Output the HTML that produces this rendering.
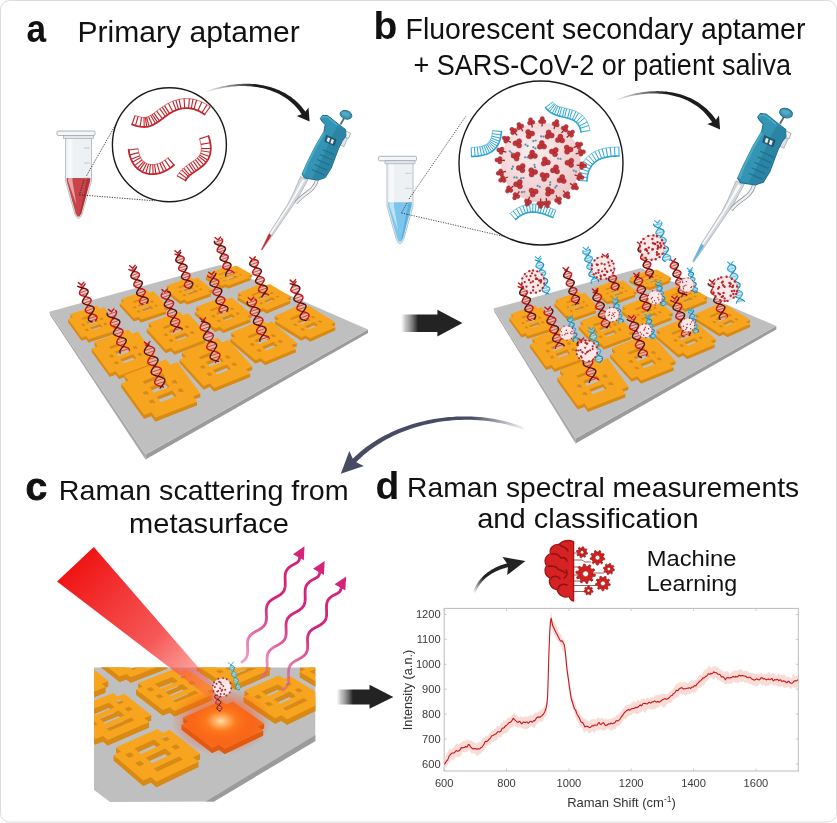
<!DOCTYPE html>
<html><head><meta charset="utf-8"><title>Figure</title><style>html,body{margin:0;padding:0;background:#fff;}body{width:837px;height:823px;overflow:hidden;font-family:"Liberation Sans",sans-serif;}svg{display:block;will-change:transform;opacity:0.999;}</style></head><body><svg width="837" height="823" viewBox="0 0 837 823" font-family="'Liberation Sans', sans-serif"><defs><linearGradient id="ga" gradientUnits="userSpaceOnUse" x1="206.2" y1="91.7" x2="256.2" y2="85.7"><stop offset="0" stop-color="#1c1c1c" stop-opacity="0.05"/><stop offset="1" stop-color="#1c1c1c" stop-opacity="1"/></linearGradient><radialGradient id="vg" cx="0.4" cy="0.35" r="0.75"><stop offset="0" stop-color="#fbeeee"/><stop offset="1" stop-color="#ecc4c6"/></radialGradient><linearGradient id="gb" gradientUnits="userSpaceOnUse" x1="616.3" y1="100" x2="666.2" y2="93"><stop offset="0" stop-color="#1c1c1c" stop-opacity="0.05"/><stop offset="1" stop-color="#1c1c1c" stop-opacity="1"/></linearGradient><linearGradient id="gab" gradientUnits="userSpaceOnUse" x1="400.9" y1="0" x2="418" y2="0"><stop offset="0" stop-color="#bdbdbd" stop-opacity="0.0"/><stop offset="0.25" stop-color="#999" stop-opacity="0.55"/><stop offset="1" stop-color="#232323"/></linearGradient><linearGradient id="gcd" gradientUnits="userSpaceOnUse" x1="336.5" y1="0" x2="353" y2="0"><stop offset="0" stop-color="#bdbdbd" stop-opacity="0.0"/><stop offset="0.25" stop-color="#999" stop-opacity="0.55"/><stop offset="1" stop-color="#232323"/></linearGradient><linearGradient id="gbc" gradientUnits="userSpaceOnUse" x1="524" y1="428.8" x2="471.2" y2="418.2"><stop offset="0" stop-color="#484b63" stop-opacity="0.05"/><stop offset="1" stop-color="#484b63" stop-opacity="1"/></linearGradient><linearGradient id="gml" gradientUnits="userSpaceOnUse" x1="474.3" y1="592.6" x2="484" y2="577.6"><stop offset="0" stop-color="#222" stop-opacity="0.05"/><stop offset="1" stop-color="#222" stop-opacity="1"/></linearGradient><radialGradient id="glow"><stop offset="0" stop-color="#ffe2a8" stop-opacity="0.95"/><stop offset="0.3" stop-color="#ff7a1a" stop-opacity="0.8"/><stop offset="0.65" stop-color="#ff4a10" stop-opacity="0.4"/><stop offset="1" stop-color="#ff3a10" stop-opacity="0"/></radialGradient><linearGradient id="beam" gradientUnits="userSpaceOnUse" x1="75" y1="565" x2="218" y2="700"><stop offset="0" stop-color="#f01414"/><stop offset="0.55" stop-color="#f43a3a" stop-opacity="0.85"/><stop offset="1" stop-color="#ff6a5a" stop-opacity="0.35"/></linearGradient><linearGradient id="w1" gradientUnits="userSpaceOnUse" x1="240" y1="661" x2="304.5" y2="546.3"><stop offset="0" stop-color="#e05a9a" stop-opacity="0.55"/><stop offset="0.5" stop-color="#d4237a"/><stop offset="1" stop-color="#d4237a"/></linearGradient><linearGradient id="w2" gradientUnits="userSpaceOnUse" x1="259.4" y1="676" x2="324.7" y2="561"><stop offset="0" stop-color="#e05a9a" stop-opacity="0.55"/><stop offset="0.5" stop-color="#d4237a"/><stop offset="1" stop-color="#d4237a"/></linearGradient><linearGradient id="w3" gradientUnits="userSpaceOnUse" x1="280.9" y1="689" x2="346.2" y2="576.5"><stop offset="0" stop-color="#e05a9a" stop-opacity="0.55"/><stop offset="0.5" stop-color="#d4237a"/><stop offset="1" stop-color="#d4237a"/></linearGradient></defs><rect x="0.5" y="0.5" width="836" height="821.5" rx="9" ry="9" fill="#fff" stroke="#dcdcdc" stroke-width="1"/><g><path d="M65.5 135 L91.5 135 L91.5 181 L82.2 214 Q78.5 223 74.8 214 L65.5 181 Z" fill="#eef1f4" stroke="#b4bac1" stroke-width="0.9"/><path d="M66.7 178 L90.3 178 L90.3 181 L81.4 213.3 Q78.5 220.6 75.6 213.3 L66.7 181 Z" fill="#c8444a"/><path d="M87 178 L90.3 178 L81.4 213.3 L79.5 215 Z" fill="#9c2229" opacity="0.55"/><path d="M68 137 L72.5 137 L72.5 181 L76.5 205 L68 181 Z" fill="#fff" opacity="0.5"/><line x1="84" y1="148" x2="90" y2="148" stroke="#aab0b8" stroke-width="0.6"/><line x1="84" y1="163" x2="90" y2="163" stroke="#aab0b8" stroke-width="0.6"/><line x1="84" y1="178" x2="90" y2="178" stroke="#aab0b8" stroke-width="0.6"/><rect x="57" y="131" width="38" height="4.5" rx="1.2" fill="#f4f6f8" stroke="#9aa1a9" stroke-width="0.8"/><rect x="63.5" y="135.5" width="30" height="3" fill="#e3e7eb" stroke="#9aa1a9" stroke-width="0.6"/></g><path d="M86.6 175.7 L116 124 M79.4 194.8 L154.7 200.8 M84 180 L79.4 194.8" stroke="#222" stroke-width="0.9" stroke-dasharray="1.2 1.3" fill="none"/><circle cx="169.4" cy="144.8" r="57" fill="#fff" stroke="#1a1a1a" stroke-width="1.4"/><polyline points="132,124.5 133.8,125.1 135.4,125.6 137,126.1 138.6,126.4 140.1,126.7 141.5,126.8 142.9,126.9 144.2,127 145.4,126.9 146.7,126.8 147.9,126.6 149,126.3 150.2,126 151.3,125.6 152.3,125.1 153.4,124.7 154.4,124.1 155.5,123.5 156.5,122.9 157.5,122.3 158.5,121.6 159.5,120.9 160.4,120.2 161.4,119.4 162.4,118.7 163.4,118 164.4,117.2 165.4,116.5 166.4,115.7 167.5,115 168.5,114.3 169.6,113.6 170.6,112.9 171.7,112.3 172.8,111.7 173.9,111.1 175.1,110.6 176.2,110.1 177.4,109.7 178.6,109.3 179.8,109 181,108.7 182.2,108.4 183.5,108.3 184.7,108.2 186,108.1 187.3,108.1 188.6,108.2 189.9,108.3 191.3,108.5 192.6,108.8 194,109.2 195.3,109.6 196.6,110.1 198,110.6 199.3,111.3 200.6,112 201.9,112.7 203.2,113.6 204.5,114.5" fill="none" stroke="#c2262c" stroke-width="1.8" stroke-linecap="round" stroke-linejoin="round"/><path d="M132 124.5L135.1 115.5M135.4 125.6L138.1 116.5M140.1 126.7L141.5 117.3M144.2 127L144 117.5M146.7 126.8L145.4 117.4M149 126.3L146.6 117.1M152.3 125.1L148.5 116.4M155.5 123.5L150.6 115.3M157.5 122.3L152.2 114.4M159.5 120.9L153.9 113.2M162.4 118.7L156.7 111.1M165.4 116.5L159.8 108.8M167.5 115L162.1 107.2M169.6 113.6L164.5 105.6M172.8 111.7L168.4 103.3M176.2 110.1L172.7 101.3M178.6 109.3L175.8 100.2M181 108.7L179 99.4M184.7 108.2L184.1 98.7M188.6 108.2L189.4 98.7M191.3 108.5L193 99.2M194 109.2L196.6 100M198 110.6L201.8 102M201.9 112.7L207 104.7M204.5 114.5L210.1 106.8" stroke="#c2262c" stroke-width="1.15" fill="none"/><polyline points="135.1,115.5 136.7,116.1 138.1,116.5 139.3,116.8 140.5,117.1 141.5,117.3 142.4,117.4 143.3,117.4 144,117.5 144.7,117.4 145.4,117.4 146,117.2 146.6,117.1 147.3,116.9 147.9,116.7 148.5,116.4 149.2,116.1 149.9,115.8 150.6,115.3 151.4,114.9 152.2,114.4 153.1,113.8 153.9,113.2 154.8,112.5 155.8,111.8 156.7,111.1 157.7,110.3 158.8,109.6 159.8,108.8 160.9,108 162.1,107.2 163.2,106.4 164.5,105.6 165.7,104.8 167,104 168.4,103.3 169.8,102.6 171.2,101.9 172.7,101.3 174.2,100.7 175.8,100.2 177.4,99.8 179,99.4 180.7,99.1 182.4,98.8 184.1,98.7 185.9,98.6 187.6,98.6 189.4,98.7 191.2,98.9 193,99.2 194.8,99.6 196.6,100 198.3,100.6 200.1,101.2 201.8,102 203.6,102.8 205.3,103.7 207,104.7 208.6,105.8 210.1,106.8" fill="none" stroke="#c2262c" stroke-width="0.8" opacity="0.85"/><polyline points="128.7,150 128.9,151.3 129.1,152.5 129.3,153.7 129.6,154.9 129.9,156.1 130.3,157.2 130.7,158.2 131.1,159.3 131.5,160.3 132,161.2 132.4,162.2 133,163.1 133.5,163.9 134.1,164.8 134.6,165.6 135.2,166.3 135.9,167 136.5,167.7 137.2,168.4 137.9,169 138.6,169.6 139.4,170.1 140.1,170.6 140.9,171.1 141.7,171.6 142.5,172 143.3,172.3 144.1,172.7 145,173 145.8,173.2 146.7,173.5 147.6,173.7 148.5,173.8 149.4,174 150.3,174.1 151.2,174.1 152.2,174.1 153.1,174.1 154,174.1 155,174 155.9,173.9 156.9,173.7 157.9,173.5 158.8,173.3 159.8,173.1 160.8,172.8 161.7,172.4 162.7,172.1 163.7,171.7 164.6,171.2 165.6,170.8 166.5,170.3 167.5,169.7 168.4,169.2 169.4,168.6 170.3,167.9 171.3,167.2 172.2,166.5 173.1,165.8 174,165" fill="none" stroke="#c2262c" stroke-width="1.8" stroke-linecap="round" stroke-linejoin="round"/><path d="M128.7 150L138.1 148.7M129.6 154.9L138.8 152.6M131.1 159.3L139.9 155.7M132.4 162.2L140.8 157.6M134.6 165.6L142.2 159.8M137.2 168.4L143.7 161.4M139.4 170.1L144.9 162.4M142.5 172L146.6 163.4M145.8 173.2L148.5 164.1M149.4 174L150.5 164.5M153.1 174.1L152.8 164.6M155.9 173.9L154.6 164.5M159.8 173.1L157.2 163.9M163.7 171.7L159.9 163M166.5 170.3L162 161.9M170.3 167.9L164.8 160.2M174 165L167.8 157.8" stroke="#c2262c" stroke-width="1.15" fill="none"/><polyline points="138.1,148.7 138.3,149.8 138.4,150.8 138.6,151.7 138.8,152.6 139.1,153.4 139.3,154.2 139.6,155 139.9,155.7 140.1,156.4 140.5,157 140.8,157.6 141.1,158.2 141.4,158.8 141.8,159.3 142.2,159.8 142.5,160.2 142.9,160.6 143.3,161 143.7,161.4 144.1,161.8 144.5,162.1 144.9,162.4 145.3,162.7 145.7,162.9 146.2,163.2 146.6,163.4 147,163.6 147.5,163.8 148,164 148.5,164.1 149,164.3 149.5,164.4 150,164.5 150.5,164.5 151.1,164.6 151.6,164.6 152.2,164.6 152.8,164.6 153.4,164.6 154,164.6 154.6,164.5 155.2,164.4 155.9,164.3 156.5,164.1 157.2,163.9 157.9,163.7 158.5,163.5 159.2,163.2 159.9,163 160.6,162.6 161.3,162.3 162,161.9 162.7,161.5 163.4,161.1 164.1,160.6 164.8,160.2 165.6,159.6 166.3,159.1 167,158.5 167.8,157.8" fill="none" stroke="#c2262c" stroke-width="0.8" opacity="0.85"/><polyline points="208.5,136 209.1,137.8 209.6,139.5 210,141.2 210.3,142.8 210.5,144.3 210.7,145.8 210.8,147.2 210.8,148.5 210.7,149.8 210.6,151 210.5,152.2 210.3,153.4 210,154.4 209.7,155.5 209.4,156.5 209,157.4 208.6,158.3 208.2,159.2 207.7,160 207.2,160.8 206.7,161.5 206.1,162.3 205.6,163 205,163.6 204.4,164.3 203.8,164.9 203.1,165.5 202.5,166 201.9,166.6 201.2,167.1 200.6,167.6 199.9,168.1 199.3,168.5 198.6,169 198,169.5 197.3,169.9 196.7,170.3 196.1,170.7 195.4,171.2 194.8,171.6 194.2,172 193.6,172.4 193.1,172.8 192.5,173.2 191.9,173.6 191.4,174 190.9,174.4 190.3,174.8 189.8,175.3 189.4,175.7 188.9,176.1 188.4,176.6 188,177 187.6,177.5 187.2,178 186.8,178.4 186.5,178.9 186.1,179.4 185.8,180 185.5,180.5" fill="none" stroke="#c2262c" stroke-width="1.8" stroke-linecap="round" stroke-linejoin="round"/><path d="M208.5 136L199.5 138.9M210.3 142.8L200.9 144.4M210.8 148.5L201.3 148.5M210.5 152.2L201.1 150.8M209.4 156.5L200.5 153.2M207.7 160L199.6 155.1M206.1 162.3L198.7 156.4M203.8 164.9L197.2 158M201.2 167.1L195.3 159.6M198.6 169L193.2 161.2M196.1 170.7L190.8 162.8M194.2 172L188.9 164.1M191.9 173.6L186.3 166M189.8 175.3L183.6 168.1M188.4 176.6L181.7 169.9M186.8 178.4L179.2 172.7M185.5 180.5L177.2 175.8" stroke="#c2262c" stroke-width="1.15" fill="none"/><polyline points="199.5,138.9 200,140.5 200.4,141.9 200.7,143.2 200.9,144.4 201.1,145.5 201.2,146.6 201.3,147.6 201.3,148.5 201.3,149.3 201.2,150.1 201.1,150.8 201,151.4 200.8,152.1 200.7,152.6 200.5,153.2 200.3,153.7 200.1,154.2 199.8,154.6 199.6,155.1 199.3,155.5 199,156 198.7,156.4 198.3,156.8 197.9,157.2 197.6,157.6 197.2,158 196.7,158.4 196.3,158.8 195.8,159.2 195.3,159.6 194.8,160 194.3,160.4 193.7,160.8 193.2,161.2 192.6,161.6 192,162 191.4,162.4 190.8,162.8 190.2,163.3 189.5,163.7 188.9,164.1 188.2,164.6 187.6,165 186.9,165.5 186.3,166 185.6,166.5 184.9,167 184.3,167.5 183.6,168.1 183,168.7 182.3,169.3 181.7,169.9 181,170.6 180.4,171.3 179.8,172 179.2,172.7 178.7,173.5 178.1,174.3 177.6,175.1 177.2,175.8" fill="none" stroke="#c2262c" stroke-width="0.8" opacity="0.85"/><polygon points="206.4,92.3 208.7,91.5 211.1,90.8 213.4,90.1 215.7,89.5 218,89 220.4,88.4 222.7,88 225,87.6 227.3,87.2 229.6,86.9 231.9,86.6 234.1,86.4 236.4,86.3 238.6,86.1 240.9,86.1 243.1,86.1 245.3,86.1 247.5,86.2 249.6,86.3 251.8,86.5 253.9,86.7 256,87 258.1,87.3 260.1,87.7 262.2,88.1 264.2,88.6 266.1,89.1 268.1,89.7 270,90.3 271.9,91 273.8,91.7 275.6,92.5 277.4,93.3 279.1,94.1 280.8,95 282.5,96 284.1,97 285.7,98 287.3,99.1 288.8,100.3 290.3,101.5 291.7,102.7 293.1,104 294.5,105.3 295.8,106.7 297,108.1 298.2,109.6 299.4,111.1 300.5,112.7 301.6,114.3 296.7,115.9 309.6,121.6 308.5,107.5 305.4,111.7 304.2,110 302.9,108.4 301.6,106.8 300.3,105.2 298.9,103.8 297.4,102.3 295.9,101 294.4,99.6 292.8,98.4 291.2,97.1 289.5,96 287.8,94.9 286.1,93.8 284.3,92.8 282.5,91.9 280.6,91 278.8,90.1 276.9,89.4 274.9,88.6 273,87.9 271,87.3 269,86.7 266.9,86.2 264.8,85.7 262.8,85.3 260.6,84.9 258.5,84.6 256.4,84.3 254.2,84.1 252,83.9 249.8,83.8 247.6,83.8 245.3,83.7 243.1,83.8 240.8,83.9 238.5,84 236.2,84.2 233.9,84.4 231.6,84.7 229.3,85 227,85.4 224.7,85.9 222.3,86.3 220,86.9 217.7,87.5 215.3,88.1 213,88.8 210.7,89.5 208.3,90.3 206,91.1" fill="url(#ga)"/><g transform="translate(261.7 250.1) scale(1) translate(-261.7 -250.1)"><polygon points="300.5,176.5 308,179.5 298,198 291.8,207 272,236.2 262,250.1 261.2,249.6 269,233.6 287.6,204.6 293,194" fill="#d4d8dc" stroke="#9aa0a6" stroke-width="0.6"/><polygon points="302.5,179.5 305,180.6 295,197 289.6,206 270.8,234.4 269.6,233.8 288.4,205 294,195.5" fill="#ffffff" opacity="0.85"/><polygon points="269.1,233.6 271.5,235.6 262,250.1 261.4,249.7" fill="#d2232a"/><path d="M317 180 C314 192 303 193 296 203" stroke="#8e959b" stroke-width="3.6" fill="none"/><path d="M317 180 C314 192 303 193 296 203" stroke="#eceff1" stroke-width="2.2" fill="none"/><line x1="340.5" y1="124.5" x2="344.2" y2="118" stroke="#5d646b" stroke-width="1.7"/><ellipse cx="346" cy="114.8" rx="6" ry="4.2" transform="rotate(18 346 114.8)" fill="#3f93b3" stroke="#1f6f8c" stroke-width="0.9"/><ellipse cx="345.6" cy="114" rx="4" ry="2.2" transform="rotate(18 345.6 114)" fill="#5aaecb" opacity="0.8"/><path d="M345.5 130.8 l5.2 2.6 l-2.2 5 l-5 -2.4 z" fill="#f1f3f5" stroke="#8e959b" stroke-width="0.7"/><path d="M343.8 137 l3.6 1.8 l-3.4 8 l-3.4 -1.8 z" fill="#dfe3e6" stroke="#8e959b" stroke-width="0.6"/><polygon points="320.3,118.4 322.7,115.3 327.6,115.6 338.5,124.2 345.6,129.6 345.9,136 342.1,141.3 338.5,148.6 331.2,168.1 325.3,177.6 317.8,180.2 304.7,178 302,174.2 306.9,163.2 315.4,146.2 323.9,131.6 325.2,124.8 321.7,121" fill="#3394b4" stroke="#1f6f8c" stroke-width="1" stroke-linejoin="round"/><polygon points="338,126 345.6,130.2 345.5,136 342,141.3 338.3,148.6 331,168 325.2,177.2 318,179.6 312,178.8 326,150 333,134" fill="#2a7f9d" opacity="0.75"/><path d="M323.5 133.5 L315.8 147 L307 164.5 L303.6 173.5" stroke="#56b3d0" stroke-width="2.2" fill="none" opacity="0.75" stroke-linecap="round"/><path d="M321.5 118.3 L323.3 116.6 L327.2 117 L337 124.8" stroke="#56b3d0" stroke-width="1.3" fill="none" opacity="0.8"/><polygon points="326.3,134.8 336.6,139.6 334.4,146 324.4,141.4" fill="#1b5871"/><polygon points="327.8,137.2 330.2,138.3 328.9,142.2 326.6,141.1" fill="#f3e9e9"/><polygon points="331.6,139 334,140.1 332.7,144 330.4,142.9" fill="#f3e9e9"/><path d="M322.5 149.5 l12.5 5.6" stroke="#1f6f8c" stroke-width="1.2" fill="none" opacity="0.9"/><path d="M319.9 154.5 l12.5 5.6" stroke="#1f6f8c" stroke-width="1.2" fill="none" opacity="0.9"/><path d="M317.2 159.5 l12.5 5.6" stroke="#1f6f8c" stroke-width="1.2" fill="none" opacity="0.9"/><path d="M314.6 164.5 l12.5 5.6" stroke="#1f6f8c" stroke-width="1.2" fill="none" opacity="0.9"/><path d="M312 169.5 l12.5 5.6" stroke="#1f6f8c" stroke-width="1.2" fill="none" opacity="0.9"/></g><polygon points="49.2,311.8 145.5,454.5 145.5,459.5 50.2,315.3" fill="#a9a9a9"/><polygon points="145.5,454.5 368,329.5 368,333 145.5,459.5" fill="#9b9b9b"/><polygon points="49.2,311.8 220,265 368,329.5 145.5,454.5" fill="#bfbfbf"/><path d="M251.9 274.2L248 275.7L248 278.6L251.9 277.1ZM250.7 277.2L228.4 285.6L228.4 288.5L250.7 280.1ZM228.4 285.6L225.6 284.1L225.6 287L228.4 288.5ZM225.6 284.1L221.7 285.6L221.7 288.5L225.6 287ZM221.7 285.6L205.9 276.8L205.9 279.7L221.7 288.5ZM209.8 275.3L207.1 273.8L207.1 276.7L209.8 278.2Z" fill="#d98a14"/><path d="M207.1 276.7 229.4 268.3 232.2 269.8 236.1 268.3 251.9 277.1 248 278.6 250.7 280.1 228.4 288.5 225.6 287 221.7 288.5 205.9 279.7 209.8 278.2ZM217.9 277.4 228.8 273.3 230.3 274.1 219.4 278.2ZM222.5 278.8 231 275.6 233.8 277.2 225.3 280.4ZM227.2 281.4 235.7 278.2 238.5 279.8 230 283ZM218.9 281 221 280.2 222.7 281.1 220.6 281.9ZM234.3 275.2 236.4 274.4 238.1 275.4 236 276.1ZM223.1 283.4 225.2 282.6 227 283.5 224.8 284.3ZM238.5 277.6 240.6 276.8 242.3 277.7 240.2 278.5Z" fill="#d98a14" fill-rule="evenodd"/><path d="M207.1 273.8 229.4 265.4 232.2 266.9 236.1 265.4 251.9 274.2 248 275.7 250.7 277.2 228.4 285.6 225.6 284.1 221.7 285.6 205.9 276.8 209.8 275.3ZM217.9 274.5 228.8 270.4 230.3 271.2 219.4 275.3ZM222.5 275.9 231 272.7 233.8 274.3 225.3 277.4ZM227.2 278.5 235.7 275.3 238.5 276.9 230 280.1ZM218.9 278.1 221 277.3 222.7 278.2 220.6 279ZM234.3 272.3 236.4 271.5 238.1 272.4 236 273.2ZM223.1 280.5 225.2 279.7 227 280.6 224.8 281.4ZM238.5 274.7 240.6 273.9 242.3 274.8 240.2 275.6Z" fill="#f7a51f" fill-rule="evenodd"/><path d="M212.5 289.6L208.3 291.1L208.3 294L212.5 292.5ZM210.9 293.2L187.1 301.7L187.1 304.6L210.9 296.2ZM187.1 301.7L184.5 299.6L184.5 302.5L187.1 304.6ZM184.5 299.6L180.3 301.1L180.3 304L184.5 302.5ZM180.3 301.1L165.3 289L165.3 291.9L180.3 304ZM169.5 287.5L166.9 285.4L166.9 288.3L169.5 290.4Z" fill="#d98a14"/><path d="M166.9 288.3 190.6 279.8 193.3 282 197.5 280.5 212.5 292.5 208.3 294 210.9 296.2 187.1 304.6 184.5 302.5 180.3 304 165.3 291.9 169.5 290.4ZM177.8 290.1 189.4 285.9 190.8 287.1 179.3 291.2ZM182.4 292.2 191.4 289 194 291.1 185 294.3ZM186.8 295.8 195.8 292.6 198.5 294.7 189.5 297.9ZM178.4 294.6 180.6 293.8 182.2 295.1 180 295.9ZM194.7 288.7 197 287.9 198.6 289.2 196.4 290ZM182.4 297.8 184.7 297 186.3 298.4 184 299.2ZM198.8 292 201 291.2 202.7 292.5 200.4 293.3Z" fill="#d98a14" fill-rule="evenodd"/><path d="M166.9 285.4 190.6 276.9 193.3 279 197.5 277.5 212.5 289.6 208.3 291.1 210.9 293.2 187.1 301.7 184.5 299.6 180.3 301.1 165.3 289 169.5 287.5ZM177.8 287.1 189.4 283 190.8 284.1 179.3 288.3ZM182.4 289.3 191.4 286.1 194 288.2 185 291.4ZM186.8 292.9 195.8 289.6 198.5 291.8 189.5 295ZM178.4 291.6 180.6 290.8 182.2 292.1 180 292.9ZM194.7 285.8 197 285 198.6 286.3 196.4 287.1ZM182.4 294.9 184.7 294.1 186.3 295.4 184 296.2ZM198.8 289 201 288.2 202.7 289.6 200.4 290.4Z" fill="#f7a51f" fill-rule="evenodd"/><path d="M290.7 296.6L286.6 298.3L286.6 301.3L290.7 299.6ZM290.3 300.5L266.6 310.3L266.6 313.4L290.3 303.6ZM266.6 310.3L262.9 308.1L262.9 311.1L266.6 313.4ZM262.9 308.1L258.7 309.8L258.7 312.8L262.9 311.1ZM258.7 309.8L237.6 297.1L237.6 300.1L258.7 312.8ZM241.8 295.4L238.1 293.1L238.1 296.2L241.8 298.4Z" fill="#d98a14"/><path d="M238.1 296.2 261.8 286.4 265.5 288.6 269.7 286.9 290.7 299.6 286.6 301.3 290.3 303.6 266.6 313.4 262.9 311.1 258.7 312.8 237.6 300.1 241.8 298.4ZM251 297.8 262.6 293 264.6 294.2 253 299ZM256.9 300 265.8 296.3 269.5 298.5 260.6 302.2ZM263.1 303.8 272.1 300.1 275.8 302.3 266.8 306ZM253.2 302.7 255.4 301.8 257.7 303.1 255.5 304.1ZM269.5 295.9 271.8 295 274.1 296.4 271.8 297.3ZM258.9 306.1 261.1 305.2 263.4 306.6 261.2 307.5ZM275.2 299.4 277.5 298.5 279.7 299.8 277.5 300.7Z" fill="#d98a14" fill-rule="evenodd"/><path d="M238.1 293.1 261.8 283.4 265.5 285.6 269.7 283.9 290.7 296.6 286.6 298.3 290.3 300.5 266.6 310.3 262.9 308.1 258.7 309.8 237.6 297.1 241.8 295.4ZM251 294.8 262.6 290 264.6 291.2 253 296ZM256.9 297 265.8 293.3 269.5 295.5 260.6 299.2ZM263.1 300.7 272.1 297 275.8 299.3 266.8 303ZM253.2 299.6 255.4 298.7 257.7 300.1 255.5 301ZM269.5 292.9 271.8 292 274.1 293.3 271.8 294.3ZM258.9 303.1 261.1 302.1 263.4 303.5 261.2 304.4ZM275.2 296.3 277.5 295.4 279.7 296.8 277.5 297.7Z" fill="#f7a51f" fill-rule="evenodd"/><path d="M168 306.7L163.6 308.2L163.6 311.2L168 309.7ZM166.1 310.9L140.9 319.5L140.9 322.5L166.1 313.9ZM140.9 319.5L138.4 316.8L138.4 319.8L140.9 322.5ZM138.4 316.8L133.9 318.3L133.9 321.3L138.4 319.8ZM133.9 318.3L119.7 302.9L119.7 305.9L133.9 321.3ZM124.1 301.4L121.6 298.7L121.6 301.7L124.1 304.4Z" fill="#d98a14"/><path d="M121.6 301.7 146.9 293.1 149.4 295.8 153.8 294.3 168 309.7 163.6 311.2 166.1 313.9 140.9 322.5 138.4 319.8 133.9 321.3 119.7 305.9 124.1 304.4ZM132.7 304.5 145 300.3 146.3 301.8 134.1 306ZM137.2 307.4 146.7 304.1 149.2 306.8 139.7 310.1ZM141.4 311.9 150.9 308.7 153.4 311.4 143.9 314.6ZM132.8 309.9 135.2 309.1 136.7 310.8 134.4 311.6ZM150.2 304 152.6 303.2 154.1 304.9 151.7 305.7ZM136.7 314.1 139 313.3 140.6 314.9 138.2 315.7ZM154 308.2 156.4 307.4 158 309 155.6 309.8Z" fill="#d98a14" fill-rule="evenodd"/><path d="M121.6 298.7 146.9 290.1 149.4 292.8 153.8 291.3 168 306.7 163.6 308.2 166.1 310.9 140.9 319.5 138.4 316.8 133.9 318.3 119.7 302.9 124.1 301.4ZM132.7 301.5 145 297.3 146.3 298.8 134.1 302.9ZM137.2 304.4 146.7 301.1 149.2 303.8 139.7 307ZM141.4 308.9 150.9 305.7 153.4 308.4 143.9 311.6ZM132.8 306.9 135.2 306.1 136.7 307.8 134.4 308.6ZM150.2 301 152.6 300.2 154.1 301.9 151.7 302.7ZM136.7 311.1 139 310.3 140.6 311.9 138.2 312.7ZM154 305.2 156.4 304.4 158 306 155.6 306.8Z" fill="#f7a51f" fill-rule="evenodd"/><path d="M251.7 314.3L247 316.1L247 319.3L251.7 317.4ZM250.5 319.1L223.3 329.7L223.3 332.9L250.5 322.2ZM223.3 329.7L219.8 326.8L219.8 329.9L223.3 332.9ZM219.8 326.8L215 328.6L215 331.8L219.8 329.9ZM215 328.6L194.9 311.8L194.9 315L215 331.8ZM199.7 310L196.2 307L196.2 310.1L199.7 313.1Z" fill="#d98a14"/><path d="M196.2 310.1 223.4 299.5 226.9 302.4 231.7 300.6 251.7 317.4 247 319.3 250.5 322.2 223.3 332.9 219.8 329.9 215 331.8 194.9 315 199.7 313.1ZM209.7 312.9 222.9 307.7 224.8 309.3 211.6 314.4ZM215.5 315.9 225.8 311.9 229.3 314.8 219 318.9ZM221.5 320.9 231.7 316.9 235.3 319.8 225 323.9ZM211.1 319 213.6 318 215.8 319.8 213.2 320.8ZM229.8 311.6 232.4 310.6 234.5 312.5 232 313.5ZM216.5 323.5 219.1 322.5 221.2 324.3 218.7 325.4ZM235.2 316.2 237.8 315.2 240 317 237.4 318Z" fill="#d98a14" fill-rule="evenodd"/><path d="M196.2 307 223.4 296.3 226.9 299.3 231.7 297.4 251.7 314.3 247 316.1 250.5 319.1 223.3 329.7 219.8 326.8 215 328.6 194.9 311.8 199.7 310ZM209.7 309.7 222.9 304.5 224.8 306.1 211.6 311.3ZM215.5 312.8 225.8 308.8 229.3 311.7 219 315.7ZM221.5 317.8 231.7 313.8 235.3 316.7 225 320.7ZM211.1 315.8 213.6 314.8 215.8 316.7 213.2 317.7ZM229.8 308.5 232.4 307.5 234.5 309.3 232 310.3ZM216.5 320.4 219.1 319.4 221.2 321.2 218.7 322.2ZM235.2 313.1 237.8 312 240 313.9 237.4 314.9Z" fill="#f7a51f" fill-rule="evenodd"/><path d="M117.5 325.9L112.8 327.4L112.8 330.5L117.5 328.9ZM115.2 330.7L88.5 339.3L88.5 342.4L115.2 333.7ZM88.5 339.3L86.2 336L86.2 339.1L88.5 342.4ZM86.2 336L81.5 337.6L81.5 340.6L86.2 339.1ZM81.5 337.6L68.1 318.9L68.1 322L81.5 340.6ZM72.8 317.4L70.4 314.1L70.4 317.2L72.8 320.5Z" fill="#d98a14"/><path d="M70.4 317.2 97.1 308.5 99.4 311.8 104.1 310.3 117.5 328.9 112.8 330.5 115.2 333.7 88.5 342.4 86.2 339.1 81.5 340.6 68.1 322 72.8 320.5ZM81.6 321 94.6 316.8 95.8 318.6 82.9 322.8ZM85.9 324.6 96 321.3 98.4 324.6 88.3 327.9ZM89.9 330.1 100 326.8 102.4 330.1 92.3 333.4ZM81.3 327.3 83.8 326.5 85.2 328.5 82.7 329.4ZM99.6 321.4 102.2 320.6 103.6 322.6 101.1 323.4ZM84.9 332.4 87.4 331.6 88.9 333.6 86.3 334.4ZM103.3 326.4 105.8 325.6 107.2 327.6 104.7 328.4Z" fill="#d98a14" fill-rule="evenodd"/><path d="M70.4 314.1 97.1 305.5 99.4 308.8 104.1 307.2 117.5 325.9 112.8 327.4 115.2 330.7 88.5 339.3 86.2 336 81.5 337.6 68.1 318.9 72.8 317.4ZM81.6 318 94.6 313.7 95.8 315.5 82.9 319.7ZM85.9 321.5 96 318.2 98.4 321.5 88.3 324.8ZM89.9 327.1 100 323.8 102.4 327.1 92.3 330.3ZM81.3 324.3 83.8 323.5 85.2 325.5 82.7 326.3ZM99.6 318.3 102.2 317.5 103.6 319.5 101.1 320.3ZM84.9 329.3 87.4 328.5 88.9 330.5 86.3 331.3ZM103.3 323.4 105.8 322.5 107.2 324.5 104.7 325.4Z" fill="#f7a51f" fill-rule="evenodd"/><path d="M335.1 322.3L330.7 324.2L330.7 327.4L335.1 325.4ZM335.3 327.1L310.2 338.3L310.2 341.5L335.3 330.3ZM310.2 338.3L305.6 335.4L305.6 338.6L310.2 341.5ZM305.6 335.4L301.2 337.3L301.2 340.5L305.6 338.6ZM301.2 337.3L274.9 320.7L274.9 323.9L301.2 340.5ZM279.3 318.8L274.7 315.9L274.7 319.1L279.3 322Z" fill="#d98a14"/><path d="M274.7 319.1 299.8 307.9 304.4 310.8 308.8 308.8 335.1 325.4 330.7 327.4 335.3 330.3 310.2 341.5 305.6 338.6 301.2 340.5 274.9 323.9 279.3 322ZM289.7 321.6 301.9 316.1 304.4 317.7 292.1 323.1ZM296.7 324.6 306.2 320.3 310.8 323.2 301.3 327.5ZM304.5 329.5 314 325.3 318.6 328.2 309.1 332.4ZM293 327.7 295.4 326.7 298.2 328.5 295.9 329.5ZM310.3 320 312.7 319 315.6 320.8 313.2 321.8ZM300.1 332.2 302.5 331.2 305.4 332.9 303 334ZM317.4 324.5 319.8 323.5 322.7 325.2 320.3 326.3Z" fill="#d98a14" fill-rule="evenodd"/><path d="M274.7 315.9 299.8 304.7 304.4 307.6 308.8 305.7 335.1 322.3 330.7 324.2 335.3 327.1 310.2 338.3 305.6 335.4 301.2 337.3 274.9 320.7 279.3 318.8ZM289.7 318.4 301.9 312.9 304.4 314.5 292.1 320ZM296.7 321.4 306.2 317.1 310.8 320.1 301.3 324.3ZM304.5 326.3 314 322.1 318.6 325 309.1 329.2ZM293 324.5 295.4 323.5 298.2 325.3 295.9 326.3ZM310.3 316.8 312.7 315.8 315.6 317.6 313.2 318.6ZM300.1 329 302.5 328 305.4 329.8 303 330.8ZM317.4 321.3 319.8 320.3 322.7 322.1 320.3 323.1Z" fill="#f7a51f" fill-rule="evenodd"/><path d="M207.2 334.1L201.8 336.2L201.8 339.4L207.2 337.4ZM205.2 339.8L174.5 351.4L174.5 354.6L205.2 343.1ZM174.5 351.4L171.2 347.7L171.2 350.9L174.5 354.6ZM171.2 347.7L165.8 349.7L165.8 352.9L171.2 350.9ZM165.8 349.7L146.7 328.8L146.7 332L165.8 352.9ZM152.1 326.7L148.7 323.1L148.7 326.3L152.1 330Z" fill="#d98a14"/><path d="M148.7 326.3 179.4 314.8 182.7 318.4 188.1 316.4 207.2 337.4 201.8 339.4 205.2 343.1 174.5 354.6 171.2 350.9 165.8 352.9 146.7 332 152.1 330ZM162.8 330.1 177.7 324.5 179.5 326.5 164.6 332.1ZM168.6 334 180.2 329.7 183.5 333.3 171.9 337.7ZM174.2 340.3 185.8 335.9 189.2 339.6 177.6 343.9ZM163.4 337.5 166.3 336.4 168.4 338.7 165.5 339.8ZM184.5 329.6 187.4 328.5 189.5 330.7 186.6 331.8ZM168.6 343.2 171.5 342.1 173.5 344.3 170.6 345.4ZM189.7 335.2 192.6 334.1 194.6 336.4 191.7 337.5Z" fill="#d98a14" fill-rule="evenodd"/><path d="M148.7 323.1 179.4 311.5 182.7 315.2 188.1 313.2 207.2 334.1 201.8 336.2 205.2 339.8 174.5 351.4 171.2 347.7 165.8 349.7 146.7 328.8 152.1 326.7ZM162.8 326.9 177.7 321.3 179.5 323.3 164.6 328.9ZM168.6 330.8 180.2 326.4 183.5 330.1 171.9 334.5ZM174.2 337 185.8 332.7 189.2 336.3 177.6 340.7ZM163.4 334.3 166.3 333.2 168.4 335.4 165.5 336.5ZM184.5 326.3 187.4 325.2 189.5 327.5 186.6 328.6ZM168.6 339.9 171.5 338.8 173.5 341.1 170.6 342.2ZM189.7 332 192.6 330.9 194.6 333.2 191.7 334.3Z" fill="#f7a51f" fill-rule="evenodd"/><path d="M296.8 342.9L291.4 345.1L291.4 348.5L296.8 346.2ZM295.8 348.9L265.2 361.7L265.2 365.1L295.8 352.2ZM265.2 361.7L260.8 357.9L260.8 361.3L265.2 365.1ZM260.8 357.9L255.4 360.2L255.4 363.5L260.8 361.3ZM255.4 360.2L230.3 338.6L230.3 341.9L255.4 363.5ZM235.7 336.4L231.3 332.6L231.3 335.9L235.7 339.7Z" fill="#d98a14"/><path d="M231.3 335.9 261.9 323.1 266.3 326.9 271.7 324.6 296.8 346.2 291.4 348.5 295.8 352.2 265.2 365.1 260.8 361.3 255.4 363.5 230.3 341.9 235.7 339.7ZM247.3 339.6 262.2 333.4 264.5 335.4 249.7 341.7ZM254.4 343.6 265.9 338.7 270.4 342.5 258.8 347.4ZM261.8 350 273.4 345.2 277.8 348.9 266.3 353.8ZM249.5 347.3 252.4 346.1 255.1 348.5 252.2 349.7ZM270.6 338.5 273.5 337.3 276.2 339.6 273.3 340.8ZM256.3 353.2 259.2 352 261.9 354.3 259 355.5ZM277.4 344.3 280.3 343.1 283 345.5 280.1 346.7Z" fill="#d98a14" fill-rule="evenodd"/><path d="M231.3 332.6 261.9 319.8 266.3 323.6 271.7 321.3 296.8 342.9 291.4 345.1 295.8 348.9 265.2 361.7 260.8 357.9 255.4 360.2 230.3 338.6 235.7 336.4ZM247.3 336.3 262.2 330.1 264.5 332.1 249.7 338.3ZM254.4 340.3 265.9 335.4 270.4 339.2 258.8 344.1ZM261.8 346.7 273.4 341.8 277.8 345.6 266.3 350.5ZM249.5 344 252.4 342.8 255.1 345.1 252.2 346.4ZM270.6 335.2 273.5 334 276.2 336.3 273.3 337.5ZM256.3 349.9 259.2 348.6 261.9 351 259 352.2ZM277.4 341 280.3 339.8 283 342.1 280.1 343.4Z" fill="#f7a51f" fill-rule="evenodd"/><path d="M155.9 356.7L149.9 358.9L149.9 362.2L155.9 360ZM153.1 363.3L119 375.7L119 379L153.1 366.6ZM119 375.7L115.8 371.3L115.8 374.6L119 379ZM115.8 371.3L109.8 373.4L109.8 376.8L115.8 374.6ZM109.8 373.4L91.7 348.4L91.7 351.7L109.8 376.8ZM97.7 346.2L94.5 341.8L94.5 345.1L97.7 349.5Z" fill="#d98a14"/><path d="M94.5 345.1 128.6 332.7 131.8 337.1 137.8 335 155.9 360 149.9 362.2 153.1 366.6 119 379 115.8 374.6 109.8 376.8 91.7 351.7 97.7 349.5ZM109.1 350.1 125.7 344 127.4 346.4 110.9 352.4ZM114.9 354.8 127.8 350.1 131 354.5 118.1 359.2ZM120.3 362.3 133.2 357.6 136.4 362 123.5 366.7ZM109 358.7 112.2 357.5 114.1 360.2 110.9 361.4ZM132.5 350.2 135.7 349 137.7 351.7 134.4 352.9ZM113.9 365.5 117.1 364.3 119 367 115.8 368.2ZM137.4 356.9 140.6 355.8 142.6 358.5 139.3 359.6Z" fill="#d98a14" fill-rule="evenodd"/><path d="M94.5 341.8 128.6 329.4 131.8 333.8 137.8 331.6 155.9 356.7 149.9 358.9 153.1 363.3 119 375.7 115.8 371.3 109.8 373.4 91.7 348.4 97.7 346.2ZM109.1 346.7 125.7 340.7 127.4 343.1 110.9 349.1ZM114.9 351.5 127.8 346.8 131 351.2 118.1 355.9ZM120.3 358.9 133.2 354.3 136.4 358.7 123.5 363.3ZM109 355.4 112.2 354.2 114.1 356.9 110.9 358.1ZM132.5 346.8 135.7 345.6 137.7 348.4 134.4 349.5ZM113.9 362.1 117.1 361 119 363.7 115.8 364.8ZM137.4 353.6 140.6 352.4 142.6 355.1 139.3 356.3Z" fill="#f7a51f" fill-rule="evenodd"/><path d="M252.3 366.4L246 368.9L246 372.4L252.3 369.8ZM250.2 373.6L214.1 388L214.1 391.5L250.2 377ZM214.1 388L209.9 383.4L209.9 386.8L214.1 391.5ZM209.9 383.4L203.6 385.9L203.6 389.4L209.9 386.8ZM203.6 385.9L179.6 359.4L179.6 362.8L203.6 389.4ZM186 356.8L181.8 352.2L181.8 355.6L186 360.3Z" fill="#d98a14"/><path d="M181.8 355.6 217.8 341.2 222 345.8 228.4 343.3 252.3 369.8 246 372.4 250.2 377 214.1 391.5 209.9 386.8 203.6 389.4 179.6 362.8 186 360.3ZM198.8 360.5 216.3 353.5 218.6 356 201.1 363ZM205.9 365.5 219.6 360 223.8 364.7 210.1 370.1ZM213 373.4 226.7 367.9 230.9 372.6 217.2 378ZM199.9 369.8 203.3 368.5 205.9 371.3 202.5 372.7ZM224.8 359.9 228.2 358.5 230.8 361.4 227.4 362.7ZM206.4 377 209.8 375.6 212.4 378.5 209 379.9ZM231.2 367 234.6 365.7 237.2 368.5 233.8 369.9Z" fill="#d98a14" fill-rule="evenodd"/><path d="M181.8 352.2 217.8 337.7 222 342.4 228.4 339.8 252.3 366.4 246 368.9 250.2 373.6 214.1 388 209.9 383.4 203.6 385.9 179.6 359.4 186 356.8ZM198.8 357.1 216.3 350 218.6 352.5 201.1 359.6ZM205.9 362 219.6 356.5 223.8 361.2 210.1 366.7ZM213 369.9 226.7 364.4 230.9 369.1 217.2 374.6ZM199.9 366.4 203.3 365 205.9 367.9 202.5 369.2ZM224.8 356.4 228.2 355 230.8 357.9 227.4 359.3ZM206.4 373.5 209.8 372.2 212.4 375.1 209 376.4ZM231.2 363.6 234.6 362.2 237.2 365.1 233.8 366.5Z" fill="#f7a51f" fill-rule="evenodd"/><path d="M200.3 393.4L193 396.2L193 399.8L200.3 397ZM197 401.7L155.4 417.8L155.4 421.4L197 405.3ZM155.4 417.8L151.4 412.3L151.4 415.9L155.4 421.4ZM151.4 412.3L144.1 415.1L144.1 418.7L151.4 415.9ZM144.1 415.1L121.3 383.6L121.3 387.2L144.1 418.7ZM128.6 380.8L124.6 375.3L124.6 378.9L128.6 384.4Z" fill="#d98a14"/><path d="M124.6 378.9 166.2 362.8 170.2 368.3 177.5 365.5 200.3 397 193 399.8 197 405.3 155.4 421.4 151.4 415.9 144.1 418.7 121.3 387.2 128.6 384.4ZM142.7 385 162.9 377.1 165.1 380.1 144.8 387.9ZM149.9 390.9 165.6 384.8 169.6 390.3 153.9 396.4ZM156.6 400.3 172.4 394.2 176.4 399.7 160.6 405.8ZM142.7 395.9 146.6 394.3 149.1 397.7 145.1 399.3ZM171.3 384.8 175.2 383.2 177.7 386.7 173.8 388.2ZM148.8 404.4 152.8 402.9 155.2 406.3 151.3 407.8ZM177.5 393.3 181.4 391.8 183.9 395.2 179.9 396.7Z" fill="#d98a14" fill-rule="evenodd"/><path d="M124.6 375.3 166.2 359.2 170.2 364.7 177.5 361.9 200.3 393.4 193 396.2 197 401.7 155.4 417.8 151.4 412.3 144.1 415.1 121.3 383.6 128.6 380.8ZM142.7 381.3 162.9 373.5 165.1 376.5 144.8 384.3ZM149.9 387.3 165.6 381.2 169.6 386.7 153.9 392.8ZM156.6 396.7 172.4 390.6 176.4 396.1 160.6 402.2ZM142.7 392.3 146.6 390.7 149.1 394.1 145.1 395.7ZM171.3 381.2 175.2 379.6 177.7 383 173.8 384.6ZM148.8 400.8 152.8 399.2 155.2 402.7 151.3 404.2ZM177.5 389.7 181.4 388.1 183.9 391.6 179.9 393.1Z" fill="#f7a51f" fill-rule="evenodd"/><polygon points="234,273.1 233.4,271.9 231.9,271.1 229.8,270.4 227.5,269.8 225.3,269.2 223.7,268.4 222.8,267.3 222.9,265.9 223.7,264.2 225.1,262.4 226.6,260.5 227.8,258.7 228.3,257.1 228,255.9 226.8,254.9 224.9,254.2 222.6,253.6 220.4,253 218.5,252.2 217.4,251.3 217.1,250 217.7,248.4 219,246.6 220.4,244.7 221.8,242.9 222.6,241.2 222.6,239.8 221.7,238.8 214.4,241.2 214.4,242.6 215.2,243.7 216.9,244.5 219,245.2 221.4,245.7 223.5,246.4 224.9,247.3 225.5,248.5 225.2,249.9 224.2,251.7 222.8,253.5 221.3,255.4 220.3,257.1 219.9,258.6 220.5,259.8 221.9,260.7 223.9,261.4 226.3,262 228.5,262.6 230.1,263.4 231,264.5 231,265.8 230.2,267.5 228.9,269.3 227.4,271.2 226.2,273 225.6,274.6 225.8,275.9" fill="#f4b6b0" opacity="0.75"/><path d="M233.4 271.9L225.6 274.6M229.8 270.4L227.4 271.2M225.3 269.2L230.2 267.5M222.8 267.3L231 264.5M223.7 264.2L228.5 262.6M226.6 260.5L223.9 261.4M228.3 257.1L220.5 259.8M226.8 254.9L220.3 257.1M222.6 253.6L222.8 253.5M218.5 252.2L225.2 249.9M217.1 250L224.9 247.3M219 246.6L221.4 245.7M221.8 242.9L216.9 244.5M222.6 239.8L214.4 242.6" stroke="#8a1a10" stroke-width="0.6"/><polyline points="234,273.1 233.4,271.9 231.9,271.1 229.8,270.4 227.5,269.8 225.3,269.2 223.7,268.4 222.8,267.3 222.9,265.9 223.7,264.2 225.1,262.4 226.6,260.5 227.8,258.7 228.3,257.1 228,255.9 226.8,254.9 224.9,254.2 222.6,253.6 220.4,253 218.5,252.2 217.4,251.3 217.1,250 217.7,248.4 219,246.6 220.4,244.7 221.8,242.9 222.6,241.2 222.6,239.8 221.7,238.8" fill="none" stroke="#c4161c" stroke-width="1.4" stroke-linecap="round"/><polyline points="225.8,275.9 225.6,274.6 226.2,273 227.4,271.2 228.9,269.3 230.2,267.5 231,265.8 231,264.5 230.1,263.4 228.5,262.6 226.3,262 223.9,261.4 221.9,260.7 220.5,259.8 219.9,258.6 220.3,257.1 221.3,255.4 222.8,253.5 224.2,251.7 225.2,249.9 225.5,248.5 224.9,247.3 223.5,246.4 221.4,245.7 219,245.2 216.9,244.5 215.2,243.7 214.4,242.6 214.4,241.2" fill="none" stroke="#5a1208" stroke-width="1.4" stroke-linecap="round"/><path d="M218.1 240 l-3 -2.5 M218.1 240 l2.5 -3" stroke="#c4161c" stroke-width="1.4" fill="none" stroke-linecap="round"/><polygon points="189.4,288.5 187.1,287.8 185.4,287 184.4,286 184.4,284.6 185.2,282.9 186.5,281.1 188,279.1 189.3,277.3 189.9,275.7 189.7,274.4 188.6,273.3 186.8,272.6 184.5,272 182.1,271.4 180.2,270.7 178.9,269.7 178.6,268.4 179.1,266.8 180.3,265 181.8,263.1 183.2,261.2 184.1,259.5 184.2,258.1 183.4,257 181.7,256.1 179.5,255.5 177.2,254.9 175,254.2 180.7,252.3 179.5,254.1 178,256 176.6,257.9 175.8,259.6 175.9,260.9 176.8,262 178.5,262.8 180.8,263.4 183.2,264 185.2,264.7 186.6,265.7 187.1,266.9 186.7,268.4 185.7,270.2 184.2,272.1 182.7,274 181.7,275.7 181.5,277.2 182.1,278.4 183.6,279.3 185.7,279.9 188.1,280.5 190.3,281.2 191.9,282 192.8,283.1 192.7,284.5 191.8,286.2 190.4,288.1" fill="#f4b6b0" opacity="0.75"/><path d="M187.1 287.8L191.8 286.2M184.4 286L192.8 283.1M185.2 282.9L190.3 281.2M188 279.1L185.7 279.9M189.9 275.7L182.1 278.4M188.6 273.3L181.7 275.7M184.5 272L184.2 272.1M180.2 270.7L186.7 268.4M178.6 268.4L186.6 265.7M180.3 265L183.2 264M183.2 261.2L178.5 262.8M184.2 258.1L175.9 260.9M181.7 256.1L176.6 257.9M177.2 254.9L179.5 254.1" stroke="#8a1a10" stroke-width="0.6"/><polyline points="189.4,288.5 187.1,287.8 185.4,287 184.4,286 184.4,284.6 185.2,282.9 186.5,281.1 188,279.1 189.3,277.3 189.9,275.7 189.7,274.4 188.6,273.3 186.8,272.6 184.5,272 182.1,271.4 180.2,270.7 178.9,269.7 178.6,268.4 179.1,266.8 180.3,265 181.8,263.1 183.2,261.2 184.1,259.5 184.2,258.1 183.4,257 181.7,256.1 179.5,255.5 177.2,254.9 175,254.2" fill="none" stroke="#c4161c" stroke-width="1.4" stroke-linecap="round"/><polyline points="190.4,288.1 191.8,286.2 192.7,284.5 192.8,283.1 191.9,282 190.3,281.2 188.1,280.5 185.7,279.9 183.6,279.3 182.1,278.4 181.5,277.2 181.7,275.7 182.7,274 184.2,272.1 185.7,270.2 186.7,268.4 187.1,266.9 186.6,265.7 185.2,264.7 183.2,264 180.8,263.4 178.5,262.8 176.8,262 175.9,260.9 175.8,259.6 176.6,257.9 178,256 179.5,254.1 180.7,252.3" fill="none" stroke="#5a1208" stroke-width="1.4" stroke-linecap="round"/><path d="M177.9 253.3 l-3 -2.5 M177.9 253.3 l2.5 -3" stroke="#c4161c" stroke-width="1.4" fill="none" stroke-linecap="round"/><polygon points="268.6,294.7 266.6,293.9 264.2,293.3 261.8,292.7 259.9,291.9 258.7,290.8 258.5,289.5 259.1,287.8 260.4,285.9 262,283.9 263.4,282 264.2,280.3 264.2,278.9 263.2,277.7 261.5,276.9 259.2,276.3 256.7,275.6 254.6,274.9 253.1,274 252.6,272.7 252.9,271.2 254.1,269.3 255.6,267.4 257.1,265.4 258.1,263.6 258.4,262.1 257.8,260.8 256.3,259.9 254.1,259.2 251.6,260.1 250.3,262 249.7,263.6 249.9,265 251.1,266 253,266.8 255.4,267.4 257.8,268.1 259.8,268.8 261,269.8 261.4,271.2 260.8,272.8 259.5,274.7 258,276.7 256.6,278.6 255.7,280.3 255.6,281.8 256.5,282.9 258.2,283.8 260.5,284.5 262.9,285.1 265.1,285.8 266.6,286.7 267.2,287.9 267,289.5 265.9,291.3 264.4,293.2 262.9,295.2 261.8,297" fill="#f4b6b0" opacity="0.75"/><path d="M266.6 293.9L262.9 295.2M261.8 292.7L265.9 291.3M258.7 290.8L267.2 287.9M259.1 287.8L265.1 285.8M262 283.9L260.5 284.5M264.2 280.3L256.5 282.9M263.2 277.7L255.7 280.3M259.2 276.3L258 276.7M254.6 274.9L260.8 272.8M252.6 272.7L261 269.8M254.1 269.3L257.8 268.1M257.1 265.4L253 266.8M258.4 262.1L249.9 265M256.3 259.9L250.3 262" stroke="#8a1a10" stroke-width="0.6"/><polyline points="268.6,294.7 266.6,293.9 264.2,293.3 261.8,292.7 259.9,291.9 258.7,290.8 258.5,289.5 259.1,287.8 260.4,285.9 262,283.9 263.4,282 264.2,280.3 264.2,278.9 263.2,277.7 261.5,276.9 259.2,276.3 256.7,275.6 254.6,274.9 253.1,274 252.6,272.7 252.9,271.2 254.1,269.3 255.6,267.4 257.1,265.4 258.1,263.6 258.4,262.1 257.8,260.8 256.3,259.9 254.1,259.2" fill="none" stroke="#c4161c" stroke-width="1.4" stroke-linecap="round"/><polyline points="261.8,297 262.9,295.2 264.4,293.2 265.9,291.3 267,289.5 267.2,287.9 266.6,286.7 265.1,285.8 262.9,285.1 260.5,284.5 258.2,283.8 256.5,282.9 255.6,281.8 255.7,280.3 256.6,278.6 258,276.7 259.5,274.7 260.8,272.8 261.4,271.2 261,269.8 259.8,268.8 257.8,268.1 255.4,267.4 253,266.8 251.1,266 249.9,265 249.7,263.6 250.3,262 251.6,260.1" fill="none" stroke="#5a1208" stroke-width="1.4" stroke-linecap="round"/><path d="M252.8 259.7 l-3 -2.5 M252.8 259.7 l2.5 -3" stroke="#c4161c" stroke-width="1.4" fill="none" stroke-linecap="round"/><polygon points="142.9,304.5 141,303.7 139.8,302.7 139.5,301.4 140.2,299.7 141.4,297.9 143,295.9 144.3,294 145.2,292.3 145.2,290.9 144.3,289.8 142.5,289 140.2,288.3 137.8,287.7 135.7,287 134.3,286.1 133.7,284.9 134.1,283.3 135.1,281.5 136.6,279.6 138.1,277.7 139.2,275.9 139.5,274.4 138.9,273.2 137.4,272.2 135.2,271.5 132.8,271 130.6,270.3 128.9,269.5 136.5,266.9 135.6,268.6 134.2,270.5 132.7,272.4 131.4,274.3 130.8,275.9 131.1,277.2 132.3,278.3 134.2,279 136.5,279.6 138.9,280.2 140.9,281 142.1,282 142.4,283.3 141.8,284.9 140.5,286.8 139,288.7 137.6,290.6 136.7,292.4 136.7,293.8 137.6,294.9 139.3,295.8 141.5,296.4 143.9,297 146.1,297.7 147.6,298.6 148.2,299.8 147.9,301.4 146.8,303.1" fill="#f4b6b0" opacity="0.75"/><path d="M141 303.7L147.9 301.4M139.5 301.4L147.6 298.6M141.4 297.9L143.9 297M144.3 294L139.3 295.8M145.2 290.9L136.7 293.8M142.5 289L137.6 290.6M137.8 287.7L140.5 286.8M134.3 286.1L142.4 283.3M134.1 283.3L140.9 281M136.6 279.6L136.5 279.6M139.2 275.9L132.3 278.3M138.9 273.2L130.8 275.9M135.2 271.5L132.7 272.4M130.6 270.3L135.6 268.6" stroke="#8a1a10" stroke-width="0.6"/><polyline points="142.9,304.5 141,303.7 139.8,302.7 139.5,301.4 140.2,299.7 141.4,297.9 143,295.9 144.3,294 145.2,292.3 145.2,290.9 144.3,289.8 142.5,289 140.2,288.3 137.8,287.7 135.7,287 134.3,286.1 133.7,284.9 134.1,283.3 135.1,281.5 136.6,279.6 138.1,277.7 139.2,275.9 139.5,274.4 138.9,273.2 137.4,272.2 135.2,271.5 132.8,271 130.6,270.3 128.9,269.5" fill="none" stroke="#c4161c" stroke-width="1.4" stroke-linecap="round"/><polyline points="146.8,303.1 147.9,301.4 148.2,299.8 147.6,298.6 146.1,297.7 143.9,297 141.5,296.4 139.3,295.8 137.6,294.9 136.7,293.8 136.7,292.4 137.6,290.6 139,288.7 140.5,286.8 141.8,284.9 142.4,283.3 142.1,282 140.9,281 138.9,280.2 136.5,279.6 134.2,279 132.3,278.3 131.1,277.2 130.8,275.9 131.4,274.3 132.7,272.4 134.2,270.5 135.6,268.6 136.5,266.9" fill="none" stroke="#5a1208" stroke-width="1.4" stroke-linecap="round"/><path d="M132.7 268.2 l-3 -2.5 M132.7 268.2 l2.5 -3" stroke="#c4161c" stroke-width="1.4" fill="none" stroke-linecap="round"/><polygon points="221.8,312.9 220,312 219,310.9 219,309.4 219.9,307.6 221.3,305.7 222.9,303.6 224.3,301.7 224.9,300 224.6,298.6 223.4,297.5 221.4,296.7 219,296.1 216.5,295.4 214.5,294.6 213.2,293.6 212.9,292.2 213.5,290.5 214.8,288.6 216.4,286.6 217.8,284.6 218.7,282.8 218.8,281.3 217.9,280.1 216.1,279.2 213.8,278.5 211.3,277.9 209,277.2 207.5,276.2 215.9,273.4 215.2,275.1 213.9,277 212.3,279.1 210.8,281 210,282.8 210,284.3 210.9,285.5 212.7,286.3 215.1,287 217.6,287.6 219.8,288.4 221.3,289.3 221.9,290.6 221.5,292.2 220.4,294.1 218.8,296.1 217.3,298.1 216.2,300 215.9,301.6 216.5,302.8 218.1,303.8 220.3,304.5 222.8,305.1 225.2,305.8 227,306.7 227.9,307.9 227.8,309.4 226.9,311.2" fill="#f4b6b0" opacity="0.75"/><path d="M220 312L227.8 309.4M219 309.4L227 306.7M221.3 305.7L222.8 305.1M224.3 301.7L218.1 303.8M224.6 298.6L215.9 301.6M221.4 296.7L217.3 298.1M216.5 295.4L220.4 294.1M213.2 293.6L221.9 290.6M213.5 290.5L219.8 288.4M216.4 286.6L215.1 287M218.7 282.8L210.9 285.5M217.9 280.1L210 282.8M213.8 278.5L212.3 279.1M209 277.2L215.2 275.1" stroke="#8a1a10" stroke-width="0.6"/><polyline points="221.8,312.9 220,312 219,310.9 219,309.4 219.9,307.6 221.3,305.7 222.9,303.6 224.3,301.7 224.9,300 224.6,298.6 223.4,297.5 221.4,296.7 219,296.1 216.5,295.4 214.5,294.6 213.2,293.6 212.9,292.2 213.5,290.5 214.8,288.6 216.4,286.6 217.8,284.6 218.7,282.8 218.8,281.3 217.9,280.1 216.1,279.2 213.8,278.5 211.3,277.9 209,277.2 207.5,276.2" fill="none" stroke="#c4161c" stroke-width="1.4" stroke-linecap="round"/><polyline points="226.9,311.2 227.8,309.4 227.9,307.9 227,306.7 225.2,305.8 222.8,305.1 220.3,304.5 218.1,303.8 216.5,302.8 215.9,301.6 216.2,300 217.3,298.1 218.8,296.1 220.4,294.1 221.5,292.2 221.9,290.6 221.3,289.3 219.8,288.4 217.6,287.6 215.1,287 212.7,286.3 210.9,285.5 210,284.3 210,282.8 210.8,281 212.3,279.1 213.9,277 215.2,275.1 215.9,273.4" fill="none" stroke="#5a1208" stroke-width="1.4" stroke-linecap="round"/><path d="M211.7 274.8 l-3 -2.5 M211.7 274.8 l2.5 -3" stroke="#c4161c" stroke-width="1.4" fill="none" stroke-linecap="round"/><polygon points="95.5,320.8 96.6,319 97.1,317.4 96.7,316.1 95.3,315.1 93.2,314.3 90.8,313.7 88.4,313.1 86.6,312.3 85.5,311.2 85.4,309.8 86.1,308.1 87.5,306.2 89,304.2 90.4,302.3 91.1,300.6 91,299.2 89.9,298.1 88.1,297.3 85.7,296.6 83.3,296 81.2,295.3 79.8,294.3 79.4,293 79.9,291.4 81.1,289.5 82.6,287.5 84.1,285.6 85.1,283.8 77.7,286.3 79.6,287.1 81.9,287.8 84.4,288.4 86.4,289.1 87.8,290.1 88.2,291.4 87.8,293 86.6,294.9 85,296.9 83.6,298.8 82.6,300.6 82.4,302.1 83.2,303.3 84.8,304.2 87,304.9 89.5,305.5 91.7,306.2 93.4,307.1 94.1,308.2 93.9,309.8 93,311.5 91.5,313.5 89.9,315.5 88.7,317.3 88.3,318.9 88.7,320.2 90.1,321.2 92.1,322" fill="#f4b6b0" opacity="0.75"/><path d="M96.6 319L90.1 321.2M96.7 316.1L88.3 318.9M93.2 314.3L89.9 315.5M88.4 313.1L93 311.5M85.5 311.2L94.1 308.2M86.1 308.1L91.7 306.2M89 304.2L87 304.9M91.1 300.6L83.2 303.3M89.9 298.1L82.6 300.6M85.7 296.6L85 296.9M81.2 295.3L87.8 293M79.4 293L87.8 290.1M81.1 289.5L84.4 288.4M84.1 285.6L79.6 287.1" stroke="#8a1a10" stroke-width="0.6"/><polyline points="95.5,320.8 96.6,319 97.1,317.4 96.7,316.1 95.3,315.1 93.2,314.3 90.8,313.7 88.4,313.1 86.6,312.3 85.5,311.2 85.4,309.8 86.1,308.1 87.5,306.2 89,304.2 90.4,302.3 91.1,300.6 91,299.2 89.9,298.1 88.1,297.3 85.7,296.6 83.3,296 81.2,295.3 79.8,294.3 79.4,293 79.9,291.4 81.1,289.5 82.6,287.5 84.1,285.6 85.1,283.8" fill="none" stroke="#c4161c" stroke-width="1.4" stroke-linecap="round"/><polyline points="92.1,322 90.1,321.2 88.7,320.2 88.3,318.9 88.7,317.3 89.9,315.5 91.5,313.5 93,311.5 93.9,309.8 94.1,308.2 93.4,307.1 91.7,306.2 89.5,305.5 87,304.9 84.8,304.2 83.2,303.3 82.4,302.1 82.6,300.6 83.6,298.8 85,296.9 86.6,294.9 87.8,293 88.2,291.4 87.8,290.1 86.4,289.1 84.4,288.4 81.9,287.8 79.6,287.1 77.7,286.3" fill="none" stroke="#5a1208" stroke-width="1.4" stroke-linecap="round"/><path d="M81.4 285.1 l-3 -2.5 M81.4 285.1 l2.5 -3" stroke="#c4161c" stroke-width="1.4" fill="none" stroke-linecap="round"/><polygon points="306.4,320.4 307.9,318.3 308.9,316.5 309.1,314.9 308.3,313.7 306.6,312.7 304.3,312 301.7,311.4 299.4,310.7 297.7,309.7 296.9,308.5 297.1,306.9 298.1,305.1 299.7,303 301.3,301 302.5,299 303,297.4 302.6,296 301.1,295 299,294.2 296.4,293.6 294,292.9 292,292 290.9,290.9 290.8,289.4 291.6,287.7 293,285.7 294.6,283.6 296,281.6 290.2,283.6 292.5,284.3 295.1,285 297.4,285.7 299.1,286.6 299.9,287.9 299.7,289.4 298.7,291.3 297.2,293.3 295.5,295.4 294.3,297.3 293.8,299 294.3,300.3 295.7,301.4 297.8,302.1 300.4,302.8 302.8,303.5 304.8,304.3 305.9,305.4 306,306.9 305.2,308.7 303.8,310.7 302.2,312.7 300.8,314.7 300,316.5 300.1,318 301.2,319.1 303.2,319.9 305.6,320.6" fill="#f4b6b0" opacity="0.75"/><path d="M307.9 318.3L303.2 319.9M309.1 314.9L300.1 318M306.6 312.7L300.8 314.7M301.7 311.4L303.8 310.7M297.7 309.7L306 306.9M297.1 306.9L304.8 304.3M299.7 303L300.4 302.8M302.5 299L295.7 301.4M302.6 296L293.8 299M299 294.2L295.5 295.4M294 292.9L298.7 291.3M290.9 290.9L299.9 287.9M291.6 287.7L297.4 285.7M294.6 283.6L292.5 284.3" stroke="#8a1a10" stroke-width="0.6"/><polyline points="306.4,320.4 307.9,318.3 308.9,316.5 309.1,314.9 308.3,313.7 306.6,312.7 304.3,312 301.7,311.4 299.4,310.7 297.7,309.7 296.9,308.5 297.1,306.9 298.1,305.1 299.7,303 301.3,301 302.5,299 303,297.4 302.6,296 301.1,295 299,294.2 296.4,293.6 294,292.9 292,292 290.9,290.9 290.8,289.4 291.6,287.7 293,285.7 294.6,283.6 296,281.6" fill="none" stroke="#c4161c" stroke-width="1.4" stroke-linecap="round"/><polyline points="305.6,320.6 303.2,319.9 301.2,319.1 300.1,318 300,316.5 300.8,314.7 302.2,312.7 303.8,310.7 305.2,308.7 306,306.9 305.9,305.4 304.8,304.3 302.8,303.5 300.4,302.8 297.8,302.1 295.7,301.4 294.3,300.3 293.8,299 294.3,297.3 295.5,295.4 297.2,293.3 298.7,291.3 299.7,289.4 299.9,287.9 299.1,286.6 297.4,285.7 295.1,285 292.5,284.3 290.2,283.6" fill="none" stroke="#5a1208" stroke-width="1.4" stroke-linecap="round"/><path d="M293.1 282.6 l-3 -2.5 M293.1 282.6 l2.5 -3" stroke="#c4161c" stroke-width="1.4" fill="none" stroke-linecap="round"/><polygon points="173.6,331.9 174.3,330.2 175.6,328.2 177.3,326.1 178.8,324.1 179.7,322.2 179.7,320.7 178.8,319.5 176.9,318.6 174.5,317.9 171.9,317.2 169.6,316.5 168,315.5 167.4,314.2 167.7,312.5 168.9,310.6 170.5,308.5 172.1,306.4 173.3,304.5 173.6,302.9 173,301.6 171.4,300.6 169.1,299.8 166.5,299.2 164.1,298.5 162.3,297.6 161.3,296.4 161.3,294.8 162.2,293 167.6,291.2 169.4,292.1 170.4,293.3 170.4,294.8 169.5,296.6 168,298.7 166.3,300.8 164.9,302.8 164.3,304.5 164.6,305.9 165.9,307 168,307.8 170.5,308.5 173,309.2 175.1,310 176.4,311.1 176.7,312.5 176.1,314.3 174.7,316.3 173,318.4 171.5,320.4 170.6,322.2 170.6,323.8 171.6,325 173.4,325.9 175.9,326.6 178.4,327.2 180.7,328 182.3,329" fill="#f4b6b0" opacity="0.75"/><path d="M174.3 330.2L180.7 328M177.3 326.1L175.9 326.6M179.7 322.2L171.6 325M178.8 319.5L170.6 322.2M174.5 317.9L173 318.4M169.6 316.5L176.1 314.3M167.4 314.2L176.4 311.1M168.9 310.6L173 309.2M172.1 306.4L168 307.8M173.6 302.9L164.6 305.9M171.4 300.6L164.9 302.8M166.5 299.2L168 298.7M162.3 297.6L170.4 294.8M161.3 294.8L169.4 292.1" stroke="#8a1a10" stroke-width="0.6"/><polyline points="173.6,331.9 174.3,330.2 175.6,328.2 177.3,326.1 178.8,324.1 179.7,322.2 179.7,320.7 178.8,319.5 176.9,318.6 174.5,317.9 171.9,317.2 169.6,316.5 168,315.5 167.4,314.2 167.7,312.5 168.9,310.6 170.5,308.5 172.1,306.4 173.3,304.5 173.6,302.9 173,301.6 171.4,300.6 169.1,299.8 166.5,299.2 164.1,298.5 162.3,297.6 161.3,296.4 161.3,294.8 162.2,293" fill="none" stroke="#c4161c" stroke-width="1.4" stroke-linecap="round"/><polyline points="182.3,329 180.7,328 178.4,327.2 175.9,326.6 173.4,325.9 171.6,325 170.6,323.8 170.6,322.2 171.5,320.4 173,318.4 174.7,316.3 176.1,314.3 176.7,312.5 176.4,311.1 175.1,310 173,309.2 170.5,308.5 168,307.8 165.9,307 164.6,305.9 164.3,304.5 164.9,302.8 166.3,300.8 168,298.7 169.5,296.6 170.4,294.8 170.4,293.3 169.4,292.1 167.6,291.2" fill="none" stroke="#5a1208" stroke-width="1.4" stroke-linecap="round"/><path d="M164.9 292.1 l-3 -2.5 M164.9 292.1 l2.5 -3" stroke="#c4161c" stroke-width="1.4" fill="none" stroke-linecap="round"/><polygon points="269.2,338.2 268.3,336.9 266.4,336 263.9,335.3 261.3,334.6 258.9,333.8 257.3,332.8 256.6,331.5 256.9,329.8 258.1,327.8 259.7,325.7 261.4,323.6 262.6,321.6 263,319.9 262.3,318.5 260.8,317.5 258.4,316.7 255.8,316 253.3,315.3 251.4,314.4 250.3,313.2 250.3,311.6 251.3,309.7 252.8,307.6 254.5,305.5 255.9,303.4 256.6,301.6 256.3,300.2 255,299 247.4,301.6 247,303.3 247.7,304.6 249.4,305.7 251.7,306.4 254.4,307.1 256.9,307.8 258.7,308.8 259.7,310 259.6,311.6 258.7,313.5 257.1,315.6 255.4,317.7 254,319.8 253.4,321.6 253.7,323 255.1,324.1 257.2,325 259.9,325.6 262.4,326.3 264.6,327.2 265.8,328.3 266.1,329.8 265.4,331.6 264,333.7 262.3,335.8 260.8,337.9 259.9,339.8 259.9,341.3" fill="#f4b6b0" opacity="0.75"/><path d="M268.3 336.9L259.9 339.8M263.9 335.3L262.3 335.8M258.9 333.8L265.4 331.6M256.6 331.5L265.8 328.3M258.1 327.8L262.4 326.3M261.4 323.6L257.2 325M263 319.9L253.7 323M260.8 317.5L254 319.8M255.8 316L257.1 315.6M251.4 314.4L259.6 311.6M250.3 311.6L258.7 308.8M252.8 307.6L254.4 307.1M255.9 303.4L249.4 305.7M256.3 300.2L247 303.3" stroke="#8a1a10" stroke-width="0.6"/><polyline points="269.2,338.2 268.3,336.9 266.4,336 263.9,335.3 261.3,334.6 258.9,333.8 257.3,332.8 256.6,331.5 256.9,329.8 258.1,327.8 259.7,325.7 261.4,323.6 262.6,321.6 263,319.9 262.3,318.5 260.8,317.5 258.4,316.7 255.8,316 253.3,315.3 251.4,314.4 250.3,313.2 250.3,311.6 251.3,309.7 252.8,307.6 254.5,305.5 255.9,303.4 256.6,301.6 256.3,300.2 255,299" fill="none" stroke="#c4161c" stroke-width="1.4" stroke-linecap="round"/><polyline points="259.9,341.3 259.9,339.8 260.8,337.9 262.3,335.8 264,333.7 265.4,331.6 266.1,329.8 265.8,328.3 264.6,327.2 262.4,326.3 259.9,325.6 257.2,325 255.1,324.1 253.7,323 253.4,321.6 254,319.8 255.4,317.7 257.1,315.6 258.7,313.5 259.6,311.6 259.7,310 258.7,308.8 256.9,307.8 254.4,307.1 251.7,306.4 249.4,305.7 247.7,304.6 247,303.3 247.4,301.6" fill="none" stroke="#5a1208" stroke-width="1.4" stroke-linecap="round"/><path d="M251.2 300.3 l-3 -2.5 M251.2 300.3 l2.5 -3" stroke="#c4161c" stroke-width="1.4" fill="none" stroke-linecap="round"/><polygon points="129.4,350 128.8,348.6 127.2,347.6 124.9,346.8 122.2,346.1 119.7,345.4 117.8,344.5 116.7,343.2 116.8,341.6 117.7,339.7 119.2,337.6 120.9,335.5 122.4,333.4 123,331.6 122.7,330.1 121.4,329 119.3,328.2 116.7,327.5 114.1,326.8 111.9,325.9 110.6,324.8 110.3,323.3 110.9,321.5 112.3,319.5 114,317.3 115.6,315.2 116.5,313.3 116.6,311.7 115.6,310.5 107.2,313.3 107.2,314.9 108.2,316.2 110.1,317.1 112.6,317.8 115.3,318.5 117.6,319.3 119.2,320.3 119.9,321.7 119.5,323.4 118.3,325.3 116.6,327.5 115,329.6 113.8,331.6 113.4,333.3 114.1,334.6 115.8,335.7 118.1,336.4 120.8,337.1 123.3,337.9 125.2,338.8 126.2,340 126.1,341.6 125.1,343.5 123.6,345.6 121.9,347.8 120.5,349.8 119.8,351.6 120.2,353.1" fill="#f4b6b0" opacity="0.75"/><path d="M128.8 348.6L119.8 351.6M124.9 346.8L121.9 347.8M119.7 345.4L125.1 343.5M116.7 343.2L126.2 340M117.7 339.7L123.3 337.9M120.9 335.5L118.1 336.4M123 331.6L114.1 334.6M121.4 329L113.8 331.6M116.7 327.5L116.6 327.5M111.9 325.9L119.5 323.4M110.3 323.3L119.2 320.3M112.3 319.5L115.3 318.5M115.6 315.2L110.1 317.1M116.6 311.7L107.2 314.9" stroke="#8a1a10" stroke-width="0.6"/><polyline points="129.4,350 128.8,348.6 127.2,347.6 124.9,346.8 122.2,346.1 119.7,345.4 117.8,344.5 116.7,343.2 116.8,341.6 117.7,339.7 119.2,337.6 120.9,335.5 122.4,333.4 123,331.6 122.7,330.1 121.4,329 119.3,328.2 116.7,327.5 114.1,326.8 111.9,325.9 110.6,324.8 110.3,323.3 110.9,321.5 112.3,319.5 114,317.3 115.6,315.2 116.5,313.3 116.6,311.7 115.6,310.5" fill="none" stroke="#c4161c" stroke-width="1.4" stroke-linecap="round"/><polyline points="120.2,353.1 119.8,351.6 120.5,349.8 121.9,347.8 123.6,345.6 125.1,343.5 126.1,341.6 126.2,340 125.2,338.8 123.3,337.9 120.8,337.1 118.1,336.4 115.8,335.7 114.1,334.6 113.4,333.3 113.8,331.6 115,329.6 116.6,327.5 118.3,325.3 119.5,323.4 119.9,321.7 119.2,320.3 117.6,319.3 115.3,318.5 112.6,317.8 110.1,317.1 108.2,316.2 107.2,314.9 107.2,313.3" fill="none" stroke="#5a1208" stroke-width="1.4" stroke-linecap="round"/><path d="M111.4 311.9 l-3 -2.5 M111.4 311.9 l2.5 -3" stroke="#c4161c" stroke-width="1.4" fill="none" stroke-linecap="round"/><polygon points="215.5,362.4 217.3,360.1 218.9,358 219.8,356 219.9,354.3 218.8,353.1 216.9,352.1 214.3,351.3 211.5,350.6 209.1,349.8 207.4,348.7 206.7,347.3 207.1,345.6 208.3,343.5 210.1,341.3 211.8,339.1 213,337 213.4,335.3 212.7,333.9 211,332.8 208.6,332 205.8,331.3 203.2,330.5 201.2,329.6 200.2,328.3 200.3,326.6 201.2,324.6 202.9,322.5 204.6,320.2 201.6,321.3 204.3,322 206.9,322.7 208.9,323.7 210,325 209.9,326.6 209,328.6 207.4,330.8 205.6,333 204.1,335.1 203.4,337 203.7,338.5 205.1,339.7 207.3,340.6 210,341.3 212.7,342 215,342.9 216.3,344.1 216.7,345.6 216,347.5 214.5,349.6 212.8,351.8 211.2,354 210.2,356 210.1,357.6 211.1,358.9 213.1,359.9 215.7,360.7 218.5,361.4" fill="#f4b6b0" opacity="0.75"/><path d="M217.3 360.1L215.7 360.7M219.8 356L211.1 358.9M218.8 353.1L210.2 356M214.3 351.3L212.8 351.8M209.1 349.8L216 347.5M206.7 347.3L216.3 344.1M208.3 343.5L212.7 342M211.8 339.1L207.3 340.6M213.4 335.3L203.7 338.5M211 332.8L204.1 335.1M205.8 331.3L207.4 330.8M201.2 329.6L209.9 326.6M200.3 326.6L208.9 323.7M202.9 322.5L204.3 322" stroke="#8a1a10" stroke-width="0.6"/><polyline points="215.5,362.4 217.3,360.1 218.9,358 219.8,356 219.9,354.3 218.8,353.1 216.9,352.1 214.3,351.3 211.5,350.6 209.1,349.8 207.4,348.7 206.7,347.3 207.1,345.6 208.3,343.5 210.1,341.3 211.8,339.1 213,337 213.4,335.3 212.7,333.9 211,332.8 208.6,332 205.8,331.3 203.2,330.5 201.2,329.6 200.2,328.3 200.3,326.6 201.2,324.6 202.9,322.5 204.6,320.2" fill="none" stroke="#c4161c" stroke-width="1.4" stroke-linecap="round"/><polyline points="218.5,361.4 215.7,360.7 213.1,359.9 211.1,358.9 210.1,357.6 210.2,356 211.2,354 212.8,351.8 214.5,349.6 216,347.5 216.7,345.6 216.3,344.1 215,342.9 212.7,342 210,341.3 207.3,340.6 205.1,339.7 203.7,338.5 203.4,337 204.1,335.1 205.6,333 207.4,330.8 209,328.6 209.9,326.6 210,325 208.9,323.7 206.9,322.7 204.3,322 201.6,321.3" fill="none" stroke="#5a1208" stroke-width="1.4" stroke-linecap="round"/><path d="M203.1 320.7 l-3 -2.5 M203.1 320.7 l2.5 -3" stroke="#c4161c" stroke-width="1.4" fill="none" stroke-linecap="round"/><polygon points="163.4,387 160.5,386.2 157.8,385.4 155.7,384.4 154.7,383.1 154.7,381.4 155.7,379.3 157.4,377 159.2,374.7 160.7,372.5 161.5,370.6 161.2,369 159.8,367.7 157.4,366.8 154.6,366 151.8,365.3 149.5,364.4 148,363.1 147.7,361.5 148.4,359.6 149.9,357.4 151.8,355.1 153.4,352.8 154.5,350.7 154.5,349 153.5,347.7 151.4,346.6 148.7,345.8 145.8,345.1 148.9,344.1 147.1,346.4 145.4,348.7 144.4,350.7 144.4,352.4 145.4,353.8 147.5,354.8 150.2,355.6 153.1,356.3 155.6,357.2 157.4,358.3 158.1,359.8 157.7,361.6 156.4,363.7 154.6,366.1 152.8,368.4 151.5,370.5 151.1,372.3 151.8,373.8 153.6,374.9 156.1,375.8 159,376.5 161.7,377.3 163.8,378.3 164.8,379.7 164.8,381.4 163.7,383.4 162.1,385.7 160.2,388" fill="#f4b6b0" opacity="0.75"/><path d="M160.5 386.2L162.1 385.7M155.7 384.4L164.8 381.4M154.7 381.4L163.8 378.3M157.4 377L159 376.5M160.7 372.5L153.6 374.9M161.2 369L151.1 372.3M157.4 366.8L152.8 368.4M151.8 365.3L156.4 363.7M148 363.1L158.1 359.8M148.4 359.6L155.6 357.2M151.8 355.1L150.2 355.6M154.5 350.7L145.4 353.8M153.5 347.7L144.4 350.7M148.7 345.8L147.1 346.4" stroke="#8a1a10" stroke-width="0.6"/><polyline points="163.4,387 160.5,386.2 157.8,385.4 155.7,384.4 154.7,383.1 154.7,381.4 155.7,379.3 157.4,377 159.2,374.7 160.7,372.5 161.5,370.6 161.2,369 159.8,367.7 157.4,366.8 154.6,366 151.8,365.3 149.5,364.4 148,363.1 147.7,361.5 148.4,359.6 149.9,357.4 151.8,355.1 153.4,352.8 154.5,350.7 154.5,349 153.5,347.7 151.4,346.6 148.7,345.8 145.8,345.1" fill="none" stroke="#c4161c" stroke-width="1.4" stroke-linecap="round"/><polyline points="160.2,388 162.1,385.7 163.7,383.4 164.8,381.4 164.8,379.7 163.8,378.3 161.7,377.3 159,376.5 156.1,375.8 153.6,374.9 151.8,373.8 151.1,372.3 151.5,370.5 152.8,368.4 154.6,366.1 156.4,363.7 157.7,361.6 158.1,359.8 157.4,358.3 155.6,357.2 153.1,356.3 150.2,355.6 147.5,354.8 145.4,353.8 144.4,352.4 144.4,350.7 145.4,348.7 147.1,346.4 148.9,344.1" fill="none" stroke="#5a1208" stroke-width="1.4" stroke-linecap="round"/><path d="M147.4 344.6 l-3 -2.5 M147.4 344.6 l2.5 -3" stroke="#c4161c" stroke-width="1.4" fill="none" stroke-linecap="round"/><g><path d="M387 160.3 L413 160.3 L413 206.3 L403.7 239.3 Q400 248.3 396.3 239.3 L387 206.3 Z" fill="#eef1f4" stroke="#b4bac1" stroke-width="0.9"/><path d="M388.2 202.3 L411.8 202.3 L411.8 206.3 L402.9 238.6 Q400 245.9 397.1 238.6 L388.2 206.3 Z" fill="#7cc6ec"/><path d="M408.5 202.3 L411.8 202.3 L402.9 238.6 L401 240.3 Z" fill="#3f9fd2" opacity="0.55"/><path d="M389.5 162.3 L394 162.3 L394 206.3 L398 230.3 L389.5 206.3 Z" fill="#fff" opacity="0.5"/><line x1="405.5" y1="173.3" x2="411.5" y2="173.3" stroke="#aab0b8" stroke-width="0.6"/><line x1="405.5" y1="188.3" x2="411.5" y2="188.3" stroke="#aab0b8" stroke-width="0.6"/><line x1="405.5" y1="203.3" x2="411.5" y2="203.3" stroke="#aab0b8" stroke-width="0.6"/><rect x="378.5" y="156.3" width="38" height="4.5" rx="1.2" fill="#f4f6f8" stroke="#9aa1a9" stroke-width="0.8"/><rect x="385" y="160.8" width="30" height="3" fill="#e3e7eb" stroke="#9aa1a9" stroke-width="0.6"/></g><path d="M409 199 L466 116 M401.5 213 L513 238.5 M407 203 L401.5 213" stroke="#222" stroke-width="0.8" stroke-dasharray="1.2 1.3" fill="none"/><circle cx="541" cy="163" r="82" fill="#fff" stroke="#1a1a1a" stroke-width="1.4"/><polyline points="545.5,107.5 546,108.2 546.6,108.9 547.2,109.5 547.7,110.1 548.3,110.6 549,111.2 549.6,111.7 550.2,112.1 550.9,112.6 551.6,113 552.2,113.3 552.9,113.7 553.6,114 554.3,114.3 555.1,114.6 555.8,114.9 556.5,115.2 557.2,115.4 558,115.6 558.7,115.9 559.4,116.1 560.2,116.3 560.9,116.4 561.7,116.6 562.4,116.8 563.1,117 563.9,117.2 564.6,117.3 565.3,117.5 566.1,117.7 566.8,117.9 567.5,118.1 568.2,118.3 568.9,118.5 569.6,118.7 570.2,118.9 570.9,119.2 571.5,119.4 572.2,119.7 572.8,120 573.4,120.3 574,120.6 574.6,121 575.1,121.4 575.7,121.8 576.2,122.2 576.7,122.7 577.2,123.2 577.6,123.7 578.1,124.2 578.5,124.8 578.9,125.5 579.2,126.1 579.6,126.8 579.9,127.6 580.2,128.4 580.4,129.2 580.6,130.1 580.8,131 581,132" fill="none" stroke="#2aa5d5" stroke-width="1.6" stroke-linecap="round" stroke-linejoin="round"/><path d="M545.5 107.5L552.7 102.1M547.7 110.1L554 103.6M549.6 111.7L555 104.4M552.2 113.3L556.5 105.4M554.3 114.3L557.9 106.1M557.2 115.4L560 106.8M559.4 116.1L561.8 107.4M562.4 116.8L564.5 108.1M564.6 117.3L566.7 108.6M567.5 118.1L569.9 109.4M569.6 118.7L572.4 110.1M572.2 119.7L575.9 111.5M574 120.6L578.6 112.9M576.2 122.2L582.1 115.4M577.6 123.7L584.6 118M579.2 126.1L587.2 122M580.2 128.4L588.7 125.5M581 132L589.9 130.5" stroke="#2aa5d5" stroke-width="1.0" fill="none"/><polyline points="552.7,102.1 553.1,102.6 553.4,103 553.7,103.3 554,103.6 554.3,103.9 554.6,104.2 555,104.4 555.3,104.7 555.7,104.9 556.1,105.2 556.5,105.4 556.9,105.6 557.4,105.8 557.9,106.1 558.4,106.3 558.9,106.5 559.4,106.7 560,106.8 560.6,107 561.2,107.2 561.8,107.4 562.5,107.5 563.1,107.7 563.8,107.9 564.5,108.1 565.2,108.2 566,108.4 566.7,108.6 567.5,108.8 568.3,109 569.1,109.2 569.9,109.4 570.7,109.6 571.5,109.9 572.4,110.1 573.2,110.4 574.1,110.8 575,111.1 575.9,111.5 576.8,111.9 577.7,112.4 578.6,112.9 579.5,113.4 580.4,114.1 581.3,114.7 582.1,115.4 583,116.2 583.8,117.1 584.6,118 585.3,118.9 586,119.9 586.6,121 587.2,122 587.8,123.2 588.3,124.3 588.7,125.5 589.1,126.8 589.4,128 589.7,129.3 589.9,130.5" fill="none" stroke="#2aa5d5" stroke-width="0.8" opacity="0.85"/><polyline points="501.5,131.5 501.4,132.4 501.3,133.3 501.2,134.2 501.1,135 500.9,135.9 500.8,136.7 500.6,137.5 500.4,138.2 500.3,139 500,139.7 499.8,140.5 499.6,141.2 499.3,141.8 499.1,142.5 498.8,143.1 498.5,143.8 498.2,144.4 497.9,145 497.5,145.5 497.2,146.1 496.8,146.6 496.4,147.2 496,147.7 495.6,148.1 495.2,148.6 494.8,149.1 494.3,149.5 493.8,149.9 493.4,150.4 492.9,150.8 492.4,151.1 491.8,151.5 491.3,151.8 490.8,152.2 490.2,152.5 489.6,152.8 489,153.1 488.4,153.4 487.8,153.7 487.2,153.9 486.5,154.1 485.9,154.4 485.2,154.6 484.5,154.8 483.8,155 483.1,155.2 482.3,155.3 481.6,155.5 480.8,155.6 480,155.8 479.3,155.9 478.4,156 477.6,156.1 476.8,156.2 475.9,156.3 475.1,156.3 474.2,156.4 473.3,156.4 472.4,156.5 471.5,156.5" fill="none" stroke="#2aa5d5" stroke-width="1.6" stroke-linecap="round" stroke-linejoin="round"/><path d="M501.5 131.5L492.5 130.7M501.1 135L492.2 133.6M500.4 138.2L491.7 136.1M499.6 141.2L491.1 138.1M498.5 143.8L490.4 139.8M497.2 146.1L489.6 141.2M495.6 148.1L488.8 142.3M493.8 149.9L487.9 143.2M491.8 151.5L486.8 144M489.6 152.8L485.5 144.8M487.2 153.9L483.9 145.5M484.5 154.8L482 146.1M481.6 155.5L479.8 146.7M478.4 156L477.3 147.1M475.1 156.3L474.4 147.3M471.5 156.5L471.2 147.5" stroke="#2aa5d5" stroke-width="1.0" fill="none"/><polyline points="492.5,130.7 492.5,131.5 492.4,132.3 492.3,133 492.2,133.6 492.1,134.3 492,134.9 491.8,135.5 491.7,136.1 491.6,136.6 491.4,137.2 491.3,137.7 491.1,138.1 490.9,138.6 490.8,139 490.6,139.4 490.4,139.8 490.2,140.2 490,140.5 489.8,140.9 489.6,141.2 489.4,141.5 489.2,141.7 489,142 488.8,142.3 488.6,142.5 488.4,142.8 488.1,143 487.9,143.2 487.6,143.4 487.4,143.6 487.1,143.8 486.8,144 486.5,144.2 486.2,144.4 485.9,144.6 485.5,144.8 485.1,145 484.8,145.2 484.4,145.3 483.9,145.5 483.5,145.7 483,145.8 482.5,146 482,146.1 481.5,146.3 481,146.4 480.4,146.5 479.8,146.7 479.2,146.8 478.6,146.9 478,147 477.3,147.1 476.6,147.1 475.9,147.2 475.2,147.3 474.4,147.3 473.7,147.4 472.9,147.4 472.1,147.5 471.2,147.5" fill="none" stroke="#2aa5d5" stroke-width="0.8" opacity="0.85"/><polyline points="587,181 587.1,180.1 587.1,179.2 587.2,178.4 587.3,177.5 587.4,176.7 587.6,175.9 587.7,175.1 587.9,174.4 588.1,173.6 588.3,172.9 588.5,172.2 588.7,171.5 588.9,170.8 589.2,170.1 589.5,169.5 589.8,168.9 590.1,168.3 590.4,167.7 590.7,167.1 591.1,166.5 591.4,166 591.8,165.4 592.2,164.9 592.6,164.4 593.1,163.9 593.5,163.5 594,163 594.5,162.6 595,162.2 595.5,161.8 596,161.4 596.6,161 597.2,160.6 597.7,160.3 598.3,159.9 599,159.6 599.6,159.3 600.2,159 600.9,158.7 601.6,158.5 602.3,158.2 603,158 603.8,157.8 604.5,157.6 605.3,157.4 606.1,157.2 606.9,157 607.7,156.9 608.5,156.7 609.4,156.6 610.3,156.5 611.2,156.4 612.1,156.3 613,156.2 614,156.1 614.9,156.1 615.9,156.1 616.9,156 618,156 619,156" fill="none" stroke="#2aa5d5" stroke-width="1.6" stroke-linecap="round" stroke-linejoin="round"/><path d="M587 181L578 180.4M587.3 177.5L578.4 176.4M587.9 174.4L579.1 172.4M588.7 171.5L580.2 168.6M589.8 168.9L581.6 165M591.1 166.5L583.5 161.6M592.6 164.4L585.8 158.5M594.5 162.6L588.6 155.8M596.6 161L591.6 153.5M599 159.6L594.9 151.6M601.6 158.5L598.5 150M604.5 157.6L602.2 148.9M607.7 156.9L606.1 148M611.2 156.4L610.2 147.4M614.9 156.1L614.5 147.1M619 156L618.9 147" stroke="#2aa5d5" stroke-width="1.0" fill="none"/><polyline points="578,180.4 578.1,179.4 578.2,178.4 578.3,177.4 578.4,176.4 578.5,175.3 578.7,174.3 578.9,173.4 579.1,172.4 579.3,171.4 579.6,170.5 579.9,169.5 580.2,168.6 580.5,167.7 580.9,166.8 581.2,165.9 581.6,165 582.1,164.1 582.5,163.3 583,162.4 583.5,161.6 584.1,160.8 584.6,160 585.2,159.3 585.8,158.5 586.5,157.8 587.2,157.1 587.8,156.5 588.6,155.8 589.3,155.2 590,154.6 590.8,154 591.6,153.5 592.4,153 593.2,152.5 594.1,152 594.9,151.6 595.8,151.1 596.7,150.8 597.6,150.4 598.5,150 599.4,149.7 600.3,149.4 601.3,149.1 602.2,148.9 603.2,148.6 604.2,148.4 605.1,148.2 606.1,148 607.1,147.8 608.2,147.7 609.2,147.6 610.2,147.4 611.3,147.3 612.3,147.2 613.4,147.2 614.5,147.1 615.6,147.1 616.7,147 617.9,147 618.9,147" fill="none" stroke="#2aa5d5" stroke-width="0.8" opacity="0.85"/><polyline points="515.6,219.4 516.2,218.8 516.8,218.3 517.5,217.8 518.1,217.3 518.7,216.9 519.3,216.4 519.9,216 520.5,215.6 521.2,215.3 521.8,214.9 522.4,214.6 523,214.3 523.6,214 524.2,213.8 524.8,213.5 525.5,213.3 526.1,213.1 526.7,212.9 527.3,212.8 527.9,212.6 528.5,212.5 529.1,212.4 529.8,212.3 530.4,212.2 531,212.2 531.6,212.1 532.2,212.1 532.8,212.1 533.4,212.1 534,212.1 534.7,212.1 535.3,212.2 535.9,212.3 536.5,212.3 537.1,212.4 537.7,212.5 538.4,212.6 539,212.7 539.6,212.9 540.2,213 540.8,213.2 541.5,213.3 542.1,213.5 542.7,213.7 543.3,213.9 544,214.1 544.6,214.3 545.2,214.5 545.8,214.7 546.5,214.9 547.1,215.2 547.7,215.4 548.4,215.7 549,215.9 549.6,216.2 550.3,216.4 550.9,216.7 551.5,217 552.2,217.2 552.8,217.5" fill="none" stroke="#2aa5d5" stroke-width="1.6" stroke-linecap="round" stroke-linejoin="round"/><path d="M515.6 219.4L510.3 213.5M518.1 217.3L513.2 211M520.5 215.6L516.4 208.8M523 214.3L519.6 207.1M525.5 213.3L522.9 205.7M527.9 212.6L526.2 204.8M530.4 212.2L529.5 204.3M532.8 212.1L532.8 204.1M535.3 212.2L536 204.2M537.7 212.5L539.1 204.6M540.2 213L542.1 205.2M542.7 213.7L545 206M545.2 214.5L547.8 206.9M547.7 215.4L550.6 207.9M550.3 216.4L553.3 209M552.8 217.5L555.9 210.1" stroke="#2aa5d5" stroke-width="1.0" fill="none"/><polyline points="510.3,213.5 510.9,212.8 511.7,212.2 512.5,211.6 513.2,211 514,210.4 514.8,209.8 515.6,209.3 516.4,208.8 517.2,208.3 518,207.9 518.8,207.5 519.6,207.1 520.4,206.7 521.2,206.3 522.1,206 522.9,205.7 523.7,205.5 524.5,205.2 525.4,205 526.2,204.8 527,204.6 527.9,204.5 528.7,204.4 529.5,204.3 530.3,204.2 531.2,204.1 532,204.1 532.8,204.1 533.6,204.1 534.4,204.1 535.2,204.2 536,204.2 536.8,204.3 537.5,204.4 538.3,204.5 539.1,204.6 539.8,204.8 540.6,204.9 541.3,205.1 542.1,205.2 542.8,205.4 543.5,205.6 544.3,205.8 545,206 545.7,206.2 546.4,206.5 547.1,206.7 547.8,206.9 548.5,207.2 549.2,207.4 549.9,207.7 550.6,207.9 551.3,208.2 552,208.5 552.6,208.8 553.3,209 554,209.3 554.6,209.6 555.3,209.9 555.9,210.1" fill="none" stroke="#2aa5d5" stroke-width="0.8" opacity="0.85"/><circle cx="540.8" cy="162.5" r="40" fill="url(#vg)"/><line x1="576.7" y1="165.2" x2="581.5" y2="165.5" stroke="#9c2328" stroke-width="1.3"/><circle cx="584.7" cy="165.8" r="2" fill="#c0353a" stroke="#9c2328" stroke-width="0.5"/><circle cx="581.6" cy="167.3" r="2" fill="#c0353a" stroke="#9c2328" stroke-width="0.5"/><circle cx="581.8" cy="163.8" r="2" fill="#c0353a" stroke="#9c2328" stroke-width="0.5"/><line x1="574.6" y1="174.9" x2="579.1" y2="176.5" stroke="#9c2328" stroke-width="1.3"/><circle cx="582.1" cy="177.6" r="2" fill="#c0353a" stroke="#9c2328" stroke-width="0.5"/><circle cx="578.7" cy="178.2" r="2" fill="#c0353a" stroke="#9c2328" stroke-width="0.5"/><circle cx="579.9" cy="175" r="2" fill="#c0353a" stroke="#9c2328" stroke-width="0.5"/><line x1="570.1" y1="183.4" x2="574" y2="186.2" stroke="#9c2328" stroke-width="1.3"/><circle cx="576.6" cy="188" r="2" fill="#c0353a" stroke="#9c2328" stroke-width="0.5"/><circle cx="573.2" cy="187.7" r="2" fill="#c0353a" stroke="#9c2328" stroke-width="0.5"/><circle cx="575.2" cy="184.9" r="2" fill="#c0353a" stroke="#9c2328" stroke-width="0.5"/><line x1="563.2" y1="190.7" x2="566.2" y2="194.4" stroke="#9c2328" stroke-width="1.3"/><circle cx="568.2" cy="196.9" r="2" fill="#c0353a" stroke="#9c2328" stroke-width="0.5"/><circle cx="565" cy="195.7" r="2" fill="#c0353a" stroke="#9c2328" stroke-width="0.5"/><circle cx="567.7" cy="193.5" r="2" fill="#c0353a" stroke="#9c2328" stroke-width="0.5"/><line x1="556" y1="195.2" x2="558" y2="199.5" stroke="#9c2328" stroke-width="1.3"/><circle cx="559.3" cy="202.4" r="2" fill="#c0353a" stroke="#9c2328" stroke-width="0.5"/><circle cx="556.5" cy="200.4" r="2" fill="#c0353a" stroke="#9c2328" stroke-width="0.5"/><circle cx="559.6" cy="199" r="2" fill="#c0353a" stroke="#9c2328" stroke-width="0.5"/><line x1="546.2" y1="198.1" x2="546.9" y2="202.8" stroke="#9c2328" stroke-width="1.3"/><circle cx="547.4" cy="206" r="2" fill="#c0353a" stroke="#9c2328" stroke-width="0.5"/><circle cx="545.3" cy="203.3" r="2" fill="#c0353a" stroke="#9c2328" stroke-width="0.5"/><circle cx="548.7" cy="202.8" r="2" fill="#c0353a" stroke="#9c2328" stroke-width="0.5"/><line x1="540.7" y1="198.5" x2="540.7" y2="203.3" stroke="#9c2328" stroke-width="1.3"/><circle cx="540.6" cy="206.5" r="2" fill="#c0353a" stroke="#9c2328" stroke-width="0.5"/><circle cx="538.9" cy="203.5" r="2" fill="#c0353a" stroke="#9c2328" stroke-width="0.5"/><circle cx="542.4" cy="203.5" r="2" fill="#c0353a" stroke="#9c2328" stroke-width="0.5"/><line x1="529.6" y1="196.7" x2="528.1" y2="201.3" stroke="#9c2328" stroke-width="1.3"/><circle cx="527.1" cy="204.3" r="2" fill="#c0353a" stroke="#9c2328" stroke-width="0.5"/><circle cx="526.4" cy="200.9" r="2" fill="#c0353a" stroke="#9c2328" stroke-width="0.5"/><circle cx="529.6" cy="202" r="2" fill="#c0353a" stroke="#9c2328" stroke-width="0.5"/><line x1="519.4" y1="191.4" x2="516.5" y2="195.3" stroke="#9c2328" stroke-width="1.3"/><circle cx="514.6" cy="197.9" r="2" fill="#c0353a" stroke="#9c2328" stroke-width="0.5"/><circle cx="515" cy="194.4" r="2" fill="#c0353a" stroke="#9c2328" stroke-width="0.5"/><circle cx="517.8" cy="196.5" r="2" fill="#c0353a" stroke="#9c2328" stroke-width="0.5"/><line x1="513.4" y1="185.9" x2="509.8" y2="189" stroke="#9c2328" stroke-width="1.3"/><circle cx="507.4" cy="191.1" r="2" fill="#c0353a" stroke="#9c2328" stroke-width="0.5"/><circle cx="508.5" cy="187.8" r="2" fill="#c0353a" stroke="#9c2328" stroke-width="0.5"/><circle cx="510.8" cy="190.5" r="2" fill="#c0353a" stroke="#9c2328" stroke-width="0.5"/><line x1="507.9" y1="177" x2="503.5" y2="179" stroke="#9c2328" stroke-width="1.3"/><circle cx="500.6" cy="180.3" r="2" fill="#c0353a" stroke="#9c2328" stroke-width="0.5"/><circle cx="502.6" cy="177.5" r="2" fill="#c0353a" stroke="#9c2328" stroke-width="0.5"/><circle cx="504" cy="180.6" r="2" fill="#c0353a" stroke="#9c2328" stroke-width="0.5"/><line x1="505.9" y1="171.3" x2="501.3" y2="172.5" stroke="#9c2328" stroke-width="1.3"/><circle cx="498.2" cy="173.3" r="2" fill="#c0353a" stroke="#9c2328" stroke-width="0.5"/><circle cx="500.6" cy="170.9" r="2" fill="#c0353a" stroke="#9c2328" stroke-width="0.5"/><circle cx="501.5" cy="174.2" r="2" fill="#c0353a" stroke="#9c2328" stroke-width="0.5"/><line x1="504.9" y1="160.5" x2="500.1" y2="160.2" stroke="#9c2328" stroke-width="1.3"/><circle cx="496.9" cy="160" r="2" fill="#c0353a" stroke="#9c2328" stroke-width="0.5"/><circle cx="500" cy="158.5" r="2" fill="#c0353a" stroke="#9c2328" stroke-width="0.5"/><circle cx="499.8" cy="161.9" r="2" fill="#c0353a" stroke="#9c2328" stroke-width="0.5"/><line x1="506.3" y1="152.2" x2="501.7" y2="150.8" stroke="#9c2328" stroke-width="1.3"/><circle cx="498.7" cy="149.9" r="2" fill="#c0353a" stroke="#9c2328" stroke-width="0.5"/><circle cx="502" cy="149.1" r="2" fill="#c0353a" stroke="#9c2328" stroke-width="0.5"/><circle cx="501" cy="152.4" r="2" fill="#c0353a" stroke="#9c2328" stroke-width="0.5"/><line x1="510.9" y1="142.5" x2="506.9" y2="139.8" stroke="#9c2328" stroke-width="1.3"/><circle cx="504.2" cy="138.1" r="2" fill="#c0353a" stroke="#9c2328" stroke-width="0.5"/><circle cx="507.7" cy="138.3" r="2" fill="#c0353a" stroke="#9c2328" stroke-width="0.5"/><circle cx="505.7" cy="141.2" r="2" fill="#c0353a" stroke="#9c2328" stroke-width="0.5"/><line x1="517.2" y1="135.4" x2="514" y2="131.7" stroke="#9c2328" stroke-width="1.3"/><circle cx="511.9" cy="129.3" r="2" fill="#c0353a" stroke="#9c2328" stroke-width="0.5"/><circle cx="515.2" cy="130.4" r="2" fill="#c0353a" stroke="#9c2328" stroke-width="0.5"/><circle cx="512.6" cy="132.7" r="2" fill="#c0353a" stroke="#9c2328" stroke-width="0.5"/><line x1="522.8" y1="131.3" x2="520.5" y2="127.1" stroke="#9c2328" stroke-width="1.3"/><circle cx="518.9" cy="124.4" r="2" fill="#c0353a" stroke="#9c2328" stroke-width="0.5"/><circle cx="521.8" cy="126.1" r="2" fill="#c0353a" stroke="#9c2328" stroke-width="0.5"/><circle cx="518.9" cy="127.8" r="2" fill="#c0353a" stroke="#9c2328" stroke-width="0.5"/><line x1="532.4" y1="127.5" x2="531.3" y2="122.8" stroke="#9c2328" stroke-width="1.3"/><circle cx="530.5" cy="119.7" r="2" fill="#c0353a" stroke="#9c2328" stroke-width="0.5"/><circle cx="532.9" cy="122.2" r="2" fill="#c0353a" stroke="#9c2328" stroke-width="0.5"/><circle cx="529.5" cy="123" r="2" fill="#c0353a" stroke="#9c2328" stroke-width="0.5"/><line x1="542" y1="126.5" x2="542.2" y2="121.7" stroke="#9c2328" stroke-width="1.3"/><circle cx="542.3" cy="118.5" r="2" fill="#c0353a" stroke="#9c2328" stroke-width="0.5"/><circle cx="543.9" cy="121.6" r="2" fill="#c0353a" stroke="#9c2328" stroke-width="0.5"/><circle cx="540.5" cy="121.5" r="2" fill="#c0353a" stroke="#9c2328" stroke-width="0.5"/><line x1="553.9" y1="129" x2="555.6" y2="124.5" stroke="#9c2328" stroke-width="1.3"/><circle cx="556.8" cy="121.5" r="2" fill="#c0353a" stroke="#9c2328" stroke-width="0.5"/><circle cx="557.3" cy="124.9" r="2" fill="#c0353a" stroke="#9c2328" stroke-width="0.5"/><circle cx="554.1" cy="123.7" r="2" fill="#c0353a" stroke="#9c2328" stroke-width="0.5"/><line x1="561.6" y1="133.1" x2="564.4" y2="129.2" stroke="#9c2328" stroke-width="1.3"/><circle cx="566.2" cy="126.6" r="2" fill="#c0353a" stroke="#9c2328" stroke-width="0.5"/><circle cx="565.9" cy="130" r="2" fill="#c0353a" stroke="#9c2328" stroke-width="0.5"/><circle cx="563.1" cy="128" r="2" fill="#c0353a" stroke="#9c2328" stroke-width="0.5"/><line x1="566.7" y1="137.5" x2="570.2" y2="134.2" stroke="#9c2328" stroke-width="1.3"/><circle cx="572.5" cy="132" r="2" fill="#c0353a" stroke="#9c2328" stroke-width="0.5"/><circle cx="571.5" cy="135.3" r="2" fill="#c0353a" stroke="#9c2328" stroke-width="0.5"/><circle cx="569.2" cy="132.8" r="2" fill="#c0353a" stroke="#9c2328" stroke-width="0.5"/><line x1="573.6" y1="147.6" x2="577.9" y2="145.6" stroke="#9c2328" stroke-width="1.3"/><circle cx="580.8" cy="144.2" r="2" fill="#c0353a" stroke="#9c2328" stroke-width="0.5"/><circle cx="578.8" cy="147" r="2" fill="#c0353a" stroke="#9c2328" stroke-width="0.5"/><circle cx="577.4" cy="143.9" r="2" fill="#c0353a" stroke="#9c2328" stroke-width="0.5"/><line x1="575.7" y1="153.8" x2="580.4" y2="152.6" stroke="#9c2328" stroke-width="1.3"/><circle cx="583.5" cy="151.8" r="2" fill="#c0353a" stroke="#9c2328" stroke-width="0.5"/><circle cx="581" cy="154.2" r="2" fill="#c0353a" stroke="#9c2328" stroke-width="0.5"/><circle cx="580.2" cy="150.9" r="2" fill="#c0353a" stroke="#9c2328" stroke-width="0.5"/><circle cx="530.6" cy="156.6" r="2.5" fill="#c0353a" stroke="#9c2328" stroke-width="0.5"/><circle cx="532.2" cy="152.6" r="2.5" fill="#c0353a" stroke="#9c2328" stroke-width="0.5"/><circle cx="534.9" cy="155.9" r="2.5" fill="#c0353a" stroke="#9c2328" stroke-width="0.5"/><circle cx="571.3" cy="160.7" r="2.5" fill="#c0353a" stroke="#9c2328" stroke-width="0.5"/><circle cx="571.1" cy="165" r="2.5" fill="#c0353a" stroke="#9c2328" stroke-width="0.5"/><circle cx="567.4" cy="162.7" r="2.5" fill="#c0353a" stroke="#9c2328" stroke-width="0.5"/><circle cx="546.8" cy="175.6" r="2.5" fill="#c0353a" stroke="#9c2328" stroke-width="0.5"/><circle cx="544.1" cy="179" r="2.5" fill="#c0353a" stroke="#9c2328" stroke-width="0.5"/><circle cx="542.5" cy="175" r="2.5" fill="#c0353a" stroke="#9c2328" stroke-width="0.5"/><circle cx="531.5" cy="190.5" r="2.5" fill="#c0353a" stroke="#9c2328" stroke-width="0.5"/><circle cx="535.7" cy="191.5" r="2.5" fill="#c0353a" stroke="#9c2328" stroke-width="0.5"/><circle cx="532.7" cy="194.6" r="2.5" fill="#c0353a" stroke="#9c2328" stroke-width="0.5"/><circle cx="513.5" cy="155.7" r="2.5" fill="#c0353a" stroke="#9c2328" stroke-width="0.5"/><circle cx="517.6" cy="154.4" r="2.5" fill="#c0353a" stroke="#9c2328" stroke-width="0.5"/><circle cx="516.6" cy="158.6" r="2.5" fill="#c0353a" stroke="#9c2328" stroke-width="0.5"/><circle cx="548" cy="193.7" r="2.5" fill="#c0353a" stroke="#9c2328" stroke-width="0.5"/><circle cx="548.1" cy="189.4" r="2.5" fill="#c0353a" stroke="#9c2328" stroke-width="0.5"/><circle cx="551.8" cy="191.6" r="2.5" fill="#c0353a" stroke="#9c2328" stroke-width="0.5"/><circle cx="528.1" cy="132" r="2.5" fill="#c0353a" stroke="#9c2328" stroke-width="0.5"/><circle cx="532.1" cy="133.6" r="2.5" fill="#c0353a" stroke="#9c2328" stroke-width="0.5"/><circle cx="528.7" cy="136.2" r="2.5" fill="#c0353a" stroke="#9c2328" stroke-width="0.5"/><circle cx="555" cy="154.3" r="2.5" fill="#c0353a" stroke="#9c2328" stroke-width="0.5"/><circle cx="551.8" cy="151.5" r="2.5" fill="#c0353a" stroke="#9c2328" stroke-width="0.5"/><circle cx="555.8" cy="150" r="2.5" fill="#c0353a" stroke="#9c2328" stroke-width="0.5"/><circle cx="531.2" cy="170.2" r="2.5" fill="#c0353a" stroke="#9c2328" stroke-width="0.5"/><circle cx="535.1" cy="172" r="2.5" fill="#c0353a" stroke="#9c2328" stroke-width="0.5"/><circle cx="531.6" cy="174.5" r="2.5" fill="#c0353a" stroke="#9c2328" stroke-width="0.5"/><circle cx="547.9" cy="162.4" r="2.5" fill="#c0353a" stroke="#9c2328" stroke-width="0.5"/><circle cx="543.7" cy="163.6" r="2.5" fill="#c0353a" stroke="#9c2328" stroke-width="0.5"/><circle cx="544.8" cy="159.4" r="2.5" fill="#c0353a" stroke="#9c2328" stroke-width="0.5"/><circle cx="566.8" cy="147.5" r="2.5" fill="#c0353a" stroke="#9c2328" stroke-width="0.5"/><circle cx="570.6" cy="149.4" r="2.5" fill="#c0353a" stroke="#9c2328" stroke-width="0.5"/><circle cx="567.1" cy="151.8" r="2.5" fill="#c0353a" stroke="#9c2328" stroke-width="0.5"/><circle cx="563.7" cy="181" r="2.5" fill="#c0353a" stroke="#9c2328" stroke-width="0.5"/><circle cx="559.5" cy="180.3" r="2.5" fill="#c0353a" stroke="#9c2328" stroke-width="0.5"/><circle cx="562.2" cy="177" r="2.5" fill="#c0353a" stroke="#9c2328" stroke-width="0.5"/><circle cx="547.5" cy="136.6" r="2.5" fill="#c0353a" stroke="#9c2328" stroke-width="0.5"/><circle cx="548.6" cy="132.4" r="2.5" fill="#c0353a" stroke="#9c2328" stroke-width="0.5"/><circle cx="551.7" cy="135.5" r="2.5" fill="#c0353a" stroke="#9c2328" stroke-width="0.5"/><circle cx="519.1" cy="145.5" r="2.5" fill="#c0353a" stroke="#9c2328" stroke-width="0.5"/><circle cx="515.4" cy="143.3" r="2.5" fill="#c0353a" stroke="#9c2328" stroke-width="0.5"/><circle cx="519.1" cy="141.2" r="2.5" fill="#c0353a" stroke="#9c2328" stroke-width="0.5"/><circle cx="522.7" cy="166" r="2.5" fill="#c0353a" stroke="#9c2328" stroke-width="0.5"/><circle cx="522.4" cy="170.3" r="2.5" fill="#c0353a" stroke="#9c2328" stroke-width="0.5"/><circle cx="518.8" cy="167.9" r="2.5" fill="#c0353a" stroke="#9c2328" stroke-width="0.5"/><circle cx="519.9" cy="186.3" r="2.5" fill="#c0353a" stroke="#9c2328" stroke-width="0.5"/><circle cx="516.1" cy="184.2" r="2.5" fill="#c0353a" stroke="#9c2328" stroke-width="0.5"/><circle cx="519.8" cy="182" r="2.5" fill="#c0353a" stroke="#9c2328" stroke-width="0.5"/><circle cx="544.1" cy="146.6" r="2.5" fill="#c0353a" stroke="#9c2328" stroke-width="0.5"/><circle cx="539.8" cy="146.7" r="2.5" fill="#c0353a" stroke="#9c2328" stroke-width="0.5"/><circle cx="541.8" cy="142.9" r="2.5" fill="#c0353a" stroke="#9c2328" stroke-width="0.5"/><circle cx="562.2" cy="140.5" r="2.5" fill="#c0353a" stroke="#9c2328" stroke-width="0.5"/><circle cx="557.9" cy="140.1" r="2.5" fill="#c0353a" stroke="#9c2328" stroke-width="0.5"/><circle cx="560.4" cy="136.6" r="2.5" fill="#c0353a" stroke="#9c2328" stroke-width="0.5"/><circle cx="556" cy="167.3" r="2.5" fill="#c0353a" stroke="#9c2328" stroke-width="0.5"/><circle cx="557.1" cy="171.5" r="2.5" fill="#c0353a" stroke="#9c2328" stroke-width="0.5"/><circle cx="552.9" cy="170.4" r="2.5" fill="#c0353a" stroke="#9c2328" stroke-width="0.5"/><circle cx="537.6" cy="185.8" r="1.1" fill="#5b8fb0"/><circle cx="539.8" cy="186.8" r="1.1" fill="#5b8fb0"/><circle cx="550.3" cy="182.4" r="1.1" fill="#5b8fb0"/><circle cx="550.1" cy="184.8" r="1.1" fill="#5b8fb0"/><circle cx="523.4" cy="178" r="1.1" fill="#5b8fb0"/><circle cx="521.1" cy="178.4" r="1.1" fill="#5b8fb0"/><circle cx="573.7" cy="170.6" r="1.1" fill="#5b8fb0"/><circle cx="575.9" cy="171.6" r="1.1" fill="#5b8fb0"/><circle cx="525.1" cy="157.3" r="1.1" fill="#5b8fb0"/><circle cx="527.5" cy="157.3" r="1.1" fill="#5b8fb0"/><circle cx="535.7" cy="140.5" r="1.1" fill="#5b8fb0"/><circle cx="533.3" cy="141.2" r="1.1" fill="#5b8fb0"/><circle cx="556.6" cy="185.9" r="1.1" fill="#5b8fb0"/><circle cx="555.2" cy="187.7" r="1.1" fill="#5b8fb0"/><circle cx="525.5" cy="144.7" r="1.1" fill="#5b8fb0"/><circle cx="527.6" cy="145.9" r="1.1" fill="#5b8fb0"/><circle cx="534.4" cy="164.8" r="1.1" fill="#5b8fb0"/><circle cx="534.9" cy="167.2" r="1.1" fill="#5b8fb0"/><circle cx="509.8" cy="151.3" r="1.1" fill="#5b8fb0"/><circle cx="511.5" cy="152.9" r="1.1" fill="#5b8fb0"/><circle cx="524.3" cy="191.8" r="1.1" fill="#5b8fb0"/><circle cx="521.9" cy="192.2" r="1.1" fill="#5b8fb0"/><circle cx="558.1" cy="158.6" r="1.1" fill="#5b8fb0"/><circle cx="560.5" cy="158.9" r="1.1" fill="#5b8fb0"/><circle cx="512.9" cy="166.7" r="1.1" fill="#5b8fb0"/><circle cx="511.9" cy="168.9" r="1.1" fill="#5b8fb0"/><circle cx="541.1" cy="136.4" r="1.1" fill="#5b8fb0"/><circle cx="543.5" cy="136.6" r="1.1" fill="#5b8fb0"/><circle cx="514.4" cy="177.4" r="1.1" fill="#5b8fb0"/><circle cx="516.8" cy="177.7" r="1.1" fill="#5b8fb0"/><circle cx="533.4" cy="147.2" r="1.1" fill="#5b8fb0"/><circle cx="535.5" cy="148.4" r="1.1" fill="#5b8fb0"/><polygon points="616.5,100.6 618.8,99.7 621.2,98.9 623.5,98.2 625.8,97.5 628.1,96.9 630.4,96.3 632.8,95.8 635.1,95.3 637.4,94.9 639.6,94.6 641.9,94.3 644.2,94 646.5,93.8 648.7,93.6 650.9,93.5 653.1,93.5 655.3,93.5 657.5,93.6 659.7,93.7 661.8,93.8 664,94.1 666.1,94.3 668.2,94.6 670.2,95 672.2,95.4 674.3,95.9 676.2,96.4 678.2,97 680.1,97.6 682,98.3 683.9,99 685.7,99.8 687.5,100.6 689.3,101.5 691,102.4 692.7,103.4 694.3,104.4 696,105.5 697.5,106.6 699.1,107.8 700.6,109 702,110.3 703.4,111.6 704.8,113 706.1,114.4 707.4,115.9 708.7,117.4 709.8,119 711,120.6 712.1,122.3 707.2,123.9 720.1,129.6 719,115.6 715.9,119.7 714.7,118 713.4,116.3 712.1,114.6 710.7,113 709.2,111.5 707.8,110 706.3,108.6 704.7,107.2 703.1,105.9 701.4,104.7 699.8,103.5 698,102.3 696.3,101.3 694.5,100.2 692.7,99.3 690.8,98.3 688.9,97.5 687,96.7 685.1,95.9 683.1,95.2 681.1,94.6 679.1,94 677,93.5 674.9,93 672.8,92.6 670.7,92.2 668.6,91.9 666.4,91.6 664.2,91.4 662,91.3 659.8,91.2 657.6,91.1 655.3,91.2 653.1,91.2 650.8,91.3 648.5,91.5 646.3,91.7 644,92 641.7,92.3 639.3,92.7 637,93.1 634.7,93.6 632.4,94.2 630.1,94.8 627.7,95.4 625.4,96.1 623.1,96.9 620.7,97.7 618.4,98.5 616.1,99.4" fill="url(#gb)"/><g transform="translate(693.3 261.9) scale(1.1) translate(-261.7 -250.1)"><polygon points="300.5,176.5 308,179.5 298,198 291.8,207 272,236.2 262,250.1 261.2,249.6 269,233.6 287.6,204.6 293,194" fill="#d4d8dc" stroke="#9aa0a6" stroke-width="0.6"/><polygon points="302.5,179.5 305,180.6 295,197 289.6,206 270.8,234.4 269.6,233.8 288.4,205 294,195.5" fill="#ffffff" opacity="0.85"/><polygon points="269.1,233.6 271.5,235.6 262,250.1 261.4,249.7" fill="#5bb8e6"/><path d="M317 180 C314 192 303 193 296 203" stroke="#8e959b" stroke-width="3.6" fill="none"/><path d="M317 180 C314 192 303 193 296 203" stroke="#eceff1" stroke-width="2.2" fill="none"/><line x1="340.5" y1="124.5" x2="344.2" y2="118" stroke="#5d646b" stroke-width="1.7"/><ellipse cx="346" cy="114.8" rx="6" ry="4.2" transform="rotate(18 346 114.8)" fill="#3f93b3" stroke="#1f6f8c" stroke-width="0.9"/><ellipse cx="345.6" cy="114" rx="4" ry="2.2" transform="rotate(18 345.6 114)" fill="#5aaecb" opacity="0.8"/><path d="M345.5 130.8 l5.2 2.6 l-2.2 5 l-5 -2.4 z" fill="#f1f3f5" stroke="#8e959b" stroke-width="0.7"/><path d="M343.8 137 l3.6 1.8 l-3.4 8 l-3.4 -1.8 z" fill="#dfe3e6" stroke="#8e959b" stroke-width="0.6"/><polygon points="320.3,118.4 322.7,115.3 327.6,115.6 338.5,124.2 345.6,129.6 345.9,136 342.1,141.3 338.5,148.6 331.2,168.1 325.3,177.6 317.8,180.2 304.7,178 302,174.2 306.9,163.2 315.4,146.2 323.9,131.6 325.2,124.8 321.7,121" fill="#3394b4" stroke="#1f6f8c" stroke-width="1" stroke-linejoin="round"/><polygon points="338,126 345.6,130.2 345.5,136 342,141.3 338.3,148.6 331,168 325.2,177.2 318,179.6 312,178.8 326,150 333,134" fill="#2a7f9d" opacity="0.75"/><path d="M323.5 133.5 L315.8 147 L307 164.5 L303.6 173.5" stroke="#56b3d0" stroke-width="2.2" fill="none" opacity="0.75" stroke-linecap="round"/><path d="M321.5 118.3 L323.3 116.6 L327.2 117 L337 124.8" stroke="#56b3d0" stroke-width="1.3" fill="none" opacity="0.8"/><polygon points="326.3,134.8 336.6,139.6 334.4,146 324.4,141.4" fill="#1b5871"/><polygon points="327.8,137.2 330.2,138.3 328.9,142.2 326.6,141.1" fill="#f3e9e9"/><polygon points="331.6,139 334,140.1 332.7,144 330.4,142.9" fill="#f3e9e9"/><path d="M322.5 149.5 l12.5 5.6" stroke="#1f6f8c" stroke-width="1.2" fill="none" opacity="0.9"/><path d="M319.9 154.5 l12.5 5.6" stroke="#1f6f8c" stroke-width="1.2" fill="none" opacity="0.9"/><path d="M317.2 159.5 l12.5 5.6" stroke="#1f6f8c" stroke-width="1.2" fill="none" opacity="0.9"/><path d="M314.6 164.5 l12.5 5.6" stroke="#1f6f8c" stroke-width="1.2" fill="none" opacity="0.9"/><path d="M312 169.5 l12.5 5.6" stroke="#1f6f8c" stroke-width="1.2" fill="none" opacity="0.9"/></g><polygon points="493.4,308.6 575.6,438.4 575.6,443.4 494.4,312.1" fill="#a9a9a9"/><polygon points="575.6,438.4 776.3,326 776.3,329.5 575.6,443.4" fill="#9b9b9b"/><polygon points="493.4,308.6 641,268 776.3,326 575.6,438.4" fill="#bfbfbf"/><path d="M670.8 277.3L667.3 278.7L667.3 281.3L670.8 280ZM669.8 280.1L649.7 287.6L649.7 290.3L669.8 282.7ZM649.7 287.6L647.2 286.2L647.2 288.9L649.7 290.3ZM647.2 286.2L643.6 287.6L643.6 290.2L647.2 288.9ZM643.6 287.6L629.4 279.7L629.4 282.3L643.6 290.2ZM632.9 278.3L630.4 276.9L630.4 279.6L632.9 281Z" fill="#d98a14"/><path d="M630.4 279.6 650.5 272 653 273.4 656.6 272.1 670.8 280 667.3 281.3 669.8 282.7 649.7 290.3 647.2 288.9 643.6 290.2 629.4 282.3 632.9 281ZM640.2 280.2 650 276.5 651.3 277.3 641.6 280.9ZM644.4 281.5 652 278.6 654.5 280 646.9 282.9ZM648.6 283.9 656.2 281 658.7 282.4 651.1 285.2ZM641.1 283.5 643 282.7 644.5 283.6 642.6 284.3ZM654.9 278.2 656.8 277.5 658.4 278.4 656.5 279.1ZM644.9 285.6 646.8 284.9 648.3 285.7 646.4 286.5ZM658.8 280.4 660.7 279.7 662.2 280.5 660.3 281.2Z" fill="#d98a14" fill-rule="evenodd"/><path d="M630.4 276.9 650.5 269.4 653 270.8 656.6 269.4 670.8 277.3 667.3 278.7 669.8 280.1 649.7 287.6 647.2 286.2 643.6 287.6 629.4 279.7 632.9 278.3ZM640.2 277.6 650 273.9 651.3 274.6 641.6 278.3ZM644.4 278.9 652 276 654.5 277.4 646.9 280.3ZM648.6 281.2 656.2 278.4 658.7 279.7 651.1 282.6ZM641.1 280.8 643 280.1 644.5 281 642.6 281.7ZM654.9 275.6 656.8 274.9 658.4 275.8 656.5 276.5ZM644.9 283 646.8 282.2 648.3 283.1 646.4 283.8ZM658.8 277.7 660.7 277 662.2 277.9 660.3 278.6Z" fill="#f7a51f" fill-rule="evenodd"/><path d="M636.5 291.2L632.7 292.6L632.7 295.2L636.5 293.9ZM635.1 294.5L613.7 302.1L613.7 304.8L635.1 297.1ZM613.7 302.1L611.3 300.2L611.3 302.9L613.7 304.8ZM611.3 300.2L607.5 301.5L607.5 304.2L611.3 302.9ZM607.5 301.5L594 290.7L594 293.3L607.5 304.2ZM597.8 289.3L595.4 287.4L595.4 290.1L597.8 292Z" fill="#d98a14"/><path d="M595.4 290.1 616.8 282.5 619.2 284.4 623 283 636.5 293.9 632.7 295.2 635.1 297.1 613.7 304.8 611.3 302.9 607.5 304.2 594 293.3 597.8 292ZM605.3 291.7 615.7 287.9 617 289 606.6 292.7ZM609.4 293.6 617.5 290.7 619.8 292.6 611.7 295.5ZM613.4 296.8 621.5 293.9 623.9 295.8 615.8 298.7ZM605.8 295.7 607.8 295 609.2 296.2 607.2 296.9ZM620.5 290.5 622.5 289.7 624 290.9 622 291.6ZM609.4 298.7 611.4 297.9 612.9 299.1 610.9 299.8ZM624.2 293.4 626.2 292.7 627.6 293.9 625.6 294.6Z" fill="#d98a14" fill-rule="evenodd"/><path d="M595.4 287.4 616.8 279.8 619.2 281.7 623 280.3 636.5 291.2 632.7 292.6 635.1 294.5 613.7 302.1 611.3 300.2 607.5 301.5 594 290.7 597.8 289.3ZM605.3 289 615.7 285.3 617 286.3 606.6 290ZM609.4 290.9 617.5 288 619.8 289.9 611.7 292.8ZM613.4 294.1 621.5 291.3 623.9 293.2 615.8 296.1ZM605.8 293.1 607.8 292.3 609.2 293.5 607.2 294.2ZM620.5 287.8 622.5 287.1 624 288.2 622 289ZM609.4 296 611.4 295.3 612.9 296.4 610.9 297.2ZM624.2 290.7 626.2 290 627.6 291.2 625.6 291.9Z" fill="#f7a51f" fill-rule="evenodd"/><path d="M707 296.7L703.3 298.2L703.3 301L707 299.4ZM706.6 300.2L685.3 309L685.3 311.8L706.6 303ZM685.3 309L681.9 307L681.9 309.8L685.3 311.8ZM681.9 307L678.2 308.6L678.2 311.3L681.9 309.8ZM678.2 308.6L659.2 297.1L659.2 299.9L678.2 311.3ZM663 295.6L659.7 293.6L659.7 296.4L663 298.4Z" fill="#d98a14"/><path d="M659.7 296.4 681 287.5 684.3 289.6 688.1 288 707 299.4 703.3 301 706.6 303 685.3 311.8 681.9 309.8 678.2 311.3 659.2 299.9 663 298.4ZM671.3 297.8 681.7 293.5 683.5 294.6 673.1 298.9ZM676.5 299.8 684.6 296.5 687.9 298.5 679.9 301.8ZM682.2 303.2 690.3 299.9 693.6 301.9 685.5 305.2ZM673.2 302.2 675.3 301.4 677.3 302.6 675.3 303.4ZM688 296.1 690 295.3 692 296.5 690 297.4ZM678.4 305.3 680.4 304.5 682.4 305.7 680.4 306.5ZM693.1 299.2 695.1 298.4 697.1 299.6 695.1 300.5Z" fill="#d98a14" fill-rule="evenodd"/><path d="M659.7 293.6 681 284.8 684.3 286.8 688.1 285.2 707 296.7 703.3 298.2 706.6 300.2 685.3 309 681.9 307 678.2 308.6 659.2 297.1 663 295.6ZM671.3 295 681.7 290.7 683.5 291.8 673.1 296.1ZM676.5 297 684.6 293.7 687.9 295.7 679.9 299ZM682.2 300.4 690.3 297.1 693.6 299.1 685.5 302.4ZM673.2 299.4 675.3 298.6 677.3 299.8 675.3 300.7ZM688 293.4 690 292.5 692 293.8 690 294.6ZM678.4 302.5 680.4 301.7 682.4 302.9 680.4 303.8ZM693.1 296.5 695.1 295.6 697.1 296.9 695.1 297.7Z" fill="#f7a51f" fill-rule="evenodd"/><path d="M597.8 306.6L593.8 308L593.8 310.7L597.8 309.4ZM596 310.4L573.3 318.1L573.3 320.9L596 313.1ZM573.3 318.1L571.1 315.7L571.1 318.4L573.3 320.9ZM571.1 315.7L567.1 317.1L567.1 319.8L571.1 318.4ZM567.1 317.1L554.3 303.2L554.3 306L567.1 319.8ZM558.3 301.9L556 299.5L556 302.2L558.3 304.6Z" fill="#d98a14"/><path d="M556 302.2 578.7 294.5 581 296.9 585 295.5 597.8 309.4 593.8 310.7 596 313.1 573.3 320.9 571.1 318.4 567.1 319.8 554.3 306 558.3 304.6ZM566 304.7 577.1 300.9 578.3 302.2 567.2 306ZM570 307.3 578.6 304.3 580.8 306.8 572.3 309.7ZM573.8 311.4 582.4 308.4 584.6 310.9 576.1 313.8ZM566.1 309.6 568.2 308.8 569.6 310.3 567.5 311.1ZM581.7 304.2 583.9 303.5 585.3 305 583.1 305.7ZM569.6 313.3 571.7 312.6 573.1 314.1 570.9 314.8ZM585.2 308 587.3 307.3 588.7 308.7 586.6 309.5Z" fill="#d98a14" fill-rule="evenodd"/><path d="M556 299.5 578.7 291.7 581 294.2 585 292.8 597.8 306.6 593.8 308 596 310.4 573.3 318.1 571.1 315.7 567.1 317.1 554.3 303.2 558.3 301.9ZM566 302 577.1 298.2 578.3 299.5 567.2 303.3ZM570 304.5 578.6 301.6 580.8 304 572.3 307ZM573.8 308.6 582.4 305.7 584.6 308.1 576.1 311.1ZM566.1 306.8 568.2 306.1 569.6 307.6 567.5 308.3ZM581.7 301.5 583.9 300.8 585.3 302.3 583.1 303ZM569.6 310.6 571.7 309.8 573.1 311.3 570.9 312.1ZM585.2 305.3 587.3 304.5 588.7 306 586.6 306.8Z" fill="#f7a51f" fill-rule="evenodd"/><path d="M672.6 312.8L668.3 314.5L668.3 317.4L672.6 315.7ZM671.5 317.2L647 326.8L647 329.6L671.5 320ZM647 326.8L643.8 324.1L643.8 326.9L647 329.6ZM643.8 324.1L639.5 325.8L639.5 328.6L643.8 326.9ZM639.5 325.8L621.5 310.6L621.5 313.5L639.5 328.6ZM625.8 309L622.6 306.3L622.6 309.1L625.8 311.8Z" fill="#d98a14"/><path d="M622.6 309.1 647.1 299.6 650.2 302.2 654.5 300.5 672.6 315.7 668.3 317.4 671.5 320 647 329.6 643.8 326.9 639.5 328.6 621.5 313.5 625.8 311.8ZM634.7 311.6 646.6 306.9 648.4 308.4 636.4 313ZM640 314.4 649.2 310.7 652.4 313.4 643.1 317ZM645.3 318.9 654.6 315.2 657.8 317.9 648.5 321.5ZM636 317.1 638.3 316.2 640.3 317.8 637.9 318.7ZM652.8 310.5 655.2 309.6 657.1 311.2 654.8 312.1ZM640.9 321.2 643.2 320.3 645.1 321.9 642.8 322.8ZM657.7 314.6 660 313.7 662 315.3 659.7 316.2Z" fill="#d98a14" fill-rule="evenodd"/><path d="M622.6 306.3 647.1 296.7 650.2 299.4 654.5 297.7 672.6 312.8 668.3 314.5 671.5 317.2 647 326.8 643.8 324.1 639.5 325.8 621.5 310.6 625.8 309ZM634.7 308.8 646.6 304.1 648.4 305.5 636.4 310.2ZM640 311.5 649.2 307.9 652.4 310.5 643.1 314.2ZM645.3 316 654.6 312.4 657.8 315 648.5 318.7ZM636 314.3 638.3 313.4 640.3 315 637.9 315.9ZM652.8 307.7 655.2 306.8 657.1 308.4 654.8 309.3ZM640.9 318.4 643.2 317.5 645.1 319.1 642.8 320ZM657.7 311.8 660 310.9 662 312.5 659.7 313.4Z" fill="#f7a51f" fill-rule="evenodd"/><path d="M553.9 323.9L549.6 325.3L549.6 328.1L553.9 326.7ZM551.8 328.2L527.8 336L527.8 338.8L551.8 331ZM527.8 336L525.6 333.1L525.6 335.9L527.8 338.8ZM525.6 333.1L521.4 334.5L521.4 337.2L525.6 335.9ZM521.4 334.5L509.3 317.7L509.3 320.5L521.4 337.2ZM513.6 316.3L511.4 313.4L511.4 316.1L513.6 319.1Z" fill="#d98a14"/><path d="M511.4 316.1 535.4 308.3 537.6 311.3 541.8 309.9 553.9 326.7 549.6 328.1 551.8 331 527.8 338.8 525.6 335.9 521.4 337.2 509.3 320.5 513.6 319.1ZM521.5 319.6 533.2 315.8 534.3 317.4 522.7 321.2ZM525.4 322.8 534.5 319.8 536.6 322.8 527.5 325.7ZM529 327.8 538.1 324.8 540.2 327.8 531.1 330.7ZM521.2 325.3 523.5 324.5 524.8 326.3 522.5 327.1ZM537.8 319.9 540 319.2 541.3 321 539.1 321.7ZM524.5 329.8 526.8 329.1 528.1 330.9 525.8 331.6ZM541 324.4 543.3 323.7 544.6 325.5 542.3 326.2Z" fill="#d98a14" fill-rule="evenodd"/><path d="M511.4 313.4 535.4 305.6 537.6 308.5 541.8 307.1 553.9 323.9 549.6 325.3 551.8 328.2 527.8 336 525.6 333.1 521.4 334.5 509.3 317.7 513.6 316.3ZM521.5 316.8 533.2 313 534.3 314.6 522.7 318.4ZM525.4 320 534.5 317.1 536.6 320 527.5 323ZM529 325 538.1 322 540.2 325 531.1 327.9ZM521.2 322.5 523.5 321.8 524.8 323.6 522.5 324.3ZM537.8 317.1 540 316.4 541.3 318.2 539.1 318.9ZM524.5 327 526.8 326.3 528.1 328.1 525.8 328.8ZM541 321.7 543.3 320.9 544.6 322.7 542.3 323.5Z" fill="#f7a51f" fill-rule="evenodd"/><path d="M749.9 319.7L745.9 321.4L745.9 324.3L749.9 322.6ZM750.1 324.1L727.5 334.1L727.5 337L750.1 327ZM727.5 334.1L723.3 331.5L723.3 334.4L727.5 337ZM723.3 331.5L719.4 333.3L719.4 336.2L723.3 334.4ZM719.4 333.3L695.7 318.3L695.7 321.2L719.4 336.2ZM699.7 316.6L695.5 313.9L695.5 316.8L699.7 319.4Z" fill="#d98a14"/><path d="M695.5 316.8 718.1 306.8 722.3 309.4 726.2 307.6 749.9 322.6 745.9 324.3 750.1 327 727.5 337 723.3 334.4 719.4 336.2 695.7 321.2 699.7 319.4ZM709 319.1 720 314.2 722.2 315.6 711.2 320.5ZM715.3 321.8 723.9 318 728 320.6 719.5 324.4ZM722.4 326.2 730.9 322.4 735.1 325 726.5 328.8ZM712 324.6 714.2 323.7 716.7 325.3 714.6 326.2ZM727.6 317.7 729.7 316.7 732.3 318.4 730.2 319.3ZM718.4 328.7 720.6 327.7 723.1 329.3 721 330.3ZM734 321.7 736.1 320.8 738.7 322.4 736.6 323.3Z" fill="#d98a14" fill-rule="evenodd"/><path d="M695.5 313.9 718.1 303.9 722.3 306.5 726.2 304.7 749.9 319.7 745.9 321.4 750.1 324.1 727.5 334.1 723.3 331.5 719.4 333.3 695.7 318.3 699.7 316.6ZM709 316.2 720 311.3 722.2 312.7 711.2 317.6ZM715.3 318.9 723.9 315.1 728 317.7 719.5 321.5ZM722.4 323.3 730.9 319.5 735.1 322.1 726.5 326ZM712 321.7 714.2 320.8 716.7 322.4 714.6 323.3ZM727.6 314.8 729.7 313.8 732.3 315.5 730.2 316.4ZM718.4 325.8 720.6 324.8 723.1 326.4 721 327.4ZM734 318.8 736.1 317.9 738.7 319.5 736.6 320.5Z" fill="#f7a51f" fill-rule="evenodd"/><path d="M633.2 331L628.3 332.9L628.3 335.8L633.2 334ZM631.4 336.2L603.8 346.5L603.8 349.5L631.4 339.1ZM603.8 346.5L600.8 343.2L600.8 346.2L603.8 349.5ZM600.8 343.2L595.9 345L595.9 348L600.8 346.2ZM595.9 345L578.7 326.2L578.7 329.1L595.9 348ZM583.6 324.4L580.6 321.1L580.6 324L583.6 327.3Z" fill="#d98a14"/><path d="M580.6 324 608.1 313.6 611.2 316.9 616 315.1 633.2 334 628.3 335.8 631.4 339.1 603.8 349.5 600.8 346.2 595.9 348 578.7 329.1 583.6 327.3ZM593.2 327.4 606.6 322.4 608.3 324.2 594.8 329.2ZM598.4 331 608.9 327 611.9 330.4 601.4 334.3ZM603.5 336.6 614 332.6 617 336 606.5 339.9ZM593.8 334.1 596.4 333.1 598.2 335.1 595.6 336.1ZM612.8 326.9 615.4 326 617.2 328 614.6 329ZM598.4 339.2 601 338.2 602.9 340.2 600.3 341.2ZM617.4 332 620 331.1 621.9 333.1 619.3 334.1Z" fill="#d98a14" fill-rule="evenodd"/><path d="M580.6 321.1 608.1 310.7 611.2 314 616 312.2 633.2 331 628.3 332.9 631.4 336.2 603.8 346.5 600.8 343.2 595.9 345 578.7 326.2 583.6 324.4ZM593.2 324.5 606.6 319.5 608.3 321.3 594.8 326.3ZM598.4 328 608.9 324.1 611.9 327.4 601.4 331.3ZM603.5 333.6 614 329.7 617 333 606.5 337ZM593.8 331.2 596.4 330.2 598.2 332.2 595.6 333.2ZM612.8 324 615.4 323 617.2 325.1 614.6 326ZM598.4 336.2 601 335.3 602.9 337.3 600.3 338.3ZM617.4 329.1 620 328.1 621.9 330.2 619.3 331.1Z" fill="#f7a51f" fill-rule="evenodd"/><path d="M715.6 338.9L710.7 340.9L710.7 344L715.6 341.9ZM714.7 344.4L687.2 355.9L687.2 358.9L714.7 347.4ZM687.2 355.9L683.2 352.5L683.2 355.5L687.2 358.9ZM683.2 352.5L678.4 354.5L678.4 357.5L683.2 355.5ZM678.4 354.5L655.7 335.1L655.7 338.1L678.4 357.5ZM660.6 333.1L656.6 329.7L656.6 332.7L660.6 336.1Z" fill="#d98a14"/><path d="M656.6 332.7 684.1 321.1 688.1 324.5 692.9 322.5 715.6 341.9 710.7 344 714.7 347.4 687.2 358.9 683.2 355.5 678.4 357.5 655.7 338.1 660.6 336.1ZM671 336 684.4 330.4 686.5 332.2 673.1 337.8ZM677.4 339.6 687.8 335.2 691.8 338.6 681.4 343ZM684.1 345.3 694.5 341 698.5 344.4 688.1 348.8ZM673 343 675.6 341.9 678.1 344 675.5 345.1ZM692 335 694.6 333.9 697.1 336 694.4 337.1ZM679.1 348.2 681.7 347.1 684.2 349.2 681.6 350.3ZM698.1 340.3 700.7 339.2 703.2 341.3 700.6 342.4Z" fill="#d98a14" fill-rule="evenodd"/><path d="M656.6 329.7 684.1 318.1 688.1 321.5 692.9 319.5 715.6 338.9 710.7 340.9 714.7 344.4 687.2 355.9 683.2 352.5 678.4 354.5 655.7 335.1 660.6 333.1ZM671 333 684.4 327.4 686.5 329.2 673.1 334.8ZM677.4 336.6 687.8 332.2 691.8 335.6 681.4 340ZM684.1 342.3 694.5 338 698.5 341.4 688.1 345.7ZM673 339.9 675.6 338.9 678.1 341 675.5 342ZM692 332 694.6 330.9 697.1 333 694.4 334.1ZM679.1 345.2 681.7 344.1 684.2 346.2 681.6 347.3ZM698.1 337.2 700.7 336.2 703.2 338.3 700.6 339.3Z" fill="#f7a51f" fill-rule="evenodd"/><path d="M587.7 351.7L582.3 353.7L582.3 356.7L587.7 354.8ZM585.2 357.7L554.5 368.8L554.5 371.8L585.2 360.7ZM554.5 368.8L551.6 364.9L551.6 367.9L554.5 371.8ZM551.6 364.9L546.2 366.8L546.2 369.8L551.6 367.9ZM546.2 366.8L529.9 344.2L529.9 347.3L546.2 369.8ZM535.3 342.3L532.4 338.3L532.4 341.3L535.3 345.3Z" fill="#d98a14"/><path d="M532.4 341.3 563.1 330.2 566 334.2 571.4 332.2 587.7 354.8 582.3 356.7 585.2 360.7 554.5 371.8 551.6 367.9 546.2 369.8 529.9 347.3 535.3 345.3ZM545.6 345.8 560.5 340.4 562.1 342.5 547.1 347.9ZM550.8 350.1 562.4 345.9 565.3 349.8 553.6 354ZM555.6 356.8 567.2 352.6 570.1 356.5 558.5 360.7ZM545.4 353.6 548.3 352.5 550.1 354.9 547.2 356ZM566.6 345.9 569.5 344.8 571.3 347.3 568.4 348.3ZM549.8 359.7 552.8 358.6 554.5 361 551.6 362.1ZM571 352 573.9 350.9 575.7 353.4 572.8 354.4Z" fill="#d98a14" fill-rule="evenodd"/><path d="M532.4 338.3 563.1 327.2 566 331.1 571.4 329.2 587.7 351.7 582.3 353.7 585.2 357.7 554.5 368.8 551.6 364.9 546.2 366.8 529.9 344.2 535.3 342.3ZM545.6 342.8 560.5 337.4 562.1 339.5 547.1 344.9ZM550.8 347.1 562.4 342.8 565.3 346.8 553.6 351ZM555.6 353.8 567.2 349.5 570.1 353.5 558.5 357.7ZM545.4 350.5 548.3 349.5 550.1 351.9 547.2 353ZM566.6 342.9 569.5 341.8 571.3 344.2 568.4 345.3ZM549.8 356.6 552.8 355.6 554.5 358 551.6 359.1ZM571 349 573.9 347.9 575.7 350.3 572.8 351.4Z" fill="#f7a51f" fill-rule="evenodd"/><path d="M675.5 360.9L669.8 363.2L669.8 366.3L675.5 364.1ZM673.6 367.4L641.1 380.4L641.1 383.6L673.6 370.5ZM641.1 380.4L637.3 376.2L637.3 379.4L641.1 383.6ZM637.3 376.2L631.6 378.5L631.6 381.6L637.3 379.4ZM631.6 378.5L610.1 354.6L610.1 357.8L631.6 381.6ZM615.8 352.3L612 348.1L612 351.3L615.8 355.5Z" fill="#d98a14"/><path d="M612 351.3 644.5 338.3 648.2 342.5 653.9 340.2 675.5 364.1 669.8 366.3 673.6 370.5 641.1 383.6 637.3 379.4 631.6 381.6 610.1 357.8 615.8 355.5ZM627.3 355.7 643.1 349.4 645.2 351.6 629.4 357.9ZM633.7 360.1 646 355.2 649.8 359.4 637.5 364.3ZM640.1 367.2 652.4 362.3 656.2 366.5 643.9 371.4ZM628.3 364.1 631.4 362.8 633.7 365.4 630.7 366.7ZM650.7 355.1 653.8 353.9 656.1 356.5 653 357.7ZM634.1 370.5 637.2 369.3 639.6 371.9 636.5 373.1ZM656.5 361.6 659.6 360.3 661.9 362.9 658.9 364.1Z" fill="#d98a14" fill-rule="evenodd"/><path d="M612 348.1 644.5 335.1 648.2 339.3 653.9 337 675.5 360.9 669.8 363.2 673.6 367.4 641.1 380.4 637.3 376.2 631.6 378.5 610.1 354.6 615.8 352.3ZM627.3 352.5 643.1 346.2 645.2 348.5 629.4 354.8ZM633.7 357 646 352.1 649.8 356.3 637.5 361.2ZM640.1 364.1 652.4 359.2 656.2 363.4 643.9 368.3ZM628.3 360.9 631.4 359.7 633.7 362.3 630.7 363.5ZM650.7 352 653.8 350.7 656.1 353.3 653 354.5ZM634.1 367.4 637.2 366.2 639.6 368.7 636.5 370ZM656.5 358.4 659.6 357.2 661.9 359.8 658.9 361Z" fill="#f7a51f" fill-rule="evenodd"/><path d="M628.3 386.4L621.8 388.9L621.8 392.2L628.3 389.7ZM625.4 393.9L588 408.4L588 411.7L625.4 397.2ZM588 408.4L584.4 403.4L584.4 406.7L588 411.7ZM584.4 403.4L577.8 406L577.8 409.2L584.4 406.7ZM577.8 406L557.3 377.6L557.3 380.9L577.8 409.2ZM563.8 375.1L560.2 370.1L560.2 373.4L563.8 378.3Z" fill="#d98a14"/><path d="M560.2 373.4 597.6 358.9 601.2 363.8 607.8 361.3 628.3 389.7 621.8 392.2 625.4 397.2 588 411.7 584.4 406.7 577.8 409.2 557.3 380.9 563.8 378.3ZM576.5 378.8 594.7 371.8 596.6 374.5 578.4 381.5ZM583 384.2 597.1 378.7 600.7 383.7 586.6 389.2ZM589.1 392.6 603.2 387.1 606.8 392.1 592.7 397.6ZM576.5 388.6 580 387.3 582.2 390.3 578.7 391.7ZM602.3 378.7 605.8 377.3 608 380.4 604.5 381.7ZM582 396.3 585.6 394.9 587.8 398 584.2 399.4ZM607.8 386.3 611.3 385 613.6 388 610 389.4Z" fill="#d98a14" fill-rule="evenodd"/><path d="M560.2 370.1 597.6 355.6 601.2 360.6 607.8 358 628.3 386.4 621.8 388.9 625.4 393.9 588 408.4 584.4 403.4 577.8 406 557.3 377.6 563.8 375.1ZM576.5 375.6 594.7 368.5 596.6 371.2 578.4 378.2ZM583 380.9 597.1 375.4 600.7 380.4 586.6 385.9ZM589.1 389.3 603.2 383.9 606.8 388.8 592.7 394.3ZM576.5 385.4 580 384 582.2 387.1 578.7 388.4ZM602.3 375.4 605.8 374 608 377.1 604.5 378.5ZM582 393 585.6 391.7 587.8 394.7 584.2 396.1ZM607.8 383.1 611.3 381.7 613.6 384.7 610 386.1Z" fill="#f7a51f" fill-rule="evenodd"/><polygon points="652.7,277 650.6,276.4 648.4,275.8 646.8,275 645.8,274.1 645.6,272.8 646.2,271.3 647.4,269.7 648.8,267.9 650.1,266.2 650.8,264.7 650.8,263.4 649.9,262.4 648.3,261.6 646.2,261 644.1,260.4 642.2,259.7 640.9,258.9 640.5,257.7 640.9,256.3 641.9,254.7 643.3,252.9 644.6,251.2 645.6,249.6 645.8,248.2 645.2,247.1 643.8,246.3 641.9,245.6 639.7,245.1 641.2,244.6 639.8,246.3 638.6,248 638,249.5 638.2,250.7 639.2,251.7 640.9,252.4 643,253 645.1,253.6 646.9,254.3 648,255.3 648.4,256.4 647.9,257.9 646.8,259.6 645.4,261.3 644,263 643.2,264.6 643.1,265.9 643.8,267 645.3,267.8 647.3,268.4 649.5,269 651.4,269.7 652.8,270.5 653.4,271.6 653.2,273 652.2,274.5 650.9,276.3 649.5,278" fill="#f4b6b0" opacity="0.75"/><path d="M650.6 276.4L650.9 276.3M646.8 275L653.2 273M645.6 272.8L652.8 270.5M647.4 269.7L649.5 269M650.1 266.2L645.3 267.8M650.8 263.4L643.1 265.9M648.3 261.6L644 263M644.1 260.4L646.8 259.6M640.9 258.9L648.4 256.4M640.9 256.3L646.9 254.3M643.3 252.9L643 253M645.6 249.6L639.2 251.7M645.2 247.1L638 249.5M641.9 245.6L639.8 246.3" stroke="#8a1a10" stroke-width="0.6"/><polyline points="652.7,277 650.6,276.4 648.4,275.8 646.8,275 645.8,274.1 645.6,272.8 646.2,271.3 647.4,269.7 648.8,267.9 650.1,266.2 650.8,264.7 650.8,263.4 649.9,262.4 648.3,261.6 646.2,261 644.1,260.4 642.2,259.7 640.9,258.9 640.5,257.7 640.9,256.3 641.9,254.7 643.3,252.9 644.6,251.2 645.6,249.6 645.8,248.2 645.2,247.1 643.8,246.3 641.9,245.6 639.7,245.1" fill="none" stroke="#c4161c" stroke-width="1.4" stroke-linecap="round"/><polyline points="649.5,278 650.9,276.3 652.2,274.5 653.2,273 653.4,271.6 652.8,270.5 651.4,269.7 649.5,269 647.3,268.4 645.3,267.8 643.8,267 643.1,265.9 643.2,264.6 644,263 645.4,261.3 646.8,259.6 647.9,257.9 648.4,256.4 648,255.3 646.9,254.3 645.1,253.6 643,253 640.9,252.4 639.2,251.7 638.2,250.7 638,249.5 638.6,248 639.8,246.3 641.2,244.6" fill="none" stroke="#5a1208" stroke-width="1.4" stroke-linecap="round"/><path d="M640.5 244.8 l-3 -2.5 M640.5 244.8 l2.5 -3" stroke="#c4161c" stroke-width="1.4" fill="none" stroke-linecap="round"/><polygon points="615.4,290.2 613.4,289.6 611.9,288.7 611.2,287.7 611.3,286.3 612.2,284.7 613.6,283 615,281.2 616.1,279.5 616.6,278.1 616.2,276.9 615,275.9 613.2,275.2 611,274.6 608.9,274 607.2,273.3 606.2,272.3 606.1,271 606.7,269.5 608,267.8 609.4,266 610.7,264.3 611.4,262.7 611.3,261.5 610.4,260.4 608.7,259.7 606.6,259 604.4,258.4 602.6,257.7 608.4,255.9 607.3,257.5 605.9,259.3 604.5,261 603.7,262.6 603.5,264 604.2,265.1 605.7,265.9 607.7,266.5 609.9,267.1 611.9,267.8 613.3,268.6 614,269.7 613.8,271.1 612.8,272.7 611.5,274.5 610.1,276.2 609,277.9 608.6,279.3 609,280.5 610.3,281.4 612.1,282.1 614.3,282.7 616.4,283.3 618.1,284.1 619,285.1 619,286.4 618.3,288 617.1,289.7" fill="#f4b6b0" opacity="0.75"/><path d="M613.4 289.6L618.3 288M611.2 287.7L619 285.1M612.2 284.7L616.4 283.3M615 281.2L612.1 282.1M616.6 278.1L609 280.5M615 275.9L609 277.9M611 274.6L611.5 274.5M607.2 273.3L613.8 271.1M606.1 271L613.3 268.6M608 267.8L609.9 267.1M610.7 264.3L605.7 265.9M611.3 261.5L603.5 264M608.7 259.7L604.5 261M604.4 258.4L607.3 257.5" stroke="#8a1a10" stroke-width="0.6"/><polyline points="615.4,290.2 613.4,289.6 611.9,288.7 611.2,287.7 611.3,286.3 612.2,284.7 613.6,283 615,281.2 616.1,279.5 616.6,278.1 616.2,276.9 615,275.9 613.2,275.2 611,274.6 608.9,274 607.2,273.3 606.2,272.3 606.1,271 606.7,269.5 608,267.8 609.4,266 610.7,264.3 611.4,262.7 611.3,261.5 610.4,260.4 608.7,259.7 606.6,259 604.4,258.4 602.6,257.7" fill="none" stroke="#c4161c" stroke-width="1.4" stroke-linecap="round"/><polyline points="617.1,289.7 618.3,288 619,286.4 619,285.1 618.1,284.1 616.4,283.3 614.3,282.7 612.1,282.1 610.3,281.4 609,280.5 608.6,279.3 609,277.9 610.1,276.2 611.5,274.5 612.8,272.7 613.8,271.1 614,269.7 613.3,268.6 611.9,267.8 609.9,267.1 607.7,266.5 605.7,265.9 604.2,265.1 603.5,264 603.7,262.6 604.5,261 605.9,259.3 607.3,257.5 608.4,255.9" fill="none" stroke="#5a1208" stroke-width="1.4" stroke-linecap="round"/><path d="M605.5 256.8 l-3 -2.5 M605.5 256.8 l2.5 -3" stroke="#c4161c" stroke-width="1.4" fill="none" stroke-linecap="round"/><polygon points="681.4,296.8 682.7,295 684.2,293.2 685.5,291.4 686.2,289.8 686.2,288.5 685.3,287.5 683.6,286.7 681.4,286 679.2,285.4 677.2,284.7 675.9,283.7 675.5,282.5 675.9,281.1 677,279.4 678.4,277.5 679.8,275.7 680.8,274.1 681,272.7 680.4,271.5 679,270.6 676.9,269.9 674.6,269.3 672.6,268.7 671,267.8 670.3,266.7 670.4,265.3 671.3,263.7 672.7,261.9 673.5,261.6 675.7,262.3 677.4,263.1 678.3,264.1 678.3,265.4 677.6,267 676.3,268.8 674.8,270.6 673.6,272.4 672.9,273.9 673.1,275.2 674.1,276.3 675.8,277 678,277.7 680.3,278.3 682.1,279 683.3,280 683.7,281.2 683.2,282.7 682,284.5 680.5,286.3 679.2,288.1 678.3,289.7 678.2,291.1 678.9,292.2 680.4,293.1 682.5,293.7 684.8,294.3 686.8,295" fill="#f4b6b0" opacity="0.75"/><path d="M682.7 295L684.8 294.3M685.5 291.4L680.4 293.1M686.2 288.5L678.2 291.1M683.6 286.7L679.2 288.1M679.2 285.4L682 284.5M675.9 283.7L683.7 281.2M675.9 281.1L682.1 279M678.4 277.5L678 277.7M680.8 274.1L674.1 276.3M680.4 271.5L672.9 273.9M676.9 269.9L674.8 270.6M672.6 268.7L677.6 267M670.3 266.7L678.3 264.1M671.3 263.7L675.7 262.3" stroke="#8a1a10" stroke-width="0.6"/><polyline points="681.4,296.8 682.7,295 684.2,293.2 685.5,291.4 686.2,289.8 686.2,288.5 685.3,287.5 683.6,286.7 681.4,286 679.2,285.4 677.2,284.7 675.9,283.7 675.5,282.5 675.9,281.1 677,279.4 678.4,277.5 679.8,275.7 680.8,274.1 681,272.7 680.4,271.5 679,270.6 676.9,269.9 674.6,269.3 672.6,268.7 671,267.8 670.3,266.7 670.4,265.3 671.3,263.7 672.7,261.9" fill="none" stroke="#c4161c" stroke-width="1.4" stroke-linecap="round"/><polyline points="686.8,295 684.8,294.3 682.5,293.7 680.4,293.1 678.9,292.2 678.2,291.1 678.3,289.7 679.2,288.1 680.5,286.3 682,284.5 683.2,282.7 683.7,281.2 683.3,280 682.1,279 680.3,278.3 678,277.7 675.8,277 674.1,276.3 673.1,275.2 672.9,273.9 673.6,272.4 674.8,270.6 676.3,268.8 677.6,267 678.3,265.4 678.3,264.1 677.4,263.1 675.7,262.3 673.5,261.6" fill="none" stroke="#5a1208" stroke-width="1.4" stroke-linecap="round"/><path d="M673.1 261.7 l-3 -2.5 M673.1 261.7 l2.5 -3" stroke="#c4161c" stroke-width="1.4" fill="none" stroke-linecap="round"/><polygon points="578.4,303.5 576.2,302.9 574,302.3 572.4,301.5 571.5,300.4 571.5,299.1 572.3,297.5 573.6,295.8 575,294 576.2,292.2 576.9,290.7 576.7,289.4 575.6,288.4 573.9,287.7 571.7,287.1 569.5,286.4 567.7,285.7 566.5,284.7 566.2,283.5 566.7,282 567.9,280.3 569.3,278.5 570.7,276.8 571.5,275.1 571.6,273.8 570.9,272.7 569.3,271.9 567.3,271.2 565,270.6 567.2,269.9 565.8,271.7 564.5,273.4 563.7,275 563.7,276.3 564.6,277.4 566.2,278.2 568.4,278.8 570.6,279.4 572.5,280.1 573.8,281.1 574.3,282.2 573.9,283.7 572.9,285.3 571.4,287.1 570.1,288.9 569.1,290.6 568.8,292 569.4,293.1 570.8,294 572.8,294.7 575.1,295.3 577.1,295.9 578.7,296.8 579.4,297.8 579.3,299.2 578.5,300.8 577.1,302.6 575.7,304.4" fill="#f4b6b0" opacity="0.75"/><path d="M576.2 302.9L577.1 302.6M572.4 301.5L579.3 299.2M571.5 299.1L578.7 296.8M573.6 295.8L575.1 295.3M576.2 292.2L570.8 294M576.7 289.4L568.8 292M573.9 287.7L570.1 288.9M569.5 286.4L572.9 285.3M566.5 284.7L574.3 282.2M566.7 282L572.5 280.1M569.3 278.5L568.4 278.8M571.5 275.1L564.6 277.4M570.9 272.7L563.7 275M567.3 271.2L565.8 271.7" stroke="#8a1a10" stroke-width="0.6"/><polyline points="578.4,303.5 576.2,302.9 574,302.3 572.4,301.5 571.5,300.4 571.5,299.1 572.3,297.5 573.6,295.8 575,294 576.2,292.2 576.9,290.7 576.7,289.4 575.6,288.4 573.9,287.7 571.7,287.1 569.5,286.4 567.7,285.7 566.5,284.7 566.2,283.5 566.7,282 567.9,280.3 569.3,278.5 570.7,276.8 571.5,275.1 571.6,273.8 570.9,272.7 569.3,271.9 567.3,271.2 565,270.6" fill="none" stroke="#c4161c" stroke-width="1.4" stroke-linecap="round"/><polyline points="575.7,304.4 577.1,302.6 578.5,300.8 579.3,299.2 579.4,297.8 578.7,296.8 577.1,295.9 575.1,295.3 572.8,294.7 570.8,294 569.4,293.1 568.8,292 569.1,290.6 570.1,288.9 571.4,287.1 572.9,285.3 573.9,283.7 574.3,282.2 573.8,281.1 572.5,280.1 570.6,279.4 568.4,278.8 566.2,278.2 564.6,277.4 563.7,276.3 563.7,275 564.5,273.4 565.8,271.7 567.2,269.9" fill="none" stroke="#5a1208" stroke-width="1.4" stroke-linecap="round"/><path d="M566.1 270.3 l-3 -2.5 M566.1 270.3 l2.5 -3" stroke="#c4161c" stroke-width="1.4" fill="none" stroke-linecap="round"/><polygon points="648.4,310.6 646.1,310 644.1,309.2 642.8,308.3 642.4,307 642.8,305.5 644,303.8 645.5,301.9 646.9,300 647.9,298.3 648.1,296.9 647.4,295.7 645.9,294.8 643.8,294.1 641.5,293.5 639.4,292.8 637.8,291.9 637.1,290.8 637.2,289.3 638.2,287.7 639.6,285.8 641.1,283.9 642.2,282.2 642.7,280.6 642.4,279.4 641.1,278.4 639.2,277.6 636.9,277 634.6,276.3 638.8,275 637.4,276.8 635.9,278.7 634.8,280.5 634.3,282 634.8,283.2 636.1,284.2 638,284.9 640.3,285.6 642.6,286.2 644.3,287.1 645.3,288.1 645.4,289.5 644.6,291.1 643.3,292.9 641.8,294.8 640.5,296.6 639.8,298.2 639.9,299.5 640.9,300.6 642.7,301.4 645,302.1 647.3,302.7 649.2,303.5 650.4,304.4 650.8,305.7 650.3,307.2 649.1,309 647.6,310.9" fill="#f4b6b0" opacity="0.75"/><path d="M646.1 310L649.1 309M642.8 308.3L650.8 305.7M642.8 305.5L649.2 303.5M645.5 301.9L645 302.1M647.9 298.3L640.9 300.6M647.4 295.7L639.8 298.2M643.8 294.1L641.8 294.8M639.4 292.8L644.6 291.1M637.1 290.8L645.3 288.1M638.2 287.7L642.6 286.2M641.1 283.9L638 284.9M642.7 280.6L634.8 283.2M641.1 278.4L634.8 280.5M636.9 277L637.4 276.8" stroke="#8a1a10" stroke-width="0.6"/><polyline points="648.4,310.6 646.1,310 644.1,309.2 642.8,308.3 642.4,307 642.8,305.5 644,303.8 645.5,301.9 646.9,300 647.9,298.3 648.1,296.9 647.4,295.7 645.9,294.8 643.8,294.1 641.5,293.5 639.4,292.8 637.8,291.9 637.1,290.8 637.2,289.3 638.2,287.7 639.6,285.8 641.1,283.9 642.2,282.2 642.7,280.6 642.4,279.4 641.1,278.4 639.2,277.6 636.9,277 634.6,276.3" fill="none" stroke="#c4161c" stroke-width="1.4" stroke-linecap="round"/><polyline points="647.6,310.9 649.1,309 650.3,307.2 650.8,305.7 650.4,304.4 649.2,303.5 647.3,302.7 645,302.1 642.7,301.4 640.9,300.6 639.9,299.5 639.8,298.2 640.5,296.6 641.8,294.8 643.3,292.9 644.6,291.1 645.4,289.5 645.3,288.1 644.3,287.1 642.6,286.2 640.3,285.6 638,284.9 636.1,284.2 634.8,283.2 634.3,282 634.8,280.5 635.9,278.7 637.4,276.8 638.8,275" fill="none" stroke="#5a1208" stroke-width="1.4" stroke-linecap="round"/><path d="M636.7 275.7 l-3 -2.5 M636.7 275.7 l2.5 -3" stroke="#c4161c" stroke-width="1.4" fill="none" stroke-linecap="round"/><polygon points="531.1,320.3 529.2,319.6 527.9,318.6 527.5,317.4 527.9,315.9 529,314.2 530.5,312.4 531.9,310.6 532.8,308.9 533.1,307.5 532.4,306.3 530.9,305.5 528.8,304.8 526.6,304.2 524.5,303.5 523,302.6 522.2,301.5 522.4,300.1 523.3,298.4 524.7,296.6 526.2,294.8 527.3,293.1 527.8,291.6 527.4,290.4 526.2,289.4 524.3,288.7 522,288 519.8,287.4 518.1,286.6 524.9,284.4 524,286.1 522.6,287.9 521.1,289.7 520,291.4 519.6,292.9 520,294.1 521.2,295.1 523.2,295.8 525.4,296.4 527.6,297.1 529.3,297.9 530.3,298.9 530.4,300.2 529.6,301.8 528.4,303.6 526.9,305.4 525.6,307.2 524.9,308.8 525,310.1 526,311.1 527.8,311.9 529.9,312.5 532.2,313.2 534.1,313.9 535.3,314.9 535.7,316.1 535.2,317.6 534.1,319.3" fill="#f4b6b0" opacity="0.75"/><path d="M529.2 319.6L535.2 317.6M527.5 317.4L535.3 314.9M529 314.2L532.2 313.2M531.9 310.6L527.8 311.9M533.1 307.5L525 310.1M530.9 305.5L525.6 307.2M526.6 304.2L528.4 303.6M523 302.6L530.4 300.2M522.4 300.1L529.3 297.9M524.7 296.6L525.4 296.4M527.3 293.1L521.2 295.1M527.4 290.4L519.6 292.9M524.3 288.7L521.1 289.7M519.8 287.4L524 286.1" stroke="#8a1a10" stroke-width="0.6"/><polyline points="531.1,320.3 529.2,319.6 527.9,318.6 527.5,317.4 527.9,315.9 529,314.2 530.5,312.4 531.9,310.6 532.8,308.9 533.1,307.5 532.4,306.3 530.9,305.5 528.8,304.8 526.6,304.2 524.5,303.5 523,302.6 522.2,301.5 522.4,300.1 523.3,298.4 524.7,296.6 526.2,294.8 527.3,293.1 527.8,291.6 527.4,290.4 526.2,289.4 524.3,288.7 522,288 519.8,287.4 518.1,286.6" fill="none" stroke="#c4161c" stroke-width="1.4" stroke-linecap="round"/><polyline points="534.1,319.3 535.2,317.6 535.7,316.1 535.3,314.9 534.1,313.9 532.2,313.2 529.9,312.5 527.8,311.9 526,311.1 525,310.1 524.9,308.8 525.6,307.2 526.9,305.4 528.4,303.6 529.6,301.8 530.4,300.2 530.3,298.9 529.3,297.9 527.6,297.1 525.4,296.4 523.2,295.8 521.2,295.1 520,294.1 519.6,292.9 520,291.4 521.1,289.7 522.6,287.9 524,286.1 524.9,284.4" fill="none" stroke="#5a1208" stroke-width="1.4" stroke-linecap="round"/><path d="M521.5 285.5 l-3 -2.5 M521.5 285.5 l2.5 -3" stroke="#c4161c" stroke-width="1.4" fill="none" stroke-linecap="round"/><polygon points="727.5,316.8 727.6,315.4 726.7,314.3 725,313.4 722.8,312.7 720.4,312.1 718.4,311.3 716.9,310.4 716.4,309.1 716.7,307.6 717.8,305.9 719.3,304 720.8,302.1 721.9,300.4 722.2,298.8 721.6,297.6 720.2,296.7 718.1,296 715.7,295.3 713.5,294.6 711.9,293.7 711,292.6 711.1,291.2 711.9,289.5 713.3,287.7 714.9,285.8 716.1,283.9 716.7,282.3 716.5,281 708.2,283.7 708.7,284.9 710.2,285.9 712.2,286.6 714.6,287.3 716.8,287.9 718.5,288.8 719.4,289.9 719.4,291.3 718.5,293 717.1,294.9 715.6,296.8 714.3,298.6 713.7,300.2 713.9,301.5 715.1,302.5 717,303.3 719.3,304 721.6,304.7 723.5,305.5 724.7,306.5 724.9,307.8 724.3,309.4 723.1,311.2 721.5,313.1 720.1,315 719.3,316.6 719.2,318.1 720.1,319.2" fill="#f4b6b0" opacity="0.75"/><path d="M727.6 315.4L719.2 318.1M725 313.4L720.1 315M720.4 312.1L723.1 311.2M716.9 310.4L724.9 307.8M716.7 307.6L723.5 305.5M719.3 304L719.3 304M721.9 300.4L715.1 302.5M721.6 297.6L713.7 300.2M718.1 296L715.6 296.8M713.5 294.6L718.5 293M711 292.6L719.4 289.9M711.9 289.5L716.8 287.9M714.9 285.8L712.2 286.6M716.7 282.3L708.7 284.9" stroke="#8a1a10" stroke-width="0.6"/><polyline points="727.5,316.8 727.6,315.4 726.7,314.3 725,313.4 722.8,312.7 720.4,312.1 718.4,311.3 716.9,310.4 716.4,309.1 716.7,307.6 717.8,305.9 719.3,304 720.8,302.1 721.9,300.4 722.2,298.8 721.6,297.6 720.2,296.7 718.1,296 715.7,295.3 713.5,294.6 711.9,293.7 711,292.6 711.1,291.2 711.9,289.5 713.3,287.7 714.9,285.8 716.1,283.9 716.7,282.3 716.5,281" fill="none" stroke="#c4161c" stroke-width="1.4" stroke-linecap="round"/><polyline points="720.1,319.2 719.2,318.1 719.3,316.6 720.1,315 721.5,313.1 723.1,311.2 724.3,309.4 724.9,307.8 724.7,306.5 723.5,305.5 721.6,304.7 719.3,304 717,303.3 715.1,302.5 713.9,301.5 713.7,300.2 714.3,298.6 715.6,296.8 717.1,294.9 718.5,293 719.4,291.3 719.4,289.9 718.5,288.8 716.8,287.9 714.6,287.3 712.2,286.6 710.2,285.9 708.7,284.9 708.2,283.7" fill="none" stroke="#5a1208" stroke-width="1.4" stroke-linecap="round"/><path d="M712.3 282.4 l-3 -2.5 M712.3 282.4 l2.5 -3" stroke="#c4161c" stroke-width="1.4" fill="none" stroke-linecap="round"/><polygon points="607.3,327.5 604.9,326.9 602.9,326.1 601.6,325.1 601.2,323.8 601.7,322.2 602.9,320.4 604.4,318.5 605.9,316.6 606.9,314.9 607,313.4 606.3,312.2 604.7,311.3 602.5,310.6 600.1,309.9 598,309.2 596.4,308.3 595.7,307.1 595.9,305.6 596.9,303.8 598.4,301.9 599.9,300 601.1,298.2 601.6,296.7 601.1,295.4 599.8,294.4 597.8,293.6 595.4,292.9 593.1,292.3 597.6,290.8 596.1,292.7 594.6,294.6 593.4,296.4 592.9,298 593.3,299.3 594.6,300.3 596.6,301.1 599,301.8 601.3,302.4 603.1,303.3 604.1,304.4 604.3,305.7 603.5,307.4 602.2,309.2 600.6,311.2 599.3,313 598.5,314.7 598.6,316.1 599.6,317.2 601.4,318 603.7,318.7 606.1,319.4 608.1,320.1 609.4,321.1 609.8,322.4 609.4,324 608.2,325.8 606.7,327.7" fill="#f4b6b0" opacity="0.75"/><path d="M604.9 326.9L608.2 325.8M601.6 325.1L609.8 322.4M601.7 322.2L608.1 320.1M604.4 318.5L603.7 318.7M606.9 314.9L599.6 317.2M606.3 312.2L598.5 314.7M602.5 310.6L600.6 311.2M598 309.2L603.5 307.4M595.7 307.1L604.1 304.4M596.9 303.8L601.3 302.4M599.9 300L596.6 301.1M601.6 296.7L593.3 299.3M599.8 294.4L593.4 296.4M595.4 292.9L596.1 292.7" stroke="#8a1a10" stroke-width="0.6"/><polyline points="607.3,327.5 604.9,326.9 602.9,326.1 601.6,325.1 601.2,323.8 601.7,322.2 602.9,320.4 604.4,318.5 605.9,316.6 606.9,314.9 607,313.4 606.3,312.2 604.7,311.3 602.5,310.6 600.1,309.9 598,309.2 596.4,308.3 595.7,307.1 595.9,305.6 596.9,303.8 598.4,301.9 599.9,300 601.1,298.2 601.6,296.7 601.1,295.4 599.8,294.4 597.8,293.6 595.4,292.9 593.1,292.3" fill="none" stroke="#c4161c" stroke-width="1.4" stroke-linecap="round"/><polyline points="606.7,327.7 608.2,325.8 609.4,324 609.8,322.4 609.4,321.1 608.1,320.1 606.1,319.4 603.7,318.7 601.4,318 599.6,317.2 598.6,316.1 598.5,314.7 599.3,313 600.6,311.2 602.2,309.2 603.5,307.4 604.3,305.7 604.1,304.4 603.1,303.3 601.3,302.4 599,301.8 596.6,301.1 594.6,300.3 593.3,299.3 592.9,298 593.4,296.4 594.6,294.6 596.1,292.7 597.6,290.8" fill="none" stroke="#5a1208" stroke-width="1.4" stroke-linecap="round"/><path d="M595.4 291.5 l-3 -2.5 M595.4 291.5 l2.5 -3" stroke="#c4161c" stroke-width="1.4" fill="none" stroke-linecap="round"/><polygon points="684.1,336.8 682.3,335.9 681.5,334.8 681.5,333.3 682.4,331.5 683.9,329.6 685.5,327.6 686.8,325.8 687.4,324.1 687.1,322.7 685.9,321.7 683.9,320.8 681.5,320.2 679.1,319.5 677.2,318.6 676,317.6 675.8,316.2 676.4,314.5 677.7,312.6 679.3,310.7 680.8,308.7 681.6,307 681.7,305.5 680.8,304.4 679,303.5 676.7,302.8 674.3,302.1 672.1,301.3 670.6,300.3 678.9,297.7 678.3,299.3 677,301.2 675.4,303.2 674,305.1 673.1,306.8 673,308.3 673.9,309.5 675.6,310.4 677.9,311.1 680.3,311.8 682.5,312.6 684,313.5 684.6,314.8 684.3,316.4 683.2,318.2 681.6,320.1 680.1,322.1 678.9,323.9 678.6,325.5 679.1,326.8 680.6,327.7 682.7,328.5 685.2,329.2 687.5,329.9 689.2,330.8 690.1,332 690.1,333.4 689.2,335.2" fill="#f4b6b0" opacity="0.75"/><path d="M682.3 335.9L690.1 333.4M681.5 333.3L689.2 330.8M683.9 329.6L685.2 329.2M686.8 325.8L680.6 327.7M687.1 322.7L678.6 325.5M683.9 320.8L680.1 322.1M679.1 319.5L683.2 318.2M676 317.6L684.6 314.8M676.4 314.5L682.5 312.6M679.3 310.7L677.9 311.1M681.6 307L673.9 309.5M680.8 304.4L673.1 306.8M676.7 302.8L675.4 303.2M672.1 301.3L678.3 299.3" stroke="#8a1a10" stroke-width="0.6"/><polyline points="684.1,336.8 682.3,335.9 681.5,334.8 681.5,333.3 682.4,331.5 683.9,329.6 685.5,327.6 686.8,325.8 687.4,324.1 687.1,322.7 685.9,321.7 683.9,320.8 681.5,320.2 679.1,319.5 677.2,318.6 676,317.6 675.8,316.2 676.4,314.5 677.7,312.6 679.3,310.7 680.8,308.7 681.6,307 681.7,305.5 680.8,304.4 679,303.5 676.7,302.8 674.3,302.1 672.1,301.3 670.6,300.3" fill="none" stroke="#c4161c" stroke-width="1.4" stroke-linecap="round"/><polyline points="689.2,335.2 690.1,333.4 690.1,332 689.2,330.8 687.5,329.9 685.2,329.2 682.7,328.5 680.6,327.7 679.1,326.8 678.6,325.5 678.9,323.9 680.1,322.1 681.6,320.1 683.2,318.2 684.3,316.4 684.6,314.8 684,313.5 682.5,312.6 680.3,311.8 677.9,311.1 675.6,310.4 673.9,309.5 673,308.3 673.1,306.8 674,305.1 675.4,303.2 677,301.2 678.3,299.3 678.9,297.7" fill="none" stroke="#5a1208" stroke-width="1.4" stroke-linecap="round"/><path d="M674.8 299 l-3 -2.5 M674.8 299 l2.5 -3" stroke="#c4161c" stroke-width="1.4" fill="none" stroke-linecap="round"/><polygon points="555.4,348.4 555.6,346.9 556.5,345.1 558,343.2 559.6,341.2 560.9,339.3 561.5,337.7 561.1,336.3 559.8,335.3 557.8,334.5 555.3,333.8 553,333.1 551.1,332.2 549.9,331.1 549.8,329.7 550.5,328 551.8,326.1 553.4,324.1 554.9,322.2 555.7,320.5 555.7,319 554.7,317.9 552.8,317 550.5,316.3 548.1,315.6 545.9,314.8 544.5,313.8 544,312.5 544.5,310.9 551.3,308.7 552.6,309.8 552.9,311.1 552.4,312.8 551.1,314.6 549.5,316.6 548,318.6 547.1,320.3 546.9,321.8 547.7,323 549.4,324 551.7,324.7 554.2,325.4 556.4,326.1 557.9,327.1 558.6,328.3 558.3,329.9 557.3,331.7 555.7,333.7 554.2,335.6 553,337.5 552.5,339.1 553,340.4 554.4,341.4 556.6,342.2 559,342.9 561.3,343.6 563.2,344.5 564.2,345.6" fill="#f4b6b0" opacity="0.75"/><path d="M555.6 346.9L563.2 344.5M558 343.2L559 342.9M560.9 339.3L554.4 341.4M561.1 336.3L552.5 339.1M557.8 334.5L554.2 335.6M553 333.1L557.3 331.7M549.9 331.1L558.6 328.3M550.5 328L556.4 326.1M553.4 324.1L551.7 324.7M555.7 320.5L547.7 323M554.7 317.9L547.1 320.3M550.5 316.3L549.5 316.6M545.9 314.8L552.4 312.8M544 312.5L552.6 309.8" stroke="#8a1a10" stroke-width="0.6"/><polyline points="555.4,348.4 555.6,346.9 556.5,345.1 558,343.2 559.6,341.2 560.9,339.3 561.5,337.7 561.1,336.3 559.8,335.3 557.8,334.5 555.3,333.8 553,333.1 551.1,332.2 549.9,331.1 549.8,329.7 550.5,328 551.8,326.1 553.4,324.1 554.9,322.2 555.7,320.5 555.7,319 554.7,317.9 552.8,317 550.5,316.3 548.1,315.6 545.9,314.8 544.5,313.8 544,312.5 544.5,310.9" fill="none" stroke="#c4161c" stroke-width="1.4" stroke-linecap="round"/><polyline points="564.2,345.6 563.2,344.5 561.3,343.6 559,342.9 556.6,342.2 554.4,341.4 553,340.4 552.5,339.1 553,337.5 554.2,335.6 555.7,333.7 557.3,331.7 558.3,329.9 558.6,328.3 557.9,327.1 556.4,326.1 554.2,325.4 551.7,324.7 549.4,324 547.7,323 546.9,321.8 547.1,320.3 548,318.6 549.5,316.6 551.1,314.6 552.4,312.8 552.9,311.1 552.6,309.8 551.3,308.7" fill="none" stroke="#5a1208" stroke-width="1.4" stroke-linecap="round"/><path d="M547.9 309.8 l-3 -2.5 M547.9 309.8 l2.5 -3" stroke="#c4161c" stroke-width="1.4" fill="none" stroke-linecap="round"/><polygon points="646.2,356 647.2,354.2 647.4,352.6 646.6,351.3 644.9,350.4 642.6,349.6 640,348.9 637.7,348.1 636.1,347.1 635.4,345.8 635.6,344.2 636.7,342.4 638.2,340.4 639.9,338.3 641.1,336.4 641.6,334.8 641.1,333.4 639.7,332.3 637.6,331.5 635,330.8 632.6,330.1 630.7,329.1 629.6,328 629.6,326.5 630.4,324.7 631.8,322.7 633.5,320.7 634.9,318.7 635.7,316.9 627.3,319.6 629,320.6 631.3,321.4 633.8,322.1 636.1,322.9 637.8,323.8 638.6,325.1 638.5,326.7 637.4,328.5 635.9,330.5 634.2,332.6 632.9,334.5 632.4,336.2 632.8,337.6 634.2,338.6 636.3,339.5 638.8,340.2 641.3,340.9 643.2,341.8 644.3,343 644.5,344.4 643.7,346.2 642.3,348.2 640.6,350.2 639.2,352.2 638.3,354 638.4,355.5 639.5,356.6 641.4,357.5" fill="#f4b6b0" opacity="0.75"/><path d="M647.2 354.2L639.5 356.6M646.6 351.3L638.3 354M642.6 349.6L640.6 350.2M637.7 348.1L643.7 346.2M635.4 345.8L644.3 343M636.7 342.4L641.3 340.9M639.9 338.3L636.3 339.5M641.6 334.8L632.8 337.6M639.7 332.3L632.9 334.5M635 330.8L635.9 330.5M630.7 329.1L638.5 326.7M629.6 326.5L637.8 323.8M631.8 322.7L633.8 322.1M634.9 318.7L629 320.6" stroke="#8a1a10" stroke-width="0.6"/><polyline points="646.2,356 647.2,354.2 647.4,352.6 646.6,351.3 644.9,350.4 642.6,349.6 640,348.9 637.7,348.1 636.1,347.1 635.4,345.8 635.6,344.2 636.7,342.4 638.2,340.4 639.9,338.3 641.1,336.4 641.6,334.8 641.1,333.4 639.7,332.3 637.6,331.5 635,330.8 632.6,330.1 630.7,329.1 629.6,328 629.6,326.5 630.4,324.7 631.8,322.7 633.5,320.7 634.9,318.7 635.7,316.9" fill="none" stroke="#c4161c" stroke-width="1.4" stroke-linecap="round"/><polyline points="641.4,357.5 639.5,356.6 638.4,355.5 638.3,354 639.2,352.2 640.6,350.2 642.3,348.2 643.7,346.2 644.5,344.4 644.3,343 643.2,341.8 641.3,340.9 638.8,340.2 636.3,339.5 634.2,338.6 632.8,337.6 632.4,336.2 632.9,334.5 634.2,332.6 635.9,330.5 637.4,328.5 638.5,326.7 638.6,325.1 637.8,323.8 636.1,322.9 633.8,322.1 631.3,321.4 629,320.6 627.3,319.6" fill="none" stroke="#5a1208" stroke-width="1.4" stroke-linecap="round"/><path d="M631.5 318.3 l-3 -2.5 M631.5 318.3 l2.5 -3" stroke="#c4161c" stroke-width="1.4" fill="none" stroke-linecap="round"/><polygon points="598.3,379.6 596.9,378.4 594.6,377.6 592,376.8 589.5,376.1 587.5,375.1 586.4,373.9 586.3,372.4 587.2,370.5 588.7,368.5 590.4,366.3 591.9,364.3 592.7,362.4 592.6,360.9 591.4,359.7 589.4,358.8 586.8,358 584.2,357.3 582,356.4 580.6,355.3 580.2,353.8 580.7,352.1 582.1,350.1 583.8,348 585.4,345.9 586.5,344 586.7,342.3 585.8,341 584.1,340 578.1,341.9 577.2,343.7 577.3,345.3 578.4,346.5 580.4,347.5 582.9,348.2 585.5,349 587.8,349.8 589.3,350.9 589.7,352.4 589.2,354.1 587.9,356.1 586.2,358.2 584.6,360.3 583.5,362.2 583.2,363.9 584,365.2 585.7,366.3 588.1,367.1 590.7,367.8 593.2,368.6 594.9,369.6 595.8,370.9 595.6,372.6 594.5,374.5 592.9,376.6 591.2,378.7 589.8,380.7 589.3,382.4" fill="#f4b6b0" opacity="0.75"/><path d="M596.9 378.4L589.8 380.7M592 376.8L592.9 376.6M587.5 375.1L595.6 372.6M586.3 372.4L594.9 369.6M588.7 368.5L590.7 367.8M591.9 364.3L585.7 366.3M592.6 360.9L583.2 363.9M589.4 358.8L584.6 360.3M584.2 357.3L587.9 356.1M580.6 355.3L589.7 352.4M580.7 352.1L587.8 349.8M583.8 348L582.9 348.2M586.5 344L578.4 346.5M585.8 341L577.2 343.7" stroke="#8a1a10" stroke-width="0.6"/><polyline points="598.3,379.6 596.9,378.4 594.6,377.6 592,376.8 589.5,376.1 587.5,375.1 586.4,373.9 586.3,372.4 587.2,370.5 588.7,368.5 590.4,366.3 591.9,364.3 592.7,362.4 592.6,360.9 591.4,359.7 589.4,358.8 586.8,358 584.2,357.3 582,356.4 580.6,355.3 580.2,353.8 580.7,352.1 582.1,350.1 583.8,348 585.4,345.9 586.5,344 586.7,342.3 585.8,341 584.1,340" fill="none" stroke="#c4161c" stroke-width="1.4" stroke-linecap="round"/><polyline points="589.3,382.4 589.8,380.7 591.2,378.7 592.9,376.6 594.5,374.5 595.6,372.6 595.8,370.9 594.9,369.6 593.2,368.6 590.7,367.8 588.1,367.1 585.7,366.3 584,365.2 583.2,363.9 583.5,362.2 584.6,360.3 586.2,358.2 587.9,356.1 589.2,354.1 589.7,352.4 589.3,350.9 587.8,349.8 585.5,349 582.9,348.2 580.4,347.5 578.4,346.5 577.3,345.3 577.2,343.7 578.1,341.9" fill="none" stroke="#5a1208" stroke-width="1.4" stroke-linecap="round"/><path d="M581.1 340.9 l-3 -2.5 M581.1 340.9 l2.5 -3" stroke="#c4161c" stroke-width="1.4" fill="none" stroke-linecap="round"/><polygon points="669.5,260.4 670.6,258.7 670.8,257.2 670,255.9 668.4,254.9 666.1,254 663.8,253.2 661.8,252.3 660.5,251.2 660.2,249.8 660.9,248.2 662.3,246.4 663.9,244.5 665.4,242.7 666.3,241 666.2,239.6 665.2,238.4 663.4,237.5 661.1,236.6 658.8,235.8 656.9,234.8 655.9,233.6 655.9,232.2 656.8,230.5 658.3,228.7 659.9,226.8 661.3,225 661.9,223.4 661.6,222.1 653.6,224.1 654,225.5 655.3,226.6 657.3,227.5 659.7,228.3 661.9,229.2 663.5,230.2 664.1,231.5 663.8,233 662.7,234.7 661.1,236.6 659.5,238.5 658.3,240.2 658,241.7 658.7,243 660.2,244 662.4,244.9 664.8,245.7 666.8,246.6 668.2,247.7 668.6,249.1 668,250.7 666.7,252.4 665.1,254.3 663.5,256.1 662.6,257.8 662.5,259.3 663.4,260.5 665.2,261.5" fill="#bfe6f4" opacity="0.75"/><path d="M670.6 258.7L663.4 260.5M670 255.9L662.6 257.8M666.1 254L665.1 254.3M661.8 252.3L668 250.7M660.2 249.8L668.2 247.7M662.3 246.4L664.8 245.7M665.4 242.7L660.2 244M666.2 239.6L658 241.7M663.4 237.5L659.5 238.5M658.8 235.8L662.7 234.7M655.9 233.6L664.1 231.5M656.8 230.5L661.9 229.2M659.9 226.8L657.3 227.5M661.9 223.4L654 225.5" stroke="#3aa0c8" stroke-width="0.6"/><polyline points="669.5,260.4 670.6,258.7 670.8,257.2 670,255.9 668.4,254.9 666.1,254 663.8,253.2 661.8,252.3 660.5,251.2 660.2,249.8 660.9,248.2 662.3,246.4 663.9,244.5 665.4,242.7 666.3,241 666.2,239.6 665.2,238.4 663.4,237.5 661.1,236.6 658.8,235.8 656.9,234.8 655.9,233.6 655.9,232.2 656.8,230.5 658.3,228.7 659.9,226.8 661.3,225 661.9,223.4 661.6,222.1" fill="none" stroke="#29a8d8" stroke-width="1.1" stroke-linecap="round"/><polyline points="665.2,261.5 663.4,260.5 662.5,259.3 662.6,257.8 663.5,256.1 665.1,254.3 666.7,252.4 668,250.7 668.6,249.1 668.2,247.7 666.8,246.6 664.8,245.7 662.4,244.9 660.2,244 658.7,243 658,241.7 658.3,240.2 659.5,238.5 661.1,236.6 662.7,234.7 663.8,233 664.1,231.5 663.5,230.2 661.9,229.2 659.7,228.3 657.3,227.5 655.3,226.6 654,225.5 653.6,224.1" fill="none" stroke="#1b86b4" stroke-width="1.1" stroke-linecap="round"/><path d="M657.6 223.1 l-3 -2.5 M657.6 223.1 l2.5 -3" stroke="#29a8d8" stroke-width="1.1" fill="none" stroke-linecap="round"/><circle cx="652.1" cy="247.5" r="12.2" fill="#f9e9e9" stroke="#d98a8e" stroke-width="0.5"/><path d="M664.3 247.9h0M662.6 253.7h0M659.6 257.1h0M655.7 259.2h0M651.6 259.7h0M645.7 257.9h0M642.2 254.6h0M640.4 251h0M640 246.3h0M641.1 242.3h0M643.5 238.9h0M648.3 235.9h0M653.5 235.4h0M656.9 236.3h0M662 240.3h0M663.6 243.4h0M652.3 249.5h0M660.5 247.4h0M657.5 242.1h0M657.6 248.7h0M648.8 247.6h0M657.8 245.7h0M657.1 254.8h0M658.8 254.1h0M645.2 249.6h0M648.4 253.2h0M652.8 249.2h0M655.2 244h0M652.9 243.1h0M661.2 245.7h0M652.4 239h0M644.8 243.4h0M656.9 252.2h0M654.1 243.6h0M660.2 243.2h0M647.1 250.7h0M646.3 249.3h0M658.2 247.3h0" stroke="#b8242a" stroke-width="2.4" stroke-linecap="round" fill="none"/><polygon points="736.3,303.4 736.7,301.8 737.9,300.1 739.6,298.2 741.2,296.4 742.2,294.7 742.4,293.2 741.6,291.9 740,290.9 737.8,290 735.4,289.2 733.4,288.3 732.2,287.2 731.9,285.8 732.6,284.2 733.9,282.4 735.6,280.5 737.1,278.7 737.9,277 737.9,275.6 736.8,274.4 735,273.5 732.7,272.6 730.4,271.8 728.6,270.8 727.6,269.6 727.6,268.2 728.4,266.5 729.9,264.7 731.3,264.3 733.5,265.2 735.1,266.2 735.8,267.5 735.5,269 734.4,270.7 732.8,272.6 731.2,274.5 730,276.2 729.7,277.7 730.3,279 731.9,280 734,280.9 736.4,281.7 738.5,282.7 739.8,283.7 740.2,285.1 739.7,286.7 738.4,288.4 736.7,290.3 735.2,292.1 734.3,293.8 734.2,295.3 735.1,296.5 736.8,297.5 739.1,298.3 741.4,299.2 743.4,300.1 744.5,301.3" fill="#bfe6f4" opacity="0.75"/><path d="M736.7 301.8L743.4 300.1M739.6 298.2L739.1 298.3M742.2 294.7L735.1 296.5M741.6 291.9L734.3 293.8M737.8 290L736.7 290.3M733.4 288.3L739.7 286.7M731.9 285.8L739.8 283.7M733.9 282.4L736.4 281.7M737.1 278.7L731.9 280M737.9 275.6L729.7 277.7M735 273.5L731.2 274.5M730.4 271.8L734.4 270.7M727.6 269.6L735.8 267.5M728.4 266.5L733.5 265.2" stroke="#3aa0c8" stroke-width="0.6"/><polyline points="736.3,303.4 736.7,301.8 737.9,300.1 739.6,298.2 741.2,296.4 742.2,294.7 742.4,293.2 741.6,291.9 740,290.9 737.8,290 735.4,289.2 733.4,288.3 732.2,287.2 731.9,285.8 732.6,284.2 733.9,282.4 735.6,280.5 737.1,278.7 737.9,277 737.9,275.6 736.8,274.4 735,273.5 732.7,272.6 730.4,271.8 728.6,270.8 727.6,269.6 727.6,268.2 728.4,266.5 729.9,264.7" fill="none" stroke="#29a8d8" stroke-width="1.1" stroke-linecap="round"/><polyline points="744.5,301.3 743.4,300.1 741.4,299.2 739.1,298.3 736.8,297.5 735.1,296.5 734.2,295.3 734.3,293.8 735.2,292.1 736.7,290.3 738.4,288.4 739.7,286.7 740.2,285.1 739.8,283.7 738.5,282.7 736.4,281.7 734,280.9 731.9,280 730.3,279 729.7,277.7 730,276.2 731.2,274.5 732.8,272.6 734.4,270.7 735.5,269 735.8,267.5 735.1,266.2 733.5,265.2 731.3,264.3" fill="none" stroke="#1b86b4" stroke-width="1.1" stroke-linecap="round"/><path d="M730.6 264.5 l-3 -2.5 M730.6 264.5 l2.5 -3" stroke="#29a8d8" stroke-width="1.1" fill="none" stroke-linecap="round"/><circle cx="725.1" cy="288.9" r="12.2" fill="#f9e9e9" stroke="#d98a8e" stroke-width="0.5"/><path d="M737.1 291.2h0M736.3 293.9h0M733.7 297.6h0M727.5 300.9h0M724.7 301.1h0M720.2 300.1h0M715.5 296.3h0M713.6 292.8h0M713.1 286.7h0M714.1 283.7h0M718.3 278.8h0M721.2 277.4h0M726.6 276.8h0M731.8 278.7h0M734.9 281.5h0M737.1 286.4h0M724.6 286.8h0M730.6 283.8h0M723.6 292.9h0M729.5 282.9h0M733.1 285.6h0M732.3 287.1h0M722.7 281.7h0M724.6 298.4h0M721.8 296.9h0M732.7 286.7h0M730.7 295.8h0M723.1 285.3h0M731.9 291.1h0M734.3 290.8h0M718.1 288.6h0M718.5 293.2h0M729.8 286.2h0M719.9 294.2h0M722.9 296.1h0M719 287.2h0M721.9 282.6h0M733.4 294h0" stroke="#b8242a" stroke-width="2.4" stroke-linecap="round" fill="none"/><polygon points="591.8,283.5 591,282.5 591,281.3 591.9,279.8 593.3,278.1 594.8,276.4 596,274.8 596.6,273.4 596.3,272.2 595,271.3 593.1,270.6 590.9,269.9 588.9,269.2 587.4,268.4 586.8,267.3 587,266 588.1,264.4 589.6,262.7 591.1,261.1 592.2,259.5 592.5,258.2 591.9,257.1 590.5,256.2 588.4,255.5 586.2,254.9 584.3,254.1 583,253.2 582.6,252.1 583.2,250.7 589,249.1 590.2,250 590.4,251.2 589.8,252.6 588.5,254.2 587,255.9 585.6,257.6 584.8,259 584.8,260.3 585.8,261.3 587.5,262.1 589.7,262.7 591.8,263.4 593.5,264.2 594.4,265.2 594.4,266.4 593.6,267.9 592.2,269.6 590.7,271.3 589.4,272.9 588.8,274.3 589.1,275.5 590.3,276.4 592.2,277.1 594.4,277.8 596.5,278.5 598,279.3 598.6,280.4 598.4,281.7" fill="#bfe6f4" opacity="0.75"/><path d="M591 282.5L598.6 280.4M591.9 279.8L596.5 278.5M594.8 276.4L592.2 277.1M596.6 273.4L589.1 275.5M595 271.3L589.4 272.9M590.9 269.9L592.2 269.6M587.4 268.4L594.4 266.4M587 266L593.5 264.2M589.6 262.7L589.7 262.7M592.2 259.5L585.8 261.3M591.9 257.1L584.8 259M588.4 255.5L587 255.9M584.3 254.1L589.8 252.6M582.6 252.1L590.2 250" stroke="#3aa0c8" stroke-width="0.6"/><polyline points="591.8,283.5 591,282.5 591,281.3 591.9,279.8 593.3,278.1 594.8,276.4 596,274.8 596.6,273.4 596.3,272.2 595,271.3 593.1,270.6 590.9,269.9 588.9,269.2 587.4,268.4 586.8,267.3 587,266 588.1,264.4 589.6,262.7 591.1,261.1 592.2,259.5 592.5,258.2 591.9,257.1 590.5,256.2 588.4,255.5 586.2,254.9 584.3,254.1 583,253.2 582.6,252.1 583.2,250.7" fill="none" stroke="#29a8d8" stroke-width="1.1" stroke-linecap="round"/><polyline points="598.4,281.7 598.6,280.4 598,279.3 596.5,278.5 594.4,277.8 592.2,277.1 590.3,276.4 589.1,275.5 588.8,274.3 589.4,272.9 590.7,271.3 592.2,269.6 593.6,267.9 594.4,266.4 594.4,265.2 593.5,264.2 591.8,263.4 589.7,262.7 587.5,262.1 585.8,261.3 584.8,260.3 584.8,259 585.6,257.6 587,255.9 588.5,254.2 589.8,252.6 590.4,251.2 590.2,250 589,249.1" fill="none" stroke="#1b86b4" stroke-width="1.1" stroke-linecap="round"/><path d="M586.1 249.9 l-3 -2.5 M586.1 249.9 l2.5 -3" stroke="#29a8d8" stroke-width="1.1" fill="none" stroke-linecap="round"/><circle cx="603" cy="267.9" r="11.3" fill="#f9e9e9" stroke="#d98a8e" stroke-width="0.5"/><path d="M614.3 268.7h0M613.2 272.8h0M609.4 277.2h0M606.4 278.7h0M600.7 279h0M596.7 277.3h0M593.8 274.5h0M591.8 269.2h0M592 265.5h0M594.5 260.5h0M597.5 258.1h0M602.1 256.7h0M607.4 257.5h0M611.9 260.9h0M613.5 263.6h0M604.2 275h0M609.5 265.7h0M595.9 273.3h0M611.1 270.4h0M602.2 271.3h0M606.7 271.3h0M604.6 264.4h0M596.7 264.4h0M598.4 272.7h0M605.1 268.8h0M605.1 275.1h0M598.5 270.2h0M597.8 264.8h0M600.6 275.6h0M601.6 263.7h0M597.2 265h0M608.5 262.5h0M600.9 276.6h0M607.3 271.9h0" stroke="#b8242a" stroke-width="2.3" stroke-linecap="round" fill="none"/><polygon points="664.7,305.5 665.6,304.4 666.2,303.4 666.1,302.6 665.3,301.9 664.1,301.4 662.6,300.9 661.2,300.5 660.1,299.9 659.5,299.2 659.6,298.3 660.3,297.3 661.3,296.2 662.4,295 663.2,294 663.6,293 663.3,292.2 662.4,291.6 661.1,291.1 659.6,290.7 658.2,290.2 657.2,289.6 656.9,288.8 657.1,287.9 657.9,286.8 659,285.7 660,284.6 660.8,283.6 660.9,282.7 655.6,284 656.2,284.7 657.4,285.3 658.8,285.8 660.3,286.2 661.5,286.8 662.2,287.4 662.2,288.3 661.6,289.3 660.7,290.4 659.6,291.5 658.7,292.6 658.2,293.6 658.3,294.4 659.1,295 660.4,295.6 661.9,296 663.3,296.5 664.4,297.1 664.9,297.8 664.7,298.7 664,299.7 663,300.8 661.9,302 661.1,303 660.8,304 661.1,304.7 662,305.3 663.4,305.8" fill="#bfe6f4" opacity="0.75"/><path d="M665.6 304.4L662 305.3M666.1 302.6L660.8 304M664.1 301.4L661.9 302M661.2 300.5L664 299.7M659.5 299.2L664.9 297.8M660.3 297.3L663.3 296.5M662.4 295L660.4 295.6M663.6 293L658.3 294.4M662.4 291.6L658.7 292.6M659.6 290.7L660.7 290.4M657.2 289.6L662.2 288.3M657.1 287.9L661.5 286.8M659 285.7L658.8 285.8M660.8 283.6L656.2 284.7" stroke="#3aa0c8" stroke-width="0.6"/><polyline points="664.7,305.5 665.6,304.4 666.2,303.4 666.1,302.6 665.3,301.9 664.1,301.4 662.6,300.9 661.2,300.5 660.1,299.9 659.5,299.2 659.6,298.3 660.3,297.3 661.3,296.2 662.4,295 663.2,294 663.6,293 663.3,292.2 662.4,291.6 661.1,291.1 659.6,290.7 658.2,290.2 657.2,289.6 656.9,288.8 657.1,287.9 657.9,286.8 659,285.7 660,284.6 660.8,283.6 660.9,282.7" fill="none" stroke="#29a8d8" stroke-width="1.1" stroke-linecap="round"/><polyline points="663.4,305.8 662,305.3 661.1,304.7 660.8,304 661.1,303 661.9,302 663,300.8 664,299.7 664.7,298.7 664.9,297.8 664.4,297.1 663.3,296.5 661.9,296 660.4,295.6 659.1,295 658.3,294.4 658.2,293.6 658.7,292.6 659.6,291.5 660.7,290.4 661.6,289.3 662.2,288.3 662.2,287.4 661.5,286.8 660.3,286.2 658.8,285.8 657.4,285.3 656.2,284.7 655.6,284" fill="none" stroke="#1b86b4" stroke-width="1.1" stroke-linecap="round"/><path d="M658.3 283.3 l-3 -2.5 M658.3 283.3 l2.5 -3" stroke="#29a8d8" stroke-width="1.1" fill="none" stroke-linecap="round"/><circle cx="655" cy="297.7" r="7.2" fill="#f9e9e9" stroke="#d98a8e" stroke-width="0.5"/><path d="M662.1 299.1h0M660.5 302.4h0M655.2 304.9h0M651.2 303.9h0M647.9 298.8h0M648.3 295.3h0M652.6 291h0M657.2 290.9h0M661.3 294.1h0M657.9 297.7h0M652.5 301.9h0M654.5 300.6h0M655.8 303h0M658.7 294.1h0M656 303.2h0M652.3 297.5h0M651.4 298.8h0M658.8 299.8h0" stroke="#b8242a" stroke-width="1.4" stroke-linecap="round" fill="none"/><polygon points="545.8,294.6 547.3,292.9 548.8,291.2 549.7,289.6 549.8,288.2 549,287.1 547.4,286.2 545.3,285.4 543.1,284.6 541.3,283.8 540.2,282.7 540,281.4 540.7,279.9 542.1,278.2 543.6,276.5 545,274.8 545.7,273.3 545.6,272 544.5,270.9 542.7,270 540.5,269.3 538.4,268.5 536.8,267.6 535.9,266.5 536,265.1 536.9,263.5 538.4,261.8 539.9,260.1 541.1,258.4 535.2,260 537.1,260.8 539.3,261.6 541.4,262.4 542.9,263.3 543.7,264.5 543.5,265.8 542.5,267.4 541,269.2 539.5,270.9 538.3,272.5 537.9,273.9 538.4,275.2 539.8,276.1 541.8,277 544,277.7 546,278.5 547.3,279.5 547.8,280.7 547.4,282.2 546.2,283.8 544.7,285.5 543.2,287.3 542.2,288.8 542.1,290.2 542.8,291.4 544.4,292.3 546.5,293.1 548.7,293.9" fill="#bfe6f4" opacity="0.75"/><path d="M547.3 292.9L546.5 293.1M549.7 289.6L542.8 291.4M549 287.1L542.2 288.8M545.3 285.4L544.7 285.5M541.3 283.8L547.4 282.2M540 281.4L547.3 279.5M542.1 278.2L544 277.7M545 274.8L539.8 276.1M545.6 272L537.9 273.9M542.7 270L539.5 270.9M538.4 268.5L542.5 267.4M535.9 266.5L543.7 264.5M536.9 263.5L541.4 262.4M539.9 260.1L537.1 260.8" stroke="#3aa0c8" stroke-width="0.6"/><polyline points="545.8,294.6 547.3,292.9 548.8,291.2 549.7,289.6 549.8,288.2 549,287.1 547.4,286.2 545.3,285.4 543.1,284.6 541.3,283.8 540.2,282.7 540,281.4 540.7,279.9 542.1,278.2 543.6,276.5 545,274.8 545.7,273.3 545.6,272 544.5,270.9 542.7,270 540.5,269.3 538.4,268.5 536.8,267.6 535.9,266.5 536,265.1 536.9,263.5 538.4,261.8 539.9,260.1 541.1,258.4" fill="none" stroke="#29a8d8" stroke-width="1.1" stroke-linecap="round"/><polyline points="548.7,293.9 546.5,293.1 544.4,292.3 542.8,291.4 542.1,290.2 542.2,288.8 543.2,287.3 544.7,285.5 546.2,283.8 547.4,282.2 547.8,280.7 547.3,279.5 546,278.5 544,277.7 541.8,277 539.8,276.1 538.4,275.2 537.9,273.9 538.3,272.5 539.5,270.9 541,269.2 542.5,267.4 543.5,265.8 543.7,264.5 542.9,263.3 541.4,262.4 539.3,261.6 537.1,260.8 535.2,260" fill="none" stroke="#1b86b4" stroke-width="1.1" stroke-linecap="round"/><path d="M538.2 259.2 l-3 -2.5 M538.2 259.2 l2.5 -3" stroke="#29a8d8" stroke-width="1.1" fill="none" stroke-linecap="round"/><circle cx="533.1" cy="281.8" r="11.3" fill="#f9e9e9" stroke="#d98a8e" stroke-width="0.5"/><path d="M544.2 283.7h0M542.6 287.9h0M539.9 290.8h0M536 292.7h0M530.8 292.9h0M526.7 291.1h0M523 286.9h0M521.9 283.5h0M522.3 278.4h0M524.8 274.1h0M529.3 271.2h0M533.1 270.5h0M537.2 271.3h0M541.8 274.6h0M543.9 278.5h0M533.1 290.4h0M541.2 280.9h0M537.2 278.9h0M532 273.3h0M530.6 276.1h0M537.9 285.3h0M526.5 276.3h0M539.2 280.5h0M536.2 278.3h0M535.4 275.5h0M540.7 282.5h0M526.5 286.7h0M532.9 281.5h0M524.7 282.1h0M533.3 287h0M535.8 278.9h0M529.1 280h0M541 280.2h0M530.7 282.6h0" stroke="#b8242a" stroke-width="2.3" stroke-linecap="round" fill="none"/><polygon points="694.5,293.2 695.6,292.1 696.7,291 697.4,290 697.6,289 697.2,288.3 696.2,287.7 694.8,287.2 693.3,286.8 692,286.2 691.2,285.6 690.9,284.8 691.3,283.9 692.2,282.8 693.3,281.7 694.3,280.6 694.9,279.5 695,278.7 694.4,278 693.3,277.4 691.8,276.9 690.3,276.5 689.1,275.9 688.4,275.3 688.4,274.4 688.9,273.4 689.9,272.3 691,271.2 691.9,270.1 688.2,271.1 689.5,271.6 691,272 692.4,272.5 693.4,273.1 693.7,273.9 693.4,274.8 692.6,275.9 691.6,277 690.5,278.1 689.8,279.2 689.6,280.1 690.1,280.8 691.1,281.4 692.6,281.9 694.1,282.3 695.3,282.8 696.1,283.5 696.3,284.3 695.9,285.2 695,286.3 693.9,287.5 692.9,288.6 692.3,289.6 692.3,290.4 693,291.1 694.1,291.7 695.6,292.1 697.1,292.6" fill="#bfe6f4" opacity="0.75"/><path d="M695.6 292.1L695.6 292.1M697.4 290L693 291.1M697.2 288.3L692.3 289.6M694.8 287.2L693.9 287.5M692 286.2L695.9 285.2M690.9 284.8L696.1 283.5M692.2 282.8L694.1 282.3M694.3 280.6L691.1 281.4M695 278.7L689.6 280.1M693.3 277.4L690.5 278.1M690.3 276.5L692.6 275.9M688.4 275.3L693.7 273.9M688.9 273.4L692.4 272.5M691 271.2L689.5 271.6" stroke="#3aa0c8" stroke-width="0.6"/><polyline points="694.5,293.2 695.6,292.1 696.7,291 697.4,290 697.6,289 697.2,288.3 696.2,287.7 694.8,287.2 693.3,286.8 692,286.2 691.2,285.6 690.9,284.8 691.3,283.9 692.2,282.8 693.3,281.7 694.3,280.6 694.9,279.5 695,278.7 694.4,278 693.3,277.4 691.8,276.9 690.3,276.5 689.1,275.9 688.4,275.3 688.4,274.4 688.9,273.4 689.9,272.3 691,271.2 691.9,270.1" fill="none" stroke="#29a8d8" stroke-width="1.1" stroke-linecap="round"/><polyline points="697.1,292.6 695.6,292.1 694.1,291.7 693,291.1 692.3,290.4 692.3,289.6 692.9,288.6 693.9,287.5 695,286.3 695.9,285.2 696.3,284.3 696.1,283.5 695.3,282.8 694.1,282.3 692.6,281.9 691.1,281.4 690.1,280.8 689.6,280.1 689.8,279.2 690.5,278.1 691.6,277 692.6,275.9 693.4,274.8 693.7,273.9 693.4,273.1 692.4,272.5 691,272 689.5,271.6 688.2,271.1" fill="none" stroke="#1b86b4" stroke-width="1.1" stroke-linecap="round"/><path d="M690 270.6 l-3 -2.5 M690 270.6 l2.5 -3" stroke="#29a8d8" stroke-width="1.1" fill="none" stroke-linecap="round"/><circle cx="686.8" cy="285" r="7.2" fill="#f9e9e9" stroke="#d98a8e" stroke-width="0.5"/><path d="M693.9 286.3h0M691.3 290.6h0M686.8 292.2h0M683.1 291.2h0M679.8 286.6h0M680.3 282h0M683.9 278.4h0M688.2 277.9h0M692.5 280.6h0M684.3 285.9h0M685.9 285.3h0M691 287.5h0M683.2 287h0M686.5 281.6h0M691.6 286.8h0M682.8 282.5h0M682.7 281.1h0M683.5 288.8h0" stroke="#b8242a" stroke-width="1.4" stroke-linecap="round" fill="none"/><polygon points="619.1,323 618.2,322.4 617.9,321.6 618.3,320.7 619.1,319.6 620.2,318.5 621.2,317.4 621.9,316.3 622,315.5 621.4,314.8 620.3,314.2 618.9,313.7 617.4,313.3 616.2,312.7 615.4,312.1 615.3,311.2 615.9,310.3 616.8,309.2 617.9,308 618.8,306.9 619.4,305.9 619.3,305.1 618.6,304.5 617.3,303.9 615.8,303.5 614.4,303 613.3,302.4 612.7,301.7 612.8,300.8 617.6,299.6 618.1,300.3 617.9,301.2 617.2,302.2 616.2,303.4 615.1,304.5 614.3,305.6 614,306.5 614.3,307.2 615.3,307.9 616.6,308.4 618.1,308.8 619.5,309.3 620.4,309.9 620.7,310.7 620.4,311.6 619.6,312.7 618.5,313.8 617.5,314.9 616.8,316 616.6,316.9 617.1,317.6 618.2,318.1 619.6,318.6 621.1,319.1 622.4,319.6 623.2,320.3 623.3,321.1 622.8,322.1" fill="#bfe6f4" opacity="0.75"/><path d="M618.2 322.4L623.3 321.1M618.3 320.7L622.4 319.6M620.2 318.5L619.6 318.6M621.9 316.3L617.1 317.6M621.4 314.8L616.8 316M618.9 313.7L618.5 313.8M616.2 312.7L620.4 311.6M615.3 311.2L620.4 309.9M616.8 309.2L618.1 308.8M618.8 306.9L615.3 307.9M619.3 305.1L614 306.5M617.3 303.9L615.1 304.5M614.4 303L617.2 302.2M612.7 301.7L618.1 300.3" stroke="#3aa0c8" stroke-width="0.6"/><polyline points="619.1,323 618.2,322.4 617.9,321.6 618.3,320.7 619.1,319.6 620.2,318.5 621.2,317.4 621.9,316.3 622,315.5 621.4,314.8 620.3,314.2 618.9,313.7 617.4,313.3 616.2,312.7 615.4,312.1 615.3,311.2 615.9,310.3 616.8,309.2 617.9,308 618.8,306.9 619.4,305.9 619.3,305.1 618.6,304.5 617.3,303.9 615.8,303.5 614.4,303 613.3,302.4 612.7,301.7 612.8,300.8" fill="none" stroke="#29a8d8" stroke-width="1.1" stroke-linecap="round"/><polyline points="622.8,322.1 623.3,321.1 623.2,320.3 622.4,319.6 621.1,319.1 619.6,318.6 618.2,318.1 617.1,317.6 616.6,316.9 616.8,316 617.5,314.9 618.5,313.8 619.6,312.7 620.4,311.6 620.7,310.7 620.4,309.9 619.5,309.3 618.1,308.8 616.6,308.4 615.3,307.9 614.3,307.2 614,306.5 614.3,305.6 615.1,304.5 616.2,303.4 617.2,302.2 617.9,301.2 618.1,300.3 617.6,299.6" fill="none" stroke="#1b86b4" stroke-width="1.1" stroke-linecap="round"/><path d="M615.2 300.2 l-3 -2.5 M615.2 300.2 l2.5 -3" stroke="#29a8d8" stroke-width="1.1" fill="none" stroke-linecap="round"/><circle cx="612" cy="314.6" r="7.2" fill="#f9e9e9" stroke="#d98a8e" stroke-width="0.5"/><path d="M619.1 314.9h0M616.5 320.2h0M613 321.7h0M607.5 320.3h0M605.1 317h0M605.3 311.8h0M609.7 307.8h0M613.5 307.6h0M618 310.7h0M608.2 315.6h0M609.4 314.7h0M612.8 313.1h0M612 315.4h0M611.6 318.3h0M614.9 312.6h0M614.2 316.5h0M613.4 314.5h0M609.4 312.2h0" stroke="#b8242a" stroke-width="1.4" stroke-linecap="round" fill="none"/><polygon points="695,333.1 693.9,332.5 693.4,331.8 693.5,331 694.1,330 695.1,328.9 696.2,327.8 697,326.8 697.4,325.8 697.1,325.1 696.3,324.5 695,324 693.5,323.5 692.1,323.1 691.2,322.5 690.8,321.7 691,320.9 691.8,319.8 692.8,318.7 693.9,317.7 694.6,316.6 694.8,315.8 694.4,315 693.4,314.5 692,314 690.6,313.5 689.3,313 688.5,312.4 688.3,311.7 693.3,310.3 693.5,311.1 693.1,312.1 692.2,313.1 691.2,314.2 690.2,315.3 689.6,316.3 689.6,317.1 690.2,317.8 691.3,318.3 692.8,318.8 694.2,319.2 695.4,319.7 696,320.4 696,321.2 695.5,322.2 694.5,323.3 693.4,324.4 692.5,325.4 692.1,326.4 692.2,327.2 693,327.8 694.3,328.3 695.7,328.7 697.1,329.2 698.1,329.8 698.6,330.5 698.5,331.3 697.8,332.3" fill="#bfe6f4" opacity="0.75"/><path d="M693.9 332.5L698.5 331.3M693.5 331L698.1 329.8M695.1 328.9L695.7 328.7M697 326.8L693 327.8M697.1 325.1L692.1 326.4M695 324L693.4 324.4M692.1 323.1L695.5 322.2M690.8 321.7L696 320.4M691.8 319.8L694.2 319.2M693.9 317.7L691.3 318.3M694.8 315.8L689.6 317.1M693.4 314.5L690.2 315.3M690.6 313.5L692.2 313.1M688.5 312.4L693.5 311.1" stroke="#3aa0c8" stroke-width="0.6"/><polyline points="695,333.1 693.9,332.5 693.4,331.8 693.5,331 694.1,330 695.1,328.9 696.2,327.8 697,326.8 697.4,325.8 697.1,325.1 696.3,324.5 695,324 693.5,323.5 692.1,323.1 691.2,322.5 690.8,321.7 691,320.9 691.8,319.8 692.8,318.7 693.9,317.7 694.6,316.6 694.8,315.8 694.4,315 693.4,314.5 692,314 690.6,313.5 689.3,313 688.5,312.4 688.3,311.7" fill="none" stroke="#29a8d8" stroke-width="1.1" stroke-linecap="round"/><polyline points="697.8,332.3 698.5,331.3 698.6,330.5 698.1,329.8 697.1,329.2 695.7,328.7 694.3,328.3 693,327.8 692.2,327.2 692.1,326.4 692.5,325.4 693.4,324.4 694.5,323.3 695.5,322.2 696,321.2 696,320.4 695.4,319.7 694.2,319.2 692.8,318.8 691.3,318.3 690.2,317.8 689.6,317.1 689.6,316.3 690.2,315.3 691.2,314.2 692.2,313.1 693.1,312.1 693.5,311.1 693.3,310.3" fill="none" stroke="#1b86b4" stroke-width="1.1" stroke-linecap="round"/><path d="M690.8 311 l-3 -2.5 M690.8 311 l2.5 -3" stroke="#29a8d8" stroke-width="1.1" fill="none" stroke-linecap="round"/><circle cx="687.7" cy="325" r="7" fill="#f9e9e9" stroke="#d98a8e" stroke-width="0.5"/><path d="M694.6 325.5h0M692.6 330h0M688.3 332h0M683.6 330.7h0M680.9 326.9h0M681.4 321.8h0M684.5 318.8h0M689.7 318.3h0M693 320.5h0M686.6 328.1h0M690.7 328.8h0M685.8 329.6h0M690.4 324.2h0M691.6 321.9h0M687.2 324.2h0M683.4 326.2h0M686.9 327.5h0M686.6 327.7h0" stroke="#b8242a" stroke-width="1.4" stroke-linecap="round" fill="none"/><polygon points="578,340.4 578.2,339.4 577.9,338.7 576.9,338.1 575.6,337.6 574.1,337.1 572.7,336.6 571.8,336 571.5,335.2 571.9,334.3 572.7,333.2 573.8,332.1 574.8,331 575.5,329.9 575.6,329.1 575.1,328.4 574,327.8 572.5,327.3 571,326.8 569.8,326.3 569.1,325.7 568.9,324.8 569.4,323.9 570.4,322.8 571.5,321.6 572.4,320.5 573,319.5 572.9,318.7 572.2,318 567.9,319.2 567.6,320.1 567.9,320.8 568.9,321.4 570.3,321.9 571.8,322.4 573.1,322.9 574,323.5 574.3,324.3 574,325.2 573.2,326.3 572.1,327.4 571,328.5 570.4,329.6 570.2,330.4 570.8,331.2 571.9,331.7 573.3,332.2 574.8,332.7 576,333.2 576.8,333.9 576.9,334.7 576.4,335.7 575.5,336.7 574.4,337.9 573.4,339 572.9,340 572.9,340.8 573.6,341.5" fill="#bfe6f4" opacity="0.75"/><path d="M578.2 339.4L572.9 340.8M576.9 338.1L573.4 339M574.1 337.1L575.5 336.7M571.8 336L576.9 334.7M571.9 334.3L576 333.2M573.8 332.1L573.3 332.2M575.5 329.9L570.8 331.2M575.1 328.4L570.4 329.6M572.5 327.3L572.1 327.4M569.8 326.3L574 325.2M568.9 324.8L574 323.5M570.4 322.8L571.8 322.4M572.4 320.5L568.9 321.4M572.9 318.7L567.6 320.1" stroke="#3aa0c8" stroke-width="0.6"/><polyline points="578,340.4 578.2,339.4 577.9,338.7 576.9,338.1 575.6,337.6 574.1,337.1 572.7,336.6 571.8,336 571.5,335.2 571.9,334.3 572.7,333.2 573.8,332.1 574.8,331 575.5,329.9 575.6,329.1 575.1,328.4 574,327.8 572.5,327.3 571,326.8 569.8,326.3 569.1,325.7 568.9,324.8 569.4,323.9 570.4,322.8 571.5,321.6 572.4,320.5 573,319.5 572.9,318.7 572.2,318" fill="none" stroke="#29a8d8" stroke-width="1.1" stroke-linecap="round"/><polyline points="573.6,341.5 572.9,340.8 572.9,340 573.4,339 574.4,337.9 575.5,336.7 576.4,335.7 576.9,334.7 576.8,333.9 576,333.2 574.8,332.7 573.3,332.2 571.9,331.7 570.8,331.2 570.2,330.4 570.4,329.6 571,328.5 572.1,327.4 573.2,326.3 574,325.2 574.3,324.3 574,323.5 573.1,322.9 571.8,322.4 570.3,321.9 568.9,321.4 567.9,320.8 567.6,320.1 567.9,319.2" fill="none" stroke="#1b86b4" stroke-width="1.1" stroke-linecap="round"/><path d="M570 318.6 l-3 -2.5 M570 318.6 l2.5 -3" stroke="#29a8d8" stroke-width="1.1" fill="none" stroke-linecap="round"/><circle cx="566.8" cy="333" r="7.2" fill="#f9e9e9" stroke="#d98a8e" stroke-width="0.5"/><path d="M574 333.2h0M571.5 338.5h0M567 340.2h0M562.9 339h0M559.8 334.8h0M560.3 329.9h0M564 326.3h0M569.1 326.2h0M572.4 328.5h0M572 333.9h0M562.2 335.1h0M570.6 333h0M566.3 330.3h0M571.9 331.2h0M567.7 333.2h0M561.4 331.6h0M564.8 334.8h0M565.9 333.5h0" stroke="#b8242a" stroke-width="1.4" stroke-linecap="round" fill="none"/><polygon points="653.8,338.4 654.8,337.3 655.4,336.3 655.6,335.5 655,334.8 654,334.2 652.6,333.8 651.1,333.3 649.9,332.8 649.2,332.2 649.1,331.4 649.5,330.4 650.4,329.4 651.5,328.2 652.5,327.2 653,326.2 652.9,325.4 652.3,324.8 651.1,324.2 649.6,323.8 648.2,323.3 647.1,322.8 646.5,322.1 646.6,321.3 647.2,320.3 648.2,319.2 649.3,318.1 650.1,317 650.5,316.1 645.4,317.4 646.2,318.1 647.4,318.6 648.9,319 650.3,319.5 651.3,320 651.8,320.7 651.6,321.6 650.9,322.6 649.9,323.7 648.8,324.8 648,325.8 647.8,326.7 648.1,327.5 649,328.1 650.4,328.5 651.8,329 653.1,329.5 654,330.1 654.3,330.8 654,331.7 653.2,332.8 652.1,333.9 651.1,335 650.4,336 650.3,336.8 650.8,337.5 651.9,338.1 653.3,338.5" fill="#bfe6f4" opacity="0.75"/><path d="M654.8 337.3L651.9 338.1M655.6 335.5L650.3 336.8M654 334.2L651.1 335M651.1 333.3L653.2 332.8M649.2 332.2L654.3 330.8M649.5 330.4L653.1 329.5M651.5 328.2L650.4 328.5M653 326.2L648.1 327.5M652.3 324.8L648 325.8M649.6 323.8L649.9 323.7M647.1 322.8L651.6 321.6M646.6 321.3L651.3 320M648.2 319.2L648.9 319M650.1 317L646.2 318.1" stroke="#3aa0c8" stroke-width="0.6"/><polyline points="653.8,338.4 654.8,337.3 655.4,336.3 655.6,335.5 655,334.8 654,334.2 652.6,333.8 651.1,333.3 649.9,332.8 649.2,332.2 649.1,331.4 649.5,330.4 650.4,329.4 651.5,328.2 652.5,327.2 653,326.2 652.9,325.4 652.3,324.8 651.1,324.2 649.6,323.8 648.2,323.3 647.1,322.8 646.5,322.1 646.6,321.3 647.2,320.3 648.2,319.2 649.3,318.1 650.1,317 650.5,316.1" fill="none" stroke="#29a8d8" stroke-width="1.1" stroke-linecap="round"/><polyline points="653.3,338.5 651.9,338.1 650.8,337.5 650.3,336.8 650.4,336 651.1,335 652.1,333.9 653.2,332.8 654,331.7 654.3,330.8 654,330.1 653.1,329.5 651.8,329 650.4,328.5 649,328.1 648.1,327.5 647.8,326.7 648,325.8 648.8,324.8 649.9,323.7 650.9,322.6 651.6,321.6 651.8,320.7 651.3,320 650.3,319.5 648.9,319 647.4,318.6 646.2,318.1 645.4,317.4" fill="none" stroke="#1b86b4" stroke-width="1.1" stroke-linecap="round"/><path d="M647.9 316.8 l-3 -2.5 M647.9 316.8 l2.5 -3" stroke="#29a8d8" stroke-width="1.1" fill="none" stroke-linecap="round"/><circle cx="644.8" cy="330.8" r="7" fill="#f9e9e9" stroke="#d98a8e" stroke-width="0.5"/><path d="M651.8 331.4h0M649.8 335.7h0M645.8 337.7h0M640.3 336.1h0M638.2 333.2h0M638.5 327.7h0M642.4 324.2h0M646.1 323.9h0M650.6 326.9h0M644 330h0M641.4 334h0M640.2 332.2h0M646.3 333.1h0M647.8 333.3h0M648.6 328.8h0M645.3 327.3h0M644.7 329h0M643.6 335.2h0" stroke="#b8242a" stroke-width="1.4" stroke-linecap="round" fill="none"/><polygon points="599.8,362.6 597.8,361.9 596.2,361 595.4,360 595.4,358.8 596.2,357.3 597.6,355.7 599,354.1 600.2,352.6 600.8,351.2 600.4,350 599.3,349.1 597.5,348.3 595.4,347.6 593.5,346.8 592.1,346 591.5,344.9 591.8,343.6 592.8,342.1 594.2,340.5 595.6,338.9 596.6,337.4 596.9,336 596.4,334.9 595,334.1 593.1,333.3 591.1,332.6 589.2,331.8 588,330.9 595,329.1 594.4,330.5 593.2,332 591.7,333.7 590.4,335.2 589.7,336.7 589.7,337.9 590.6,338.9 592.3,339.7 594.3,340.4 596.3,341.2 597.9,342 598.7,343 598.7,344.3 597.9,345.7 596.6,347.3 595.1,348.9 594,350.5 593.4,351.8 593.7,353 594.8,353.9 596.6,354.7 598.7,355.4 600.6,356.2 602,357 602.6,358.1 602.4,359.4 601.4,360.9 600,362.5" fill="#bfe6f4" opacity="0.75"/><path d="M597.8 361.9L601.4 360.9M595.4 360L602.6 358.1M596.2 357.3L600.6 356.2M599 354.1L596.6 354.7M600.8 351.2L593.7 353M599.3 349.1L594 350.5M595.4 347.6L596.6 347.3M592.1 346L598.7 344.3M591.8 343.6L597.9 342M594.2 340.5L594.3 340.4M596.6 337.4L590.6 338.9M596.4 334.9L589.7 336.7M593.1 333.3L591.7 333.7M589.2 331.8L594.4 330.5" stroke="#3aa0c8" stroke-width="0.6"/><polyline points="599.8,362.6 597.8,361.9 596.2,361 595.4,360 595.4,358.8 596.2,357.3 597.6,355.7 599,354.1 600.2,352.6 600.8,351.2 600.4,350 599.3,349.1 597.5,348.3 595.4,347.6 593.5,346.8 592.1,346 591.5,344.9 591.8,343.6 592.8,342.1 594.2,340.5 595.6,338.9 596.6,337.4 596.9,336 596.4,334.9 595,334.1 593.1,333.3 591.1,332.6 589.2,331.8 588,330.9" fill="none" stroke="#29a8d8" stroke-width="1.1" stroke-linecap="round"/><polyline points="600,362.5 601.4,360.9 602.4,359.4 602.6,358.1 602,357 600.6,356.2 598.7,355.4 596.6,354.7 594.8,353.9 593.7,353 593.4,351.8 594,350.5 595.1,348.9 596.6,347.3 597.9,345.7 598.7,344.3 598.7,343 597.9,342 596.3,341.2 594.3,340.4 592.3,339.7 590.6,338.9 589.7,337.9 589.7,336.7 590.4,335.2 591.7,333.7 593.2,332 594.4,330.5 595,329.1" fill="none" stroke="#1b86b4" stroke-width="1.1" stroke-linecap="round"/><path d="M591.5 330 l-3 -2.5 M591.5 330 l2.5 -3" stroke="#29a8d8" stroke-width="1.1" fill="none" stroke-linecap="round"/><circle cx="586.8" cy="351" r="10.5" fill="#f9e9e9" stroke="#d98a8e" stroke-width="0.5"/><path d="M597.1 353h0M595.2 357.3h0M593.3 359.3h0M589 361.3h0M582.8 360.7h0M579.1 358.2h0M576.8 354.3h0M576.3 350.4h0M578 345.3h0M581.3 342.1h0M585.7 340.6h0M589.5 340.8h0M594 343.4h0M596.6 347.2h0M585.4 342.7h0M592.7 349.1h0M582.7 352.5h0M588.2 351.3h0M582.2 352h0M581 356.4h0M580.6 350h0M586.9 352.3h0M585.4 353.8h0M578.4 350.5h0M585.2 347.8h0M592.7 346.4h0M586 343h0M587.4 343.6h0M581.8 357.6h0M590.1 350.2h0M587 343.9h0" stroke="#b8242a" stroke-width="2.1" stroke-linecap="round" fill="none"/><polygon points="400.9,314.4 437.4,314.4 437.4,309.8 462.5,323.1 437.4,336.6 437.4,331.9 400.9,331.9" fill="url(#gab)"/><polygon points="336.5,689.4 369.5,689.4 369.5,684.7 393.4,696.9 369.5,708.7 369.5,704.4 336.5,704.4" fill="url(#gcd)"/><polygon points="524.5,427.6 521.2,426.3 517.9,425.1 514.5,423.9 511,422.9 507.6,421.9 504.1,421 500.5,420.2 497,419.5 493.4,418.8 489.7,418.2 486.1,417.7 482.4,417.3 478.7,417 475,416.7 471.3,416.6 467.5,416.5 463.8,416.4 460.1,416.5 456.3,416.6 452.5,416.9 448.8,417.1 445,417.5 441.3,418 437.6,418.5 433.9,419.1 430.2,419.8 426.5,420.5 422.8,421.4 419.2,422.3 415.6,423.3 412,424.3 408.4,425.5 404.9,426.7 401.4,428 398,429.3 394.6,430.8 391.2,432.3 387.9,433.9 384.6,435.5 381.4,437.3 378.3,439.1 375.2,441 372.1,443 369.2,445 366.2,447.1 363.4,449.3 360.6,451.6 357.9,453.9 355.3,456.3 352.8,458.8 349.3,451 340.8,473.7 363.8,466.1 356.2,462.2 358.6,459.8 361.1,457.4 363.7,455.1 366.3,452.9 369,450.8 371.8,448.7 374.6,446.7 377.6,444.7 380.5,442.9 383.6,441.1 386.7,439.3 389.8,437.7 393,436.1 396.3,434.6 399.6,433.1 402.9,431.8 406.3,430.5 409.7,429.2 413.2,428.1 416.7,427 420.2,426 423.7,425.1 427.3,424.2 430.9,423.4 434.5,422.7 438.1,422.1 441.8,421.5 445.5,421.1 449.1,420.7 452.8,420.3 456.5,420.1 460.2,419.9 463.8,419.8 467.5,419.8 471.2,419.8 474.8,419.9 478.5,420.2 482.1,420.4 485.7,420.8 489.3,421.2 492.9,421.8 496.4,422.4 499.9,423 503.4,423.8 506.9,424.6 510.3,425.5 513.7,426.5 517,427.6 520.3,428.8 523.5,430" fill="url(#gbc)"/><polygon points="475.4,593 475.7,592.3 476,591.5 476.3,590.8 476.6,590.1 476.9,589.4 477.3,588.7 477.7,588 478,587.4 478.4,586.7 478.8,586 479.3,585.4 479.7,584.7 480.2,584.1 480.7,583.5 481.2,582.8 481.7,582.2 482.2,581.6 482.7,581 483.3,580.4 483.9,579.8 484.4,579.2 485,578.7 485.7,578.1 486.3,577.6 486.9,577 487.6,576.5 488.3,576 489,575.5 489.7,575 490.4,574.5 491.1,574 491.9,573.6 492.7,573.1 493.5,572.7 494.3,572.2 495.1,571.8 495.9,571.4 496.7,571 497.6,570.7 498.5,570.3 499.3,569.9 500.2,569.6 501.2,569.3 502.1,568.9 503,568.6 504,568.4 505,568.1 505.9,567.8 506.9,567.6 508,567.3 507.1,575.1 525.4,560.9 502.5,557.1 507,563.5 506,563.7 504.9,564 503.9,564.3 502.8,564.7 501.8,565 500.8,565.3 499.9,565.7 498.9,566.1 497.9,566.5 497,566.9 496.1,567.3 495.2,567.8 494.3,568.2 493.4,568.7 492.6,569.2 491.7,569.6 490.9,570.2 490.1,570.7 489.3,571.2 488.5,571.7 487.8,572.3 487,572.8 486.3,573.4 485.6,574 484.9,574.6 484.2,575.2 483.5,575.8 482.9,576.4 482.3,577.1 481.7,577.7 481.1,578.4 480.5,579 479.9,579.7 479.4,580.4 478.9,581.1 478.4,581.8 477.9,582.5 477.4,583.2 477,583.9 476.5,584.6 476.1,585.4 475.7,586.1 475.3,586.8 475,587.6 474.6,588.3 474.3,589.1 474,589.9 473.7,590.7 473.4,591.4 473.2,592.2" fill="url(#gml)"/><clipPath id="cc"><polygon points="94,667.6 315.3,667.6 315.3,741 214,801.5 110,802 94,790"/></clipPath><g clip-path="url(#cc)"><rect x="90" y="660" width="230" height="150" fill="#bfbfbf"/><polygon points="318,733.5 318,745 214,805 200,805" fill="#9b9b9b"/><path d="M250 597.9L275.4 590.6L275.4 596.1L250 603.4ZM271.1 589.1L275.4 588L275.4 593.5L271.1 594.6ZM220.1 585.9L223.8 587.3L223.8 592.8L220.1 591.4ZM219.2 588.4L241.2 597.5L241.2 603L219.2 593.9ZM241.2 597.5L245.9 596.1L245.9 601.6L241.2 603ZM245.9 596.1L250 597.9L250 603.4L245.9 601.6Z" fill="#d98a14"/><path d="M250 603.4 275.4 596.1 271.1 594.6 275.4 593.5 252.6 586.1 248.5 587 244.8 585.9 220.1 591.4 223.8 592.8 219.2 593.9 241.2 603 245.9 601.6ZM249.6 599.6 264.9 595.4 262.2 594.4 246.9 598.5ZM245.1 596.7 257 593.6 252 591.8 240.2 594.8ZM236.9 593.5 248.6 590.6 243.9 589 232.1 591.8ZM237.1 597.8 240.1 597 237.1 595.8 234.1 596.6ZM258.8 592.2 261.6 591.5 258.5 590.4 255.7 591.1ZM229.6 594.9 232.7 594.1 229.8 593 226.7 593.7ZM251.2 589.6 254 588.9 251 588 248.2 588.6Z" fill="#d98a14" fill-rule="evenodd"/><path d="M250 597.9 275.4 590.6 271.1 589.1 275.4 588 252.6 580.6 248.5 581.5 244.8 580.4 220.1 585.9 223.8 587.3 219.2 588.4 241.2 597.5 245.9 596.1ZM249.6 594.1 264.9 589.9 262.2 588.9 246.9 593ZM245.1 591.2 257 588.1 252 586.3 240.2 589.3ZM236.9 588 248.6 585.1 243.9 583.5 232.1 586.3ZM237.1 592.3 240.1 591.5 237.1 590.3 234.1 591.1ZM258.8 586.7 261.6 586 258.5 584.9 255.7 585.6ZM229.6 589.4 232.7 588.6 229.8 587.5 226.7 588.2ZM251.2 584.1 254 583.4 251 582.5 248.2 583.1Z" fill="#f7a51f" fill-rule="evenodd"/><path d="M203.5 611.9L232.4 603.1L232.4 608.6L203.5 617.4ZM228.3 601.2L233.2 599.8L233.2 605.3L228.3 606.7ZM174.8 597.1L178.3 598.9L178.3 604.4L174.8 602.6ZM173.1 600.2L194.2 611.5L194.2 617L173.1 605.7ZM194.2 611.5L199.5 609.8L199.5 615.3L194.2 617ZM199.5 609.8L203.5 611.9L203.5 617.4L199.5 615.3Z" fill="#d98a14"/><path d="M203.5 617.4 232.4 608.6 228.3 606.7 233.2 605.3 211.3 595.8 206.6 597 203 595.5 174.8 602.6 178.3 604.4 173.1 605.7 194.2 617 199.5 615.3ZM204 612.9 221.5 607.7 218.8 606.4 201.4 611.5ZM200 609.3 213.5 605.4 208.8 603.1 195.3 606.9ZM192.1 605.3 205.5 601.6 200.9 599.6 187.5 603.1ZM191.1 610.7 194.6 609.7 191.7 608.2 188.2 609.2ZM215.8 603.6 219.1 602.7 216.2 601.4 212.9 602.3ZM184 607 187.4 606 184.6 604.6 181.2 605.6ZM208.6 600.3 211.8 599.5 209 598.2 205.7 599.1Z" fill="#d98a14" fill-rule="evenodd"/><path d="M203.5 611.9 232.4 603.1 228.3 601.2 233.2 599.8 211.3 590.3 206.6 591.5 203 590 174.8 597.1 178.3 598.9 173.1 600.2 194.2 611.5 199.5 609.8ZM204 607.4 221.5 602.2 218.8 600.9 201.4 606ZM200 603.8 213.5 599.9 208.8 597.6 195.3 601.4ZM192.1 599.8 205.5 596.1 200.9 594.1 187.5 597.6ZM191.1 605.2 194.6 604.2 191.7 602.7 188.2 603.7ZM215.8 598.1 219.1 597.2 216.2 595.9 212.9 596.8ZM184 601.5 187.4 600.5 184.6 599.1 181.2 600.1ZM208.6 594.8 211.8 594 209 592.7 205.7 593.6Z" fill="#f7a51f" fill-rule="evenodd"/><path d="M292 616.6L318.2 607.2L318.2 612.7L292 622.1ZM313.4 605.2L317.7 603.7L317.7 609.2L313.4 610.7ZM257.1 600.9L261.4 602.8L261.4 608.3L257.1 606.4ZM256.7 604.2L282.4 616.1L282.4 621.6L256.7 609.7ZM282.4 616.1L287.2 614.4L287.2 619.9L282.4 621.6ZM287.2 614.4L292 616.6L292 622.1L287.2 619.9Z" fill="#d98a14"/><path d="M292 622.1 318.2 612.7 313.4 610.7 317.7 609.2 291.3 599.2 287 600.4 282.6 598.8 257.1 606.4 261.4 608.3 256.7 609.7 282.4 621.6 287.2 619.9ZM290.9 617.3 306.8 611.8 303.6 610.4 287.7 615.8ZM285.5 613.4 297.8 609.3 292 607 279.8 611ZM275.9 609.3 288 605.4 282.4 603.2 270.3 606.9ZM276.9 614.9 280.1 613.9 276.6 612.3 273.4 613.4ZM299.4 607.5 302.3 606.5 298.8 605.1 295.8 606.1ZM268.3 611.1 271.4 610.1 268 608.6 264.9 609.6ZM290.6 604 293.5 603.1 290 601.7 287.1 602.6Z" fill="#d98a14" fill-rule="evenodd"/><path d="M292 616.6 318.2 607.2 313.4 605.2 317.7 603.7 291.3 593.7 287 594.9 282.6 593.3 257.1 600.9 261.4 602.8 256.7 604.2 282.4 616.1 287.2 614.4ZM290.9 611.8 306.8 606.3 303.6 604.9 287.7 610.3ZM285.5 607.9 297.8 603.8 292 601.5 279.8 605.5ZM275.9 603.8 288 599.9 282.4 597.7 270.3 601.4ZM276.9 609.4 280.1 608.4 276.6 606.8 273.4 607.9ZM299.4 602 302.3 601 298.8 599.6 295.8 600.6ZM268.3 605.6 271.4 604.6 268 603.1 264.9 604.1ZM290.6 598.5 293.5 597.6 290 596.2 287.1 597.1Z" fill="#f7a51f" fill-rule="evenodd"/><path d="M151.2 628.7L183.6 618.2L183.6 623.7L151.2 634.2ZM179.7 616L185.2 614.3L185.2 619.8L179.7 621.5ZM123.6 611L126.9 613.1L126.9 618.6L123.6 616.5ZM121.1 614.8L141.4 628.1L141.4 633.6L121.1 620.3ZM141.4 628.1L147.3 626.2L147.3 631.7L141.4 633.6ZM147.3 626.2L151.2 628.7L151.2 634.2L147.3 631.7Z" fill="#d98a14"/><path d="M151.2 634.2 183.6 623.7 179.7 621.5 185.2 619.8 164.2 608.2 158.8 609.6 155.3 607.7 123.6 616.5 126.9 618.6 121.1 620.3 141.4 633.6 147.3 631.7ZM152.5 628.8 172.2 622.6 169.6 621.1 150 627.2ZM149 624.5 164.3 619.9 159.7 617.2 144.5 621.7ZM141.4 619.8 156.5 615.4 152.1 612.8 137 617.1ZM139.3 626.2 143.2 625 140.4 623.2 136.5 624.4ZM167.1 617.7 170.8 616.6 167.9 615 164.3 616.1ZM132.4 621.8 136.3 620.7 133.6 619 129.8 620.1ZM160.1 613.7 163.8 612.7 161 611.2 157.4 612.2Z" fill="#d98a14" fill-rule="evenodd"/><path d="M151.2 628.7 183.6 618.2 179.7 616 185.2 614.3 164.2 602.7 158.8 604.1 155.3 602.2 123.6 611 126.9 613.1 121.1 614.8 141.4 628.1 147.3 626.2ZM152.5 623.3 172.2 617.1 169.6 615.6 150 621.7ZM149 619 164.3 614.4 159.7 611.7 144.5 616.2ZM141.4 614.3 156.5 609.9 152.1 607.3 137 611.6ZM139.3 620.7 143.2 619.5 140.4 617.7 136.5 618.9ZM167.1 612.2 170.8 611.1 167.9 609.5 164.3 610.6ZM132.4 616.3 136.3 615.2 133.6 613.5 129.8 614.6ZM160.1 608.2 163.8 607.2 161 605.7 157.4 606.7Z" fill="#f7a51f" fill-rule="evenodd"/><path d="M244.1 634.1L273.9 623.1L273.9 628.6L244.1 639.6ZM269.2 620.8L274.2 619L274.2 624.5L269.2 626.3ZM210.4 615.6L214.5 617.8L214.5 623.3L210.4 621.1ZM209.2 619.6L234 633.5L234 639L209.2 625.1ZM234 633.5L239.5 631.5L239.5 637L234 639ZM239.5 631.5L244.1 634.1L244.1 639.6L239.5 637Z" fill="#d98a14"/><path d="M244.1 639.6 273.9 628.6 269.2 626.3 274.2 624.5 248.6 612.3 243.7 613.9 239.4 611.9 210.4 621.1 214.5 623.3 209.2 625.1 234 639 239.5 637ZM243.9 634 261.9 627.5 258.8 625.9 240.8 632.3ZM238.9 629.5 252.9 624.6 247.3 621.8 233.4 626.5ZM229.6 624.5 243.5 619.9 238.1 617.2 224.3 621.7ZM229.6 631.3 233.2 630 229.8 628.2 226.2 629.4ZM255.1 622.4 258.4 621.2 255 619.6 251.6 620.7ZM221.2 626.7 224.8 625.5 221.5 623.7 217.9 624.9ZM246.5 618.2 249.9 617.1 246.5 615.5 243.2 616.5Z" fill="#d98a14" fill-rule="evenodd"/><path d="M244.1 634.1 273.9 623.1 269.2 620.8 274.2 619 248.6 606.8 243.7 608.4 239.4 606.4 210.4 615.6 214.5 617.8 209.2 619.6 234 633.5 239.5 631.5ZM243.9 628.5 261.9 622 258.8 620.4 240.8 626.8ZM238.9 624 252.9 619.1 247.3 616.3 233.4 621ZM229.6 619 243.5 614.4 238.1 611.7 224.3 616.2ZM229.6 625.8 233.2 624.5 229.8 622.7 226.2 623.9ZM255.1 616.9 258.4 615.7 255 614.1 251.6 615.2ZM221.2 621.2 224.8 620 221.5 618.2 217.9 619.4ZM246.5 612.7 249.9 611.6 246.5 610 243.2 611Z" fill="#f7a51f" fill-rule="evenodd"/><path d="M340.2 639.8L367.2 628.3L367.2 633.8L340.2 645.3ZM361.7 625.9L366.2 624L366.2 629.5L361.7 631.4ZM300.2 620.4L305.2 622.8L305.2 628.3L300.2 625.9ZM300.3 624.6L329.8 639.2L329.8 644.7L300.3 630.1ZM329.8 639.2L334.7 637.1L334.7 642.6L329.8 644.7ZM334.7 637.1L340.2 639.8L340.2 645.3L334.7 642.6Z" fill="#d98a14"/><path d="M340.2 645.3 367.2 633.8 361.7 631.4 366.2 629.5 336.1 616.7 331.7 618.3 326.6 616.2 300.2 625.9 305.2 628.3 300.3 630.1 329.8 644.7 334.7 642.6ZM338.3 639.4 354.7 632.6 351.1 631 334.7 637.7ZM332 634.7 344.7 629.6 338.1 626.6 325.4 631.6ZM321 629.5 333.6 624.6 327.1 621.8 314.6 626.6ZM323 636.6 326.2 635.2 322.2 633.3 319 634.6ZM346.1 627.3 349.2 626.1 345.1 624.3 342.1 625.5ZM313 631.8 316.3 630.5 312.4 628.7 309.1 629.9ZM336.1 622.9 339.1 621.7 335.1 620 332.1 621.1Z" fill="#d98a14" fill-rule="evenodd"/><path d="M340.2 639.8 367.2 628.3 361.7 625.9 366.2 624 336.1 611.2 331.7 612.8 326.6 610.7 300.2 620.4 305.2 622.8 300.3 624.6 329.8 639.2 334.7 637.1ZM338.3 633.9 354.7 627.1 351.1 625.5 334.7 632.2ZM332 629.2 344.7 624.1 338.1 621.1 325.4 626.1ZM321 624 333.6 619.1 327.1 616.3 314.6 621.1ZM323 631.1 326.2 629.7 322.2 627.8 319 629.1ZM346.1 621.8 349.2 620.6 345.1 618.8 342.1 620ZM313 626.3 316.3 625 312.4 623.2 309.1 624.4ZM336.1 617.4 339.1 616.2 335.1 614.5 332.1 615.6Z" fill="#f7a51f" fill-rule="evenodd"/><path d="M93 648.2L129 636L129 641.5L93 653.7ZM125.2 633.4L131.3 631.4L131.3 636.9L125.2 638.9ZM66.6 627.6L69.8 630.1L69.8 635.6L66.6 633.1ZM63.3 632.1L82.8 647.5L82.8 653L63.3 637.6ZM82.8 647.5L89.3 645.3L89.3 650.8L82.8 653ZM89.3 645.3L93 648.2L93 653.7L89.3 650.8Z" fill="#d98a14"/><path d="M93 653.7 129 641.5 125.2 638.9 131.3 636.9 111.1 623.2 105.1 625 101.9 622.7 66.6 633.1 69.8 635.6 63.3 637.6 82.8 653 89.3 650.8ZM95.2 647.4 117.1 640.3 114.6 638.5 92.8 645.6ZM92.2 642.5 109.1 637 104.7 633.9 87.9 639.2ZM84.9 637 101.7 631.8 97.5 628.7 80.7 633.8ZM81.6 644.4 85.9 643 83.3 641 79 642.4ZM112.5 634.6 116.6 633.3 113.9 631.4 109.8 632.7ZM75.1 639.3 79.4 638 76.8 636 72.5 637.4ZM105.8 629.8 109.9 628.6 107.2 626.8 103.2 628Z" fill="#d98a14" fill-rule="evenodd"/><path d="M93 648.2 129 636 125.2 633.4 131.3 631.4 111.1 617.7 105.1 619.5 101.9 617.2 66.6 627.6 69.8 630.1 63.3 632.1 82.8 647.5 89.3 645.3ZM95.2 641.9 117.1 634.8 114.6 633 92.8 640.1ZM92.2 637 109.1 631.5 104.7 628.4 87.9 633.7ZM84.9 631.5 101.7 626.3 97.5 623.2 80.7 628.3ZM81.6 638.9 85.9 637.5 83.3 635.5 79 636.9ZM112.5 629.1 116.6 627.8 113.9 625.9 109.8 627.2ZM75.1 633.8 79.4 632.5 76.8 630.5 72.5 631.9ZM105.8 624.3 109.9 623.1 107.2 621.3 103.2 622.5Z" fill="#f7a51f" fill-rule="evenodd"/><path d="M190.3 654.4L223.7 641.8L223.7 647.3L190.3 659.9ZM219.1 639L224.7 637L224.7 642.5L219.1 644.5ZM157.8 633L161.8 635.6L161.8 641.1L157.8 638.5ZM155.8 637.6L179.8 653.7L179.8 659.2L155.8 643.1ZM179.8 653.7L185.9 651.4L185.9 656.9L179.8 659.2ZM185.9 651.4L190.3 654.4L190.3 659.9L185.9 656.9Z" fill="#d98a14"/><path d="M190.3 659.9 223.7 647.3 219.1 644.5 224.7 642.5 200 628.1 194.5 630 190.4 627.6 157.8 638.5 161.8 641.1 155.8 643.1 179.8 659.2 185.9 656.9ZM191 653.4 211.2 645.9 208.2 644.1 188.1 651.5ZM186.6 648.2 202.2 642.6 196.8 639.3 181.2 644.8ZM177.6 642.5 193.1 637.1 187.9 633.9 172.4 639.2ZM176.3 650.3 180.4 648.8 177.1 646.7 173.1 648.1ZM204.9 640 208.7 638.7 205.3 636.7 201.6 638ZM168.2 645 172.2 643.6 169.1 641.5 165.1 642.9ZM196.6 635.1 200.4 633.8 197.2 631.9 193.4 633.2Z" fill="#d98a14" fill-rule="evenodd"/><path d="M190.3 654.4 223.7 641.8 219.1 639 224.7 637 200 622.6 194.5 624.5 190.4 622.1 157.8 633 161.8 635.6 155.8 637.6 179.8 653.7 185.9 651.4ZM191 647.9 211.2 640.4 208.2 638.6 188.1 646ZM186.6 642.7 202.2 637.1 196.8 633.8 181.2 639.3ZM177.6 637 193.1 631.6 187.9 628.4 172.4 633.7ZM176.3 644.8 180.4 643.3 177.1 641.2 173.1 642.6ZM204.9 634.5 208.7 633.2 205.3 631.2 201.6 632.5ZM168.2 639.5 172.2 638.1 169.1 636 165.1 637.4ZM196.6 629.6 200.4 628.3 197.2 626.4 193.4 627.7Z" fill="#f7a51f" fill-rule="evenodd"/><path d="M290.8 660.8L321.5 647.7L321.5 653.2L290.8 666.3ZM316.1 644.9L321.2 642.7L321.2 648.2L316.1 650.4ZM252.1 638.6L256.9 641.3L256.9 646.8L252.1 644.1ZM251.4 643.4L280 660.1L280 665.6L251.4 648.9ZM280 660.1L285.6 657.8L285.6 663.3L280 665.6ZM285.6 657.8L290.8 660.8L290.8 666.3L285.6 663.3Z" fill="#d98a14"/><path d="M290.8 666.3 321.5 653.2 316.1 650.4 321.2 648.2 291.9 633.3 286.9 635.2 282 632.7 252.1 644.1 256.9 646.8 251.4 648.9 280 665.6 285.6 663.3ZM289.9 659.6 308.4 651.9 304.9 650 286.4 657.6ZM284 654.3 298.4 648.4 292 644.9 277.7 650.7ZM273.3 648.3 287.6 642.6 281.4 639.3 267.1 644.9ZM274.2 656.4 277.9 654.9 274 652.7 270.3 654.1ZM300.4 645.7 303.9 644.3 299.9 642.2 296.5 643.6ZM264.5 650.9 268.2 649.4 264.4 647.3 260.7 648.7ZM290.6 640.5 294.1 639.2 290.2 637.2 286.8 638.5Z" fill="#d98a14" fill-rule="evenodd"/><path d="M290.8 660.8 321.5 647.7 316.1 644.9 321.2 642.7 291.9 627.8 286.9 629.7 282 627.2 252.1 638.6 256.9 641.3 251.4 643.4 280 660.1 285.6 657.8ZM289.9 654.1 308.4 646.4 304.9 644.5 286.4 652.1ZM284 648.8 298.4 642.9 292 639.4 277.7 645.2ZM273.3 642.8 287.6 637.1 281.4 633.8 267.1 639.4ZM274.2 650.9 277.9 649.4 274 647.2 270.3 648.6ZM300.4 640.2 303.9 638.8 299.9 636.7 296.5 638.1ZM264.5 645.4 268.2 643.9 264.4 641.8 260.7 643.2ZM290.6 635 294.1 633.7 290.2 631.7 286.8 633Z" fill="#f7a51f" fill-rule="evenodd"/><path d="M394.4 667.5L422.4 653.9L422.4 659.4L394.4 673ZM416.2 651L420.9 648.7L420.9 654.2L416.2 656.5ZM349.5 644.4L355.1 647.3L355.1 652.8L349.5 649.9ZM350.1 649.5L383.2 666.8L383.2 672.3L350.1 655ZM383.2 666.8L388.3 664.3L388.3 669.8L383.2 672.3ZM388.3 664.3L394.4 667.5L394.4 673L388.3 669.8Z" fill="#d98a14"/><path d="M394.4 673 422.4 659.4 416.2 656.5 420.9 654.2 387 638.7 382.4 640.7 376.7 638.1 349.5 649.9 355.1 652.8 350.1 655 383.2 672.3 388.3 669.8ZM391.9 666.1 408.8 658 404.7 656 387.8 664ZM384.6 660.5 397.7 654.4 390.3 650.8 377.2 656.8ZM372.2 654.3 385.2 648.4 377.9 645 365 650.7ZM375.1 662.7 378.5 661.1 374 658.8 370.6 660.4ZM399 651.6 402.2 650.1 397.6 648 394.5 649.4ZM363.9 657 367.3 655.4 362.9 653.2 359.5 654.7ZM387.7 646.2 390.8 644.8 386.4 642.8 383.2 644.1Z" fill="#d98a14" fill-rule="evenodd"/><path d="M394.4 667.5 422.4 653.9 416.2 651 420.9 648.7 387 633.2 382.4 635.2 376.7 632.6 349.5 644.4 355.1 647.3 350.1 649.5 383.2 666.8 388.3 664.3ZM391.9 660.6 408.8 652.5 404.7 650.5 387.8 658.5ZM384.6 655 397.7 648.9 390.3 645.3 377.2 651.3ZM372.2 648.8 385.2 642.9 377.9 639.5 365 645.2ZM375.1 657.2 378.5 655.6 374 653.3 370.6 654.9ZM399 646.1 402.2 644.6 397.6 642.5 394.5 643.9ZM363.9 651.5 367.3 649.9 362.9 647.7 359.5 649.2ZM387.7 640.7 390.8 639.3 386.4 637.3 383.2 638.6Z" fill="#f7a51f" fill-rule="evenodd"/><path d="M28.9 670.3L68.5 656.5L68.5 662L28.9 675.8ZM64.9 653.6L71.6 651.3L71.6 656.8L64.9 659.1ZM3.7 646.9L6.7 649.8L6.7 655.3L3.7 652.4ZM-0.3 652L18.3 669.6L18.3 675.1L-0.3 657.5ZM18.3 669.6L25.4 667.1L25.4 672.6L18.3 675.1ZM25.4 667.1L28.9 670.3L28.9 675.8L25.4 672.6Z" fill="#d98a14"/><path d="M28.9 675.8 68.5 662 64.9 659.1 71.6 656.8 52.3 641 45.7 643 42.5 640.4 3.7 652.4 6.7 655.3 -0.3 657.5 18.3 675.1 25.4 672.6ZM32.1 668.8 56.1 660.6 53.7 658.6 29.8 666.7ZM29.5 663.1 48.1 656.9 43.9 653.3 25.4 659.4ZM22.6 656.8 41 650.8 37 647.4 18.6 653.2ZM18.1 665.4 22.9 663.8 20.3 661.4 15.6 663ZM52 654.1 56.6 652.6 54 650.4 49.4 651.9ZM11.8 659.5 16.6 658 14.1 655.8 9.4 657.3ZM45.6 648.6 50.1 647.2 47.6 645.1 43.1 646.5Z" fill="#d98a14" fill-rule="evenodd"/><path d="M28.9 670.3 68.5 656.5 64.9 653.6 71.6 651.3 52.3 635.5 45.7 637.5 42.5 634.9 3.7 646.9 6.7 649.8 -0.3 652 18.3 669.6 25.4 667.1ZM32.1 663.3 56.1 655.1 53.7 653.1 29.8 661.2ZM29.5 657.6 48.1 651.4 43.9 647.8 25.4 653.9ZM22.6 651.3 41 645.3 37 641.9 18.6 647.7ZM18.1 659.9 22.9 658.3 20.3 655.9 15.6 657.5ZM52 648.6 56.6 647.1 54 644.9 49.4 646.4ZM11.8 654 16.6 652.5 14.1 650.3 9.4 651.8ZM45.6 643.1 50.1 641.7 47.6 639.6 43.1 641Z" fill="#f7a51f" fill-rule="evenodd"/><path d="M130.7 677.3L167.6 663.1L167.6 668.6L130.7 682.8ZM163.2 660L169.4 657.6L169.4 663.1L163.2 665.5ZM99.3 653.1L103.2 656.1L103.2 661.6L99.3 658.6ZM96.6 658.4L119.7 676.5L119.7 682L96.6 663.9ZM119.7 676.5L126.4 674L126.4 679.5L119.7 682ZM126.4 674L130.7 677.3L130.7 682.8L126.4 679.5Z" fill="#d98a14"/><path d="M130.7 682.8 167.6 668.6 163.2 665.5 169.4 663.1 145.6 646.7 139.4 648.8 135.5 646.1 99.3 658.6 103.2 661.6 96.6 663.9 119.7 682 126.4 679.5ZM132.3 675.5 154.7 667.1 151.8 665 129.5 673.4ZM128.3 669.7 145.6 663.3 140.4 659.5 123.2 665.8ZM119.6 663.2 136.9 657 131.8 653.3 114.7 659.4ZM117.3 672 121.7 670.3 118.5 667.9 114.1 669.6ZM148.9 660.3 153.1 658.8 149.9 656.5 145.7 658ZM109.5 666 113.9 664.4 110.8 662 106.4 663.6ZM140.9 654.7 145.1 653.2 142 651 137.8 652.5Z" fill="#d98a14" fill-rule="evenodd"/><path d="M130.7 677.3 167.6 663.1 163.2 660 169.4 657.6 145.6 641.2 139.4 643.3 135.5 640.6 99.3 653.1 103.2 656.1 96.6 658.4 119.7 676.5 126.4 674ZM132.3 670 154.7 661.6 151.8 659.5 129.5 667.9ZM128.3 664.2 145.6 657.8 140.4 654 123.2 660.3ZM119.6 657.7 136.9 651.5 131.8 647.8 114.7 653.9ZM117.3 666.5 121.7 664.8 118.5 662.4 114.1 664.1ZM148.9 654.8 153.1 653.3 149.9 651 145.7 652.5ZM109.5 660.5 113.9 658.9 110.8 656.5 106.4 658.1ZM140.9 649.2 145.1 647.7 142 645.5 137.8 647Z" fill="#f7a51f" fill-rule="evenodd"/><path d="M235.7 684.5L269.8 669.8L269.8 675.3L235.7 690ZM264.6 666.6L270.4 664.2L270.4 669.7L264.6 672.1ZM198.1 659.5L202.7 662.6L202.7 668.1L198.1 665ZM196.6 665L224.3 683.8L224.3 689.3L196.6 670.5ZM224.3 683.8L230.5 681.1L230.5 686.6L224.3 689.3ZM230.5 681.1L235.7 684.5L235.7 690L230.5 686.6Z" fill="#d98a14"/><path d="M235.7 690 269.8 675.3 264.6 672.1 270.4 669.7 241.9 652.6 236.3 654.8 231.5 652 198.1 665 202.7 668.1 196.6 670.5 224.3 689.3 230.5 686.6ZM235.6 682.5 256.3 673.8 252.9 671.6 232.2 680.3ZM230.2 676.5 246.3 669.8 240 665.9 224 672.5ZM219.8 669.7 235.8 663.3 229.7 659.5 213.9 665.8ZM219.5 678.9 223.6 677.2 219.9 674.7 215.8 676.4ZM248.8 666.8 252.7 665.2 248.9 662.8 245 664.4ZM210.2 672.6 214.3 671 210.6 668.6 206.5 670.2ZM239.3 660.9 243.2 659.4 239.5 657.1 235.6 658.6Z" fill="#d98a14" fill-rule="evenodd"/><path d="M235.7 684.5 269.8 669.8 264.6 666.6 270.4 664.2 241.9 647.1 236.3 649.3 231.5 646.5 198.1 659.5 202.7 662.6 196.6 665 224.3 683.8 230.5 681.1ZM235.6 677 256.3 668.3 252.9 666.1 232.2 674.8ZM230.2 671 246.3 664.3 240 660.4 224 667ZM219.8 664.2 235.8 657.8 229.7 654 213.9 660.3ZM219.5 673.4 223.6 671.7 219.9 669.2 215.8 670.9ZM248.8 661.3 252.7 659.7 248.9 657.3 245 658.9ZM210.2 667.1 214.3 665.5 210.6 663.1 206.5 664.7ZM239.3 655.4 243.2 653.9 239.5 651.6 235.6 653.1Z" fill="#f7a51f" fill-rule="evenodd"/><path d="M343.7 692L375.2 676.8L375.2 682.3L343.7 697.5ZM369.1 673.5L374.4 671L374.4 676.5L369.1 679ZM299.9 666.1L305.4 669.3L305.4 674.8L299.9 671.6ZM299.7 671.8L332 691.2L332 696.7L299.7 677.3ZM332 691.2L337.8 688.5L337.8 694L332 696.7ZM337.8 688.5L343.7 692L343.7 697.5L337.8 694Z" fill="#d98a14"/><path d="M343.7 697.5 375.2 682.3 369.1 679 374.4 676.5 341.4 658.8 336.2 661.1 330.7 658.1 299.9 671.6 305.4 674.8 299.7 677.3 332 696.7 337.8 694ZM342 689.8 361.1 680.7 357.1 678.5 338.1 687.4ZM335.2 683.5 350 676.6 342.8 672.6 328 679.3ZM323.1 676.5 337.8 669.9 330.8 666 316.1 672.5ZM324.9 686 328.7 684.2 324.3 681.6 320.5 683.4ZM351.9 673.5 355.4 671.8 351 669.4 347.4 671ZM314 679.5 317.8 677.8 313.5 675.3 309.7 677ZM340.8 667.4 344.4 665.8 340 663.4 336.5 665Z" fill="#d98a14" fill-rule="evenodd"/><path d="M343.7 692 375.2 676.8 369.1 673.5 374.4 671 341.4 653.3 336.2 655.6 330.7 652.6 299.9 666.1 305.4 669.3 299.7 671.8 332 691.2 337.8 688.5ZM342 684.3 361.1 675.2 357.1 673 338.1 681.9ZM335.2 678 350 671.1 342.8 667.1 328 673.8ZM323.1 671 337.8 664.4 330.8 660.5 316.1 667ZM324.9 680.5 328.7 678.7 324.3 676.1 320.5 677.9ZM351.9 668 355.4 666.3 351 663.9 347.4 665.5ZM314 674 317.8 672.3 313.5 669.8 309.7 671.5ZM340.8 661.9 344.4 660.3 340 657.9 336.5 659.5Z" fill="#f7a51f" fill-rule="evenodd"/><path d="M65.3 702.9L105.7 687.1L105.7 692.6L65.3 708.4ZM101.4 683.6L108.3 680.9L108.3 686.4L101.4 689.1ZM35 675.8L38.7 679.2L38.7 684.7L35 681.3ZM31.5 681.8L53.8 702.1L53.8 707.6L31.5 687.3ZM53.8 702.1L61.1 699.2L61.1 704.7L53.8 707.6ZM61.1 699.2L65.3 702.9L65.3 708.4L61.1 704.7Z" fill="#d98a14"/><path d="M65.3 708.4 105.7 692.6 101.4 689.1 108.3 686.4 85.3 667.9 78.5 670.3 74.7 667.2 35 681.3 38.7 684.7 31.5 687.3 53.8 707.6 61.1 704.7ZM67.8 700.3 92.3 690.9 89.5 688.6 65 697.9ZM64.2 693.8 83.2 686.6 78.2 682.4 59.3 689.5ZM55.9 686.5 74.8 679.5 69.9 675.4 51.1 682.3ZM52.3 696.4 57.2 694.6 54.2 691.9 49.3 693.7ZM87 683.3 91.6 681.6 88.5 679 83.9 680.7ZM44.8 689.7 49.7 687.9 46.7 685.3 41.9 687ZM79.3 676.9 84 675.3 80.9 672.8 76.3 674.5Z" fill="#d98a14" fill-rule="evenodd"/><path d="M65.3 702.9 105.7 687.1 101.4 683.6 108.3 680.9 85.3 662.4 78.5 664.8 74.7 661.7 35 675.8 38.7 679.2 31.5 681.8 53.8 702.1 61.1 699.2ZM67.8 694.8 92.3 685.4 89.5 683.1 65 692.4ZM64.2 688.3 83.2 681.1 78.2 676.9 59.3 684ZM55.9 681 74.8 674 69.9 669.9 51.1 676.8ZM52.3 690.9 57.2 689.1 54.2 686.4 49.3 688.2ZM87 677.8 91.6 676.1 88.5 673.5 83.9 675.2ZM44.8 684.2 49.7 682.4 46.7 679.8 41.9 681.5ZM79.3 671.4 84 669.8 80.9 667.3 76.3 669Z" fill="#f7a51f" fill-rule="evenodd"/><path d="M174.6 711L212.4 694.6L212.4 700.1L174.6 716.5ZM207.3 691L213.7 688.3L213.7 693.8L207.3 696.5ZM138.2 683L142.7 686.5L142.7 692L138.2 688.5ZM136 689.2L162.8 710.1L162.8 715.6L136 694.7ZM162.8 710.1L169.7 707.2L169.7 712.7L162.8 715.6ZM169.7 707.2L174.6 711L174.6 716.5L169.7 712.7Z" fill="#d98a14"/><path d="M174.6 716.5 212.4 700.1 207.3 696.5 213.7 693.8 186.1 674.6 179.8 677.1 175.2 673.9 138.2 688.5 142.7 692 136 694.7 162.8 715.6 169.7 712.7ZM175.5 708.1 198.4 698.4 195 696 172.2 705.6ZM170.6 701.4 188.3 694 182.3 689.6 164.6 696.9ZM160.5 693.9 178.1 686.7 172.3 682.4 154.7 689.5ZM159 704.1 163.6 702.2 159.9 699.4 155.4 701.3ZM191.4 690.6 195.7 688.8 192 686.1 187.7 687.9ZM150 697.1 154.5 695.3 150.9 692.6 146.4 694.4ZM182.2 684 186.5 682.2 182.8 679.7 178.6 681.4Z" fill="#d98a14" fill-rule="evenodd"/><path d="M174.6 711 212.4 694.6 207.3 691 213.7 688.3 186.1 669.1 179.8 671.6 175.2 668.4 138.2 683 142.7 686.5 136 689.2 162.8 710.1 169.7 707.2ZM175.5 702.6 198.4 692.9 195 690.5 172.2 700.1ZM170.6 695.9 188.3 688.5 182.3 684.1 164.6 691.4ZM160.5 688.4 178.1 681.2 172.3 676.9 154.7 684ZM159 698.6 163.6 696.7 159.9 693.9 155.4 695.8ZM191.4 685.1 195.7 683.3 192 680.6 187.7 682.4ZM150 691.6 154.5 689.8 150.9 687.1 146.4 688.9ZM182.2 678.5 186.5 676.7 182.8 674.2 178.6 675.9Z" fill="#f7a51f" fill-rule="evenodd"/><path d="M287.1 719.2L322.1 702.4L322.1 707.9L287.1 724.7ZM316.3 698.7L322.2 695.9L322.2 701.4L316.3 704.2ZM244.5 690.4L249.8 694L249.8 699.5L244.5 695.9ZM243.5 696.8L275 718.3L275 723.8L243.5 702.3ZM275 718.3L281.3 715.3L281.3 720.8L275 723.8ZM281.3 715.3L287.1 719.2L287.1 724.7L281.3 720.8Z" fill="#d98a14"/><path d="M287.1 724.7 322.1 707.9 316.3 704.2 322.2 701.4 290 681.6 284.2 684.2 278.8 680.9 244.5 695.9 249.8 699.5 243.5 702.3 275 723.8 281.3 720.8ZM286.3 716.1 307.6 706.1 303.7 703.6 282.5 713.6ZM280 709.2 296.4 701.6 289.4 697.1 273 704.6ZM268.2 701.4 284.6 694 277.7 689.7 261.4 697ZM268.8 711.9 273.1 710 268.8 707.1 264.6 709.1ZM298.9 698 302.9 696.2 298.5 693.5 294.5 695.3ZM258.2 704.8 262.4 702.9 258.2 700.1 254.1 702ZM288.1 691.3 292.1 689.5 287.8 686.8 283.9 688.6Z" fill="#d98a14" fill-rule="evenodd"/><path d="M287.1 719.2 322.1 702.4 316.3 698.7 322.2 695.9 290 676.1 284.2 678.7 278.8 675.4 244.5 690.4 249.8 694 243.5 696.8 275 718.3 281.3 715.3ZM286.3 710.6 307.6 700.6 303.7 698.1 282.5 708.1ZM280 703.7 296.4 696.1 289.4 691.6 273 699.1ZM268.2 695.9 284.6 688.5 277.7 684.2 261.4 691.5ZM268.8 706.4 273.1 704.5 268.8 701.6 264.6 703.6ZM298.9 692.5 302.9 690.7 298.5 688 294.5 689.8ZM258.2 699.3 262.4 697.4 258.2 694.6 254.1 696.5ZM288.1 685.8 292.1 684 287.8 681.3 283.9 683.1Z" fill="#f7a51f" fill-rule="evenodd"/><path d="M107.8 740.1L149.1 722.1L149.1 727.6L107.8 745.6ZM144.1 718.1L151.2 715.1L151.2 720.6L144.1 723.6ZM72.5 709.3L76.8 713.1L76.8 718.6L72.5 714.8ZM69.5 716.1L95.5 739.1L95.5 744.6L69.5 721.6ZM95.5 739.1L103 735.9L103 741.4L95.5 744.6ZM103 735.9L107.8 740.1L107.8 745.6L103 741.4Z" fill="#d98a14"/><path d="M107.8 745.6 149.1 727.6 144.1 723.6 151.2 720.6 124.4 699.3 117.5 702.1 113.1 698.5 72.5 714.8 76.8 718.6 69.5 721.6 95.5 744.6 103 741.4ZM109.5 736.4 134.6 725.7 131.3 723 106.3 733.7ZM105.1 729 124.5 720.8 118.6 716 99.3 724.1ZM95.3 720.7 114.6 712.7 109 708 89.7 715.9ZM92.7 731.9 97.7 729.8 94.1 726.8 89.2 728.9ZM128.1 717 132.8 715 129.2 712.1 124.5 714.1ZM83.9 724.3 88.9 722.2 85.4 719.3 80.5 721.3ZM119.2 709.7 123.9 707.8 120.4 705 115.7 706.9Z" fill="#d98a14" fill-rule="evenodd"/><path d="M107.8 740.1 149.1 722.1 144.1 718.1 151.2 715.1 124.4 693.8 117.5 696.6 113.1 693 72.5 709.3 76.8 713.1 69.5 716.1 95.5 739.1 103 735.9ZM109.5 730.9 134.6 720.2 131.3 717.5 106.3 728.2ZM105.1 723.5 124.5 715.3 118.6 710.5 99.3 718.6ZM95.3 715.2 114.6 707.2 109 702.5 89.7 710.4ZM92.7 726.4 97.7 724.3 94.1 721.3 89.2 723.4ZM128.1 711.5 132.8 709.5 129.2 706.6 124.5 708.6ZM83.9 718.8 88.9 716.7 85.4 713.8 80.5 715.8ZM119.2 704.2 123.9 702.3 120.4 699.5 115.7 701.4Z" fill="#f7a51f" fill-rule="evenodd"/><path d="M224.7 749.1L263.2 730.6L263.2 735.6L224.7 754.1ZM257.5 726.6L264.1 723.5L264.1 728.5L257.5 731.6ZM183.2 717.5L188.4 721.4L188.4 726.4L183.2 722.5ZM181.5 724.5L212.1 748.1L212.1 753.1L181.5 729.5ZM212.1 748.1L219 744.8L219 749.8L212.1 753.1ZM219 744.8L224.7 749.1L224.7 754.1L219 749.8Z" fill="#d9600f"/><path d="M224.7 754.1 263.2 735.6 257.5 731.6 264.1 728.5 232.8 706.6 226.3 709.5 221.1 705.8 183.2 722.5 188.4 726.4 181.5 729.5 212.1 753.1 219 749.8Z" fill="#d9600f" fill-rule="evenodd"/><path d="M224.7 749.1 263.2 730.6 257.5 726.6 264.1 723.5 232.8 701.6 226.3 704.5 221.1 700.8 183.2 717.5 188.4 721.4 181.5 724.5 212.1 748.1 219 744.8Z" fill="#f4791f" fill-rule="evenodd"/><path d="M156.4 781.7L198.5 761.6L198.5 767.1L156.4 787.2ZM193 757.2L200.1 753.8L200.1 759.3L193 762.7ZM116.1 747.2L121.1 751.5L121.1 757L116.1 752.7ZM113.6 754.9L143.3 780.6L143.3 786.1L113.6 760.4ZM143.3 780.6L150.9 777L150.9 782.5L143.3 786.1ZM150.9 777L156.4 781.7L156.4 787.2L150.9 782.5Z" fill="#d98a14"/><path d="M156.4 787.2 198.5 767.1 193 762.7 200.1 759.3 169.7 735.3 162.6 738.4 157.5 734.4 116.1 752.7 121.1 757 113.6 760.4 143.3 786.1 150.9 782.5ZM157.4 777 183 765 179.3 762 153.8 773.9ZM152 768.7 171.8 759.5 165.2 754.1 145.4 763.1ZM140.9 759.4 160.6 750.4 154.1 745.1 134.5 753.9ZM139.2 772 144.2 769.6 140.2 766.2 135.1 768.5ZM175.3 755.2 180.2 753 176.1 749.7 171.2 751.9ZM129.2 763.4 134.2 761.1 130.2 757.8 125.2 760ZM165.2 747 170 744.9 166 741.7 161.2 743.8Z" fill="#d98a14" fill-rule="evenodd"/><path d="M156.4 781.7 198.5 761.6 193 757.2 200.1 753.8 169.7 729.8 162.6 732.9 157.5 728.9 116.1 747.2 121.1 751.5 113.6 754.9 143.3 780.6 150.9 777ZM157.4 771.5 183 759.5 179.3 756.5 153.8 768.4ZM152 763.2 171.8 754 165.2 748.6 145.4 757.6ZM140.9 753.9 160.6 744.9 154.1 739.6 134.5 748.4ZM139.2 766.5 144.2 764.1 140.2 760.7 135.1 763ZM175.3 749.7 180.2 747.5 176.1 744.2 171.2 746.4ZM129.2 757.9 134.2 755.6 130.2 752.3 125.2 754.5ZM165.2 741.5 170 739.4 166 736.2 161.2 738.3Z" fill="#f7a51f" fill-rule="evenodd"/></g><ellipse cx="221" cy="721" rx="50" ry="34" fill="url(#glow)"/><polygon points="93.8,547 57,581.5 216,703 224,697" fill="url(#beam)"/><polyline points="241.9,662.1 242.8,661.4 243.7,660.7 244.5,660 245.2,659.2 245.8,658.4 246.3,657.5 246.7,656.6 247.1,655.6 247.4,654.6 247.5,653.5 247.6,652.4 247.7,651.3 247.7,650.1 247.7,648.9 247.6,647.7 247.6,646.5 247.5,645.3 247.5,644.1 247.5,643 247.6,641.8 247.8,640.8 248,639.7 248.3,638.7 248.7,637.8 249.2,636.9 249.8,636 250.5,635.3 251.2,634.5 252.1,633.8 253,633.1 254,632.5 255,631.9 256,631.3 257.1,630.7 258.1,630.2 259.2,629.6 260.2,629 261.1,628.3 262,627.7 262.8,627 263.6,626.2 264.3,625.4 264.8,624.6 265.3,623.7 265.7,622.7 266,621.7 266.2,620.7 266.4,619.6 266.4,618.4 266.5,617.3 266.5,616.1 266.4,614.9 266.4,613.7 266.3,612.5 266.3,611.3 266.3,610.1 266.3,609 266.5,607.9 266.7,606.8 266.9,605.8 267.3,604.8 267.7,603.9 268.3,603.1 268.9,602.2 269.6,601.5 270.4,600.8 271.3,600.1 272.3,599.4 273.2,598.8 274.3,598.2 275.3,597.6 276.4,597.1 277.4,596.5 278.4,595.9 279.4,595.3 280.4,594.6 281.2,593.9 282,593.2 282.7,592.4 283.3,591.6 283.9,590.7 284.3,589.8 284.6,588.8 284.9,587.8 285.1,586.7 285.2,585.6 285.2,584.5 285.2,583.3 285.2,582.1 285.2,580.9 285.1,579.7 285.1,578.5 285.1,577.3 285.1,576.2 285.2,575.1 285.3,574 285.6,572.9 285.9,571.9 286.3,571 286.8,570.1 287.4,569.3 288,568.5 288.8,567.7 289.6,567 290.6,566.4 291.5,565.7 292.5,565.1 293.6,564.5 294.6,564 295.7,563.4 296.7,562.8 297.6,562.1 298.3,561.4 298.9,560.5 299.3,559.5 299.5,558.5 299.7,557.5 299.9,556.4 300,555.3 300.1,554.1" fill="none" stroke="url(#w1)" stroke-width="2.8" stroke-linecap="round"/><polygon points="304.5,546.3 303.8,560.2 293,554.2" fill="#d4237a"/><polyline points="261.3,677.1 262.2,676.4 263.1,675.7 263.9,675 264.6,674.2 265.2,673.4 265.7,672.5 266.2,671.6 266.5,670.6 266.8,669.6 267,668.5 267.1,667.4 267.2,666.2 267.2,665.1 267.1,663.9 267.1,662.7 267.1,661.4 267,660.3 267,659.1 267.1,657.9 267.2,656.8 267.3,655.7 267.5,654.6 267.9,653.6 268.3,652.7 268.8,651.8 269.4,651 270.1,650.2 270.8,649.4 271.7,648.7 272.6,648.1 273.6,647.4 274.6,646.8 275.6,646.2 276.7,645.7 277.7,645.1 278.8,644.5 279.8,643.9 280.8,643.2 281.7,642.6 282.5,641.9 283.3,641.1 283.9,640.3 284.5,639.5 285,638.6 285.4,637.6 285.7,636.6 285.9,635.5 286.1,634.5 286.2,633.3 286.2,632.2 286.2,631 286.1,629.8 286.1,628.6 286.1,627.4 286,626.2 286,625 286.1,623.8 286.2,622.7 286.4,621.7 286.7,620.6 287.1,619.7 287.5,618.8 288.1,617.9 288.7,617.1 289.5,616.3 290.3,615.6 291.1,614.9 292.1,614.3 293.1,613.6 294.1,613 295.2,612.5 296.2,611.9 297.3,611.3 298.3,610.7 299.3,610.1 300.2,609.4 301.1,608.7 301.9,608 302.6,607.2 303.2,606.4 303.8,605.5 304.2,604.6 304.6,603.6 304.8,602.6 305,601.5 305.1,600.4 305.2,599.2 305.2,598.1 305.2,596.9 305.1,595.7 305.1,594.5 305.1,593.3 305.1,592.1 305.1,590.9 305.2,589.8 305.3,588.7 305.6,587.7 305.9,586.7 306.3,585.7 306.8,584.8 307.4,584 308.1,583.2 308.9,582.4 309.7,581.7 310.6,581.1 311.6,580.4 312.6,579.8 313.7,579.3 314.7,578.7 315.8,578.1 316.8,577.5 317.8,576.9 318.4,576.1 319,575.2 319.4,574.2 319.7,573.2 319.9,572.2 320,571.1 320.1,569.9 320.3,568.8" fill="none" stroke="url(#w2)" stroke-width="2.8" stroke-linecap="round"/><polygon points="324.7,561 323.9,574.9 313.1,568.8" fill="#d4237a"/><polyline points="282.8,690.1 283.7,689.5 284.6,688.8 285.4,688.1 286.1,687.3 286.7,686.5 287.2,685.7 287.7,684.8 288,683.8 288.3,682.8 288.5,681.7 288.6,680.6 288.6,679.5 288.7,678.3 288.6,677.2 288.6,676 288.5,674.8 288.5,673.6 288.5,672.4 288.6,671.3 288.7,670.2 288.8,669.1 289.1,668.1 289.4,667.1 289.8,666.2 290.3,665.3 290.9,664.5 291.6,663.7 292.3,663 293.2,662.3 294.1,661.7 295.1,661.1 296.1,660.5 297.1,659.9 298.2,659.4 299.2,658.8 300.3,658.2 301.3,657.7 302.2,657 303.1,656.4 304,655.7 304.7,655 305.4,654.2 306,653.4 306.5,652.5 306.8,651.6 307.2,650.6 307.4,649.5 307.5,648.5 307.6,647.3 307.6,646.2 307.6,645 307.6,643.8 307.6,642.6 307.5,641.5 307.5,640.3 307.5,639.1 307.6,638 307.7,636.9 307.9,635.8 308.2,634.8 308.6,633.9 309,633 309.6,632.1 310.2,631.3 310.9,630.6 311.7,629.9 312.6,629.2 313.6,628.6 314.6,628 315.6,627.5 316.6,626.9 317.7,626.4 318.7,625.8 319.8,625.2 320.7,624.6 321.7,624 322.5,623.3 323.3,622.6 324.1,621.9 324.7,621.1 325.2,620.2 325.7,619.3 326,618.4 326.3,617.3 326.5,616.3 326.6,615.2 326.6,614 326.6,612.9 326.6,611.7 326.6,610.5 326.5,609.3 326.5,608.1 326.5,607 326.5,605.8 326.6,604.7 326.8,603.6 327,602.6 327.4,601.6 327.8,600.7 328.3,599.8 328.9,599 329.6,598.2 330.3,597.5 331.2,596.8 332.1,596.2 333,595.6 334.1,595 335.1,594.5 336.2,593.9 337.2,593.4 338.2,592.8 339.2,592.2 339.9,591.4 340.4,590.5 340.8,589.6 341.1,588.6 341.3,587.6 341.5,586.5 341.6,585.4 341.7,584.3" fill="none" stroke="url(#w3)" stroke-width="2.8" stroke-linecap="round"/><polygon points="346.2,576.5 345.3,590.4 334.6,584.2" fill="#d4237a"/><polygon points="220,711 220.9,710 221.7,709 222,708 221.8,707.2 221.2,706.5 220.1,705.9 218.9,705.2 217.6,704.6 216.6,704 215.9,703.3 215.7,702.5 216.1,701.5 216.8,700.5 217.8,699.5 218.7,698.5 219.4,697.5 219.8,696.5 219.6,695.7 218.9,695 217.9,694.4 216.6,693.8 215.4,693.1 214.3,692.5 213.7,691.8 213.5,691 213.8,690 214.6,689 215.5,688 215.5,688 216.8,688.6 217.8,689.3 218.5,690 218.6,690.8 218.3,691.7 217.6,692.7 216.6,693.8 215.7,694.8 215,695.8 214.6,696.7 214.8,697.5 215.4,698.2 216.5,698.9 217.8,699.5 219,700.1 220.1,700.8 220.7,701.5 220.9,702.3 220.5,703.2 219.8,704.2 218.9,705.2 217.9,706.3 217.2,707.3 216.9,708.2 217,709 217.7,709.7 218.7,710.4 220,711" fill="#f4b6b0" opacity="0.75"/><path d="M220.9 710L218.7 710.4M222 708L217 709M221.2 706.5L217.2 707.3M218.9 705.2L218.9 705.2M216.6 704L220.5 703.2M215.7 702.5L220.7 701.5M216.8 700.5L219 700.1M218.7 698.5L216.5 698.9M219.8 696.5L214.8 697.5M218.9 695L215 695.8M216.6 693.8L216.6 693.8M214.3 692.5L218.3 691.7M213.5 691L218.5 690M214.6 689L216.8 688.6" stroke="#8a1a10" stroke-width="0.6"/><polyline points="220,711 220.9,710 221.7,709 222,708 221.8,707.2 221.2,706.5 220.1,705.9 218.9,705.2 217.6,704.6 216.6,704 215.9,703.3 215.7,702.5 216.1,701.5 216.8,700.5 217.8,699.5 218.7,698.5 219.4,697.5 219.8,696.5 219.6,695.7 218.9,695 217.9,694.4 216.6,693.8 215.4,693.1 214.3,692.5 213.7,691.8 213.5,691 213.8,690 214.6,689 215.5,688" fill="none" stroke="#c4161c" stroke-width="1.0" stroke-linecap="round"/><polyline points="220,711 218.7,710.4 217.7,709.7 217,709 216.9,708.2 217.2,707.3 217.9,706.3 218.9,705.2 219.8,704.2 220.5,703.2 220.9,702.3 220.7,701.5 220.1,700.8 219,700.1 217.8,699.5 216.5,698.9 215.4,698.2 214.8,697.5 214.6,696.7 215,695.8 215.7,694.8 216.6,693.8 217.6,692.7 218.3,691.7 218.6,690.8 218.5,690 217.8,689.3 216.8,688.6 215.5,688" fill="none" stroke="#5a1208" stroke-width="1.0" stroke-linecap="round"/><path d="M215.5 688 l-3 -2.5 M215.5 688 l2.5 -3" stroke="#c4161c" stroke-width="1.0" fill="none" stroke-linecap="round"/><polygon points="239,690 239.7,688.8 240.2,687.6 240.4,686.6 240.1,685.7 239.4,685 238.3,684.3 237,683.8 235.7,683.2 234.6,682.5 233.9,681.8 233.6,680.9 233.8,679.9 234.3,678.7 235,677.5 235.7,676.3 236.2,675.1 236.4,674.1 236.1,673.2 235.4,672.5 234.3,671.8 233,671.2 231.7,670.7 230.6,670 229.9,669.3 229.6,668.4 229.8,667.4 230.3,666.2 231,665 231,665 232.3,665.6 233.4,666.2 234.1,667 234.4,667.9 234.2,668.9 233.7,670 233,671.2 232.3,672.5 231.8,673.6 231.6,674.6 231.9,675.5 232.6,676.3 233.7,676.9 235,677.5 236.3,678.1 237.4,678.7 238.1,679.5 238.4,680.4 238.2,681.4 237.7,682.5 237,683.8 236.3,685 235.8,686.1 235.6,687.1 235.9,688 236.6,688.8 237.7,689.4 239,690" fill="#bfe6f4" opacity="0.75"/><path d="M239.7 688.8L237.7 689.4M240.4 686.6L235.9 688M239.4 685L235.8 686.1M237 683.8L237 683.8M234.6 682.5L238.2 681.4M233.6 680.9L238.1 679.5M234.3 678.7L236.3 678.1M235.7 676.3L233.7 676.9M236.4 674.1L231.9 675.5M235.4 672.5L231.8 673.6M233 671.2L233 671.2M230.6 670L234.2 668.9M229.6 668.4L234.1 667M230.3 666.2L232.3 665.6" stroke="#3aa0c8" stroke-width="0.6"/><polyline points="239,690 239.7,688.8 240.2,687.6 240.4,686.6 240.1,685.7 239.4,685 238.3,684.3 237,683.8 235.7,683.2 234.6,682.5 233.9,681.8 233.6,680.9 233.8,679.9 234.3,678.7 235,677.5 235.7,676.3 236.2,675.1 236.4,674.1 236.1,673.2 235.4,672.5 234.3,671.8 233,671.2 231.7,670.7 230.6,670 229.9,669.3 229.6,668.4 229.8,667.4 230.3,666.2 231,665" fill="none" stroke="#2bb0c8" stroke-width="0.9" stroke-linecap="round"/><polyline points="239,690 237.7,689.4 236.6,688.8 235.9,688 235.6,687.1 235.8,686.1 236.3,685 237,683.8 237.7,682.5 238.2,681.4 238.4,680.4 238.1,679.5 237.4,678.7 236.3,678.1 235,677.5 233.7,676.9 232.6,676.3 231.9,675.5 231.6,674.6 231.8,673.6 232.3,672.5 233,671.2 233.7,670 234.2,668.9 234.4,667.9 234.1,667 233.4,666.2 232.3,665.6 231,665" fill="none" stroke="#1f8fa8" stroke-width="0.9" stroke-linecap="round"/><path d="M231 665 l-3 -2.5 M231 665 l2.5 -3" stroke="#2bb0c8" stroke-width="0.9" fill="none" stroke-linecap="round"/><circle cx="222" cy="687.3" r="9.3" fill="#f9e9e9" stroke="#d98a8e" stroke-width="0.5"/><path d="M231.3 688.2h0M229.7 692.5h0M226.4 695.5h0M220.4 696.5h0M217.3 695.3h0M213.5 691.1h0M212.8 685.6h0M214 682.5h0M218.3 678.8h0M223.1 678.1h0M226.7 679.3h0M230.4 683.3h0M220.6 682.5h0M221.5 684.4h0M222.2 689.8h0M214.9 687h0M216.5 683.8h0M217.2 691.6h0M225.2 689.7h0M219.1 681.7h0M220.1 688.3h0M221.6 690.7h0M220.7 693.9h0M224.2 694h0M223.3 686.1h0M218.2 690.9h0" stroke="#b8242a" stroke-width="1.9" stroke-linecap="round" fill="none"/><path d="M573.6 541.5 C568 539.5 562 540.5 559 544.5 C553 544 549 548.5 550.5 553.5 C545.5 555.5 543.5 561 546.5 565.5 C543.5 570 545 576 550 578 C548 583.5 551.5 589 557 589.5 C558.5 595.5 564.5 598.5 569 596.5 C570.5 600 573 601 573.6 601 Z" fill="#d62222" stroke="#a01616" stroke-width="1.3" stroke-linejoin="round"/><path d="M560 545 c3 3 7 2 8 6 M552 554 c4 -1 7 1 9 4 c3 -1 5 0 6 3 M548 566 c4 1 7 -1 9 2 c2 3 6 2 8 5 M551 578 c3 -3 7 -2 9 1 M558 589 c1 -4 5 -6 9 -4 M566 570 c2 3 1 6 -2 8" stroke="#8f1212" stroke-width="1.5" fill="none" stroke-linecap="round"/><path d="M574 553 h5 M574 560 h8 l3 2 h6 M574 567 h6 M574 575 h4 M594 573 h10 M574 585.5 h22 M574 591.5 h10 M574 581 h8" stroke="#7a3a3a" stroke-width="0.8" fill="none"/><polygon points="586.4,552.3 587.6,552.8 587.3,554.1 586,554.1 585.1,555.4 585.6,556.6 584.5,557.3 583.5,556.4 582,556.7 581.5,557.9 580.2,557.6 580.2,556.3 578.9,555.4 577.7,555.9 577,554.8 577.9,553.8 577.6,552.3 576.4,551.8 576.7,550.5 578,550.5 578.9,549.2 578.4,548 579.5,547.3 580.5,548.2 582,547.9 582.5,546.7 583.8,547 583.8,548.3 585.1,549.2 586.3,548.7 587,549.8 586.1,550.8" fill="#d01f1f" stroke="#9b1515" stroke-width="0.7" stroke-linejoin="round"/><circle cx="582" cy="552.3" r="1.8" fill="#fff" stroke="#9b1515" stroke-width="0.6"/><polygon points="603.3,557.7 604.9,558.3 604.6,559.8 602.9,559.8 601.9,561.4 602.8,562.9 601.6,563.9 600.2,562.8 598.5,563.4 598.2,565.1 596.6,565 596.3,563.4 594.6,562.7 593.3,563.8 592.1,562.8 593,561.3 592.1,559.7 590.4,559.6 590.1,558.1 591.7,557.5 592.1,555.7 590.8,554.6 591.6,553.3 593.2,553.9 594.6,552.7 594.3,551 595.8,550.5 596.7,552 598.5,552 599.4,550.5 600.8,551.1 600.5,552.8 601.9,554 603.5,553.4 604.3,554.8 603,555.9" fill="#d01f1f" stroke="#9b1515" stroke-width="0.7" stroke-linejoin="round"/><circle cx="597.5" cy="557.7" r="2.4" fill="#fff" stroke="#9b1515" stroke-width="0.6"/><polygon points="613.3,569 614.5,569.5 614.2,570.8 612.9,570.8 612,572.1 612.5,573.3 611.4,574 610.4,573.1 608.9,573.4 608.4,574.6 607.1,574.3 607.1,573 605.8,572.1 604.6,572.6 603.9,571.5 604.8,570.5 604.5,569 603.3,568.5 603.6,567.2 604.9,567.2 605.8,565.9 605.3,564.7 606.4,564 607.4,564.9 608.9,564.6 609.4,563.4 610.7,563.7 610.7,565 612,565.9 613.2,565.4 613.9,566.5 613,567.5" fill="#d01f1f" stroke="#9b1515" stroke-width="0.7" stroke-linejoin="round"/><circle cx="608.9" cy="569" r="1.8" fill="#fff" stroke="#9b1515" stroke-width="0.6"/><polygon points="593.2,573.8 595.4,574.5 595.1,576.4 592.8,576.3 591.8,578.3 593.1,580.1 591.8,581.4 589.9,580.1 588,581.1 587.9,583.3 586.1,583.6 585.4,581.4 583.2,581.1 581.9,582.9 580.2,582 581,579.9 579.4,578.3 577.3,578.9 576.4,577.3 578.3,576 578,573.8 575.8,573.1 576.1,571.2 578.4,571.3 579.4,569.3 578.1,567.5 579.4,566.2 581.3,567.5 583.2,566.5 583.3,564.3 585.1,564 585.8,566.2 588,566.5 589.3,564.7 591,565.6 590.2,567.7 591.8,569.3 593.9,568.7 594.8,570.3 592.9,571.6" fill="#d01f1f" stroke="#9b1515" stroke-width="0.7" stroke-linejoin="round"/><circle cx="585.6" cy="573.8" r="2.9" fill="#fff" stroke="#9b1515" stroke-width="0.6"/><polygon points="608.7,583.4 610.3,584 610,585.5 608.3,585.5 607.3,587.1 608.2,588.6 607,589.6 605.6,588.5 603.9,589.1 603.6,590.8 602,590.7 601.7,589.1 600,588.4 598.7,589.5 597.5,588.5 598.4,587 597.5,585.4 595.8,585.3 595.5,583.8 597.1,583.2 597.5,581.4 596.2,580.3 597,579 598.6,579.6 600,578.4 599.7,576.7 601.2,576.2 602.1,577.7 603.9,577.7 604.8,576.2 606.2,576.8 605.9,578.5 607.3,579.7 608.9,579.1 609.7,580.5 608.4,581.6" fill="#d01f1f" stroke="#9b1515" stroke-width="0.7" stroke-linejoin="round"/><circle cx="602.9" cy="583.4" r="2.4" fill="#fff" stroke="#9b1515" stroke-width="0.6"/><polygon points="592.1,590.6 593.1,591.1 592.8,592.3 591.7,592.3 590.7,593.4 591,594.5 589.8,595 589.2,594.1 587.7,594.1 587,594.9 585.9,594.4 586.2,593.3 585.3,592.2 584.2,592.1 583.9,590.9 584.9,590.5 585.3,589 584.6,588.2 585.4,587.2 586.4,587.7 587.7,587.1 588,586 589.2,586.1 589.4,587.1 590.7,587.8 591.7,587.3 592.5,588.3 591.8,589.2" fill="#d01f1f" stroke="#9b1515" stroke-width="0.7" stroke-linejoin="round"/><circle cx="588.5" cy="590.6" r="1.5" fill="#fff" stroke="#9b1515" stroke-width="0.6"/><rect x="444.2" y="608.4" width="354.1" height="162.6" fill="#fff" stroke="#bcbcbc" stroke-width="1"/><text x="444.2" y="787.3" font-size="11.1" text-anchor="middle" fill="#3a3a3a">600</text><text x="506.5" y="787.3" font-size="11.1" text-anchor="middle" fill="#3a3a3a">800</text><text x="568.9" y="787.3" font-size="11.1" text-anchor="middle" fill="#3a3a3a">1000</text><text x="631.2" y="787.3" font-size="11.1" text-anchor="middle" fill="#3a3a3a">1200</text><text x="693.6" y="787.3" font-size="11.1" text-anchor="middle" fill="#3a3a3a">1400</text><text x="755.9" y="787.3" font-size="11.1" text-anchor="middle" fill="#3a3a3a">1600</text><text x="440.6" y="767.8" font-size="11.1" text-anchor="end" fill="#3a3a3a">600</text><text x="440.6" y="742.9" font-size="11.1" text-anchor="end" fill="#3a3a3a">700</text><text x="440.6" y="718" font-size="11.1" text-anchor="end" fill="#3a3a3a">800</text><text x="440.6" y="693.1" font-size="11.1" text-anchor="end" fill="#3a3a3a">900</text><text x="440.6" y="668.2" font-size="11.1" text-anchor="end" fill="#3a3a3a">1000</text><text x="440.6" y="643.3" font-size="11.1" text-anchor="end" fill="#3a3a3a">1100</text><text x="440.6" y="618.4" font-size="11.1" text-anchor="end" fill="#3a3a3a">1200</text><path d="M444.2 771 v-2.5 M444.2 608.4 v2.5 M506.5 771 v-2.5 M506.5 608.4 v2.5 M568.9 771 v-2.5 M568.9 608.4 v2.5 M631.2 771 v-2.5 M631.2 608.4 v2.5 M693.6 771 v-2.5 M693.6 608.4 v2.5 M755.9 771 v-2.5 M755.9 608.4 v2.5 M444.2 763.9 h2.5 M798.3 763.9 h-2.5 M444.2 739 h2.5 M798.3 739 h-2.5 M444.2 714.1 h2.5 M798.3 714.1 h-2.5 M444.2 689.2 h2.5 M798.3 689.2 h-2.5 M444.2 664.3 h2.5 M798.3 664.3 h-2.5 M444.2 639.4 h2.5 M798.3 639.4 h-2.5 M444.2 614.5 h2.5 M798.3 614.5 h-2.5 " stroke="#bdbdbd" stroke-width="0.8" fill="none"/><text transform="translate(412 690) rotate(-90)" font-size="12.7" text-anchor="middle" fill="#333">Intensity (a.n.)</text><text x="621.5" y="806.8" font-size="13" text-anchor="middle" fill="#333">Raman Shift (cm<tspan dy="-4.5" font-size="8.5">-1</tspan><tspan dy="4.5">)</tspan></text><clipPath id="cp"><rect x="444.2" y="608.4" width="354.1" height="162.6"/></clipPath><g clip-path="url(#cp)"><polygon points="444.2,759.2 444.9,758 445.6,756.3 446.3,754.7 446.9,753.9 447.6,752.6 448.3,750.7 449,749.6 449.7,748.9 450.4,748.9 451.1,749.5 451.7,749.4 452.4,748 453.1,747.6 453.8,746.7 454.5,746.3 455.2,745 455.9,744 456.5,744 457.2,743.2 457.9,744 458.6,744.5 459.3,744.1 460,743.3 460.7,742.4 461.3,743.2 462,742.1 462.7,741.4 463.4,740.4 464.1,741 464.8,740.8 465.5,740.9 466.1,740.3 466.8,739.8 467.5,739.5 468.2,739.9 468.9,740.1 469.6,740.8 470.3,740.1 470.9,740.2 471.6,740.8 472.3,741.1 473,742.5 473.7,741.4 474.4,742.7 475.1,742.2 475.7,743.6 476.4,743.2 477.1,743.8 477.8,742.2 478.5,741.7 479.2,741.8 479.9,741.9 480.5,742.2 481.2,741.3 481.9,740.1 482.6,738.2 483.3,737.5 484,737.9 484.7,737.9 485.3,736.2 486,735.2 486.7,735.2 487.4,736.1 488.1,736 488.8,734.2 489.5,733.2 490.1,732.5 490.8,732.3 491.5,731.1 492.2,730.3 492.9,730.4 493.6,730.2 494.3,729.1 494.9,729 495.6,729.1 496.3,727.9 497,726.3 497.7,724.8 498.4,725.9 499.1,726 499.7,725.8 500.4,724 501.1,723 501.8,723.1 502.5,722.5 503.2,721.2 503.9,719.4 504.5,720.2 505.2,720.8 505.9,720.8 506.6,719.6 507.3,717.8 508,717.8 508.7,717.6 509.3,717.9 510,716.9 510.7,716.2 511.4,716.3 512.1,715.3 512.8,714.6 513.5,713.2 514.1,713.5 514.8,714.2 515.5,714.9 516.2,715.6 516.9,716 517.6,716.1 518.3,717.2 518.9,717.4 519.6,717.3 520.3,716.5 521,715.7 521.7,716.7 522.4,717.1 523.1,717.6 523.7,717 524.4,716.9 525.1,716.2 525.8,716.4 526.5,716.4 527.2,716.9 527.9,716.5 528.5,716.2 529.2,715.4 529.9,715.1 530.6,715 531.3,716.1 532,715.5 532.7,715.4 533.3,714.4 534,714.7 534.7,712.9 535.4,712.2 536.1,712.3 536.8,712.6 537.5,713.2 538.1,712 538.8,711.3 539.5,710.9 540.2,710.1 540.9,710.2 541.6,708.8 542.3,709.1 542.9,708.1 543.6,707.8 544.3,706.1 545,705.6 545.7,703.8 546.4,701.1 547.1,695.8 547.7,687.4 548.4,664 549.1,642.5 549.8,625.1 550.5,615 551.2,611.9 551.9,616.2 552.5,619.5 553.2,621.4 553.9,621.5 554.6,622.6 555.3,623.2 556,625 556.7,626.9 557.3,629 558,630.6 558.7,631.7 559.4,633.1 560.1,633.7 560.8,634.5 561.5,635.5 562.1,638.2 562.8,639 563.5,640.1 564.2,641.4 564.9,646.4 565.6,651.5 566.3,655.9 566.9,661.5 567.6,666 568.3,670.9 569,675.3 569.7,681 570.4,686.4 571.1,692.1 571.7,693.8 572.4,696.2 573.1,698 573.8,699.2 574.5,701.1 575.2,702.7 575.9,705.8 576.5,707.7 577.2,708.9 577.9,709.8 578.6,710.4 579.3,711.5 580,713.3 580.7,714.4 581.3,715.5 582,716.4 582.7,717.4 583.4,718.6 584.1,718.2 584.8,718.4 585.5,718.9 586.1,719.6 586.8,719.8 587.5,720.3 588.2,721.3 588.9,721.6 589.6,721.6 590.3,720.3 590.9,719.8 591.6,719.2 592.3,719.4 593,719.1 593.7,719.4 594.4,719.1 595.1,719.5 595.7,719.2 596.4,719.6 597.1,718 597.8,717.2 598.5,717.2 599.2,718.5 599.9,718.7 600.5,718.5 601.2,718.1 601.9,718.1 602.6,717.4 603.3,719.2 604,719.1 604.7,719.5 605.3,717.7 606,718.4 606.7,718.9 607.4,720 608.1,719.4 608.8,718.7 609.5,718.8 610.1,719 610.8,718.9 611.5,718.4 612.2,718 612.9,717.8 613.6,717.3 614.3,717.7 614.9,716.8 615.6,716.2 616.3,714.8 617,715.1 617.7,714.7 618.4,714.7 619.1,714 619.7,713.6 620.4,712.2 621.1,711.4 621.8,710.8 622.5,709.5 623.2,708.9 623.9,707.6 624.5,707.5 625.2,705.7 625.9,705.3 626.6,705 627.3,705 628,705.3 628.7,705.1 629.3,704.9 630,704 630.7,704 631.4,703.1 632.1,703 632.8,701.4 633.5,701.3 634.1,701 634.8,701.6 635.5,702.6 636.2,701.9 636.9,700.7 637.6,699.6 638.3,699.8 639,700.7 639.6,700.9 640.3,700.8 641,699.6 641.7,699 642.4,698.4 643.1,698.6 643.8,698.4 644.4,699 645.1,699.2 645.8,699.6 646.5,698.6 647.2,698 647.9,697.7 648.6,698.3 649.2,699 649.9,698.3 650.6,697.5 651.3,697.2 652,697.3 652.7,697.3 653.4,697.5 654,697 654.7,696.3 655.4,694.6 656.1,694.7 656.8,695.3 657.5,695.7 658.2,695.1 658.8,694.3 659.5,694.4 660.2,694.3 660.9,694.7 661.6,693.8 662.3,694.3 663,693.6 663.6,694.1 664.3,693.2 665,693.9 665.7,693.8 666.4,694 667.1,694.5 667.8,693.9 668.4,693.6 669.1,691.8 669.8,692.1 670.5,691 671.2,690.6 671.9,690.1 672.6,689.3 673.2,688.7 673.9,688.4 674.6,687 675.3,685.8 676,683.9 676.7,684.2 677.4,683.6 678,683.5 678.7,682.8 679.4,682.3 680.1,682 680.8,682.3 681.5,682.6 682.2,683.1 682.8,682.9 683.5,683 684.2,681.6 684.9,681.7 685.6,682.1 686.3,682.5 687,682.7 687.6,683.4 688.3,683.4 689,683.7 689.7,681.8 690.4,681.5 691.1,680.2 691.8,680.4 692.4,680.5 693.1,680.4 693.8,681 694.5,680 695.2,680 695.9,679.7 696.6,679.8 697.2,678.9 697.9,677.6 698.6,676.1 699.3,675.1 700,674.5 700.7,674.9 701.4,674.9 702,674.2 702.7,672.8 703.4,671.5 704.1,670.3 704.8,669.6 705.5,669.5 706.2,669.3 706.8,669.4 707.5,667.6 708.2,666.5 708.9,665.3 709.6,666.3 710.3,667.3 711,667.9 711.6,667.7 712.3,667 713,666.3 713.7,666.4 714.4,666.1 715.1,666.4 715.8,666 716.4,666.7 717.1,667 717.8,667.7 718.5,667.9 719.2,668.8 719.9,669.4 720.6,669.7 721.2,669.7 721.9,670.4 722.6,671 723.3,671.7 724,671.2 724.7,671.5 725.4,671.6 726,671.6 726.7,671.6 727.4,671.1 728.1,671.9 728.8,672.6 729.5,673.8 730.2,673.6 730.8,673 731.5,672.4 732.2,671.6 732.9,671.3 733.6,671.2 734.3,671 735,670.7 735.6,670.1 736.3,670.5 737,670.8 737.7,670.8 738.4,670.5 739.1,669.6 739.8,669.5 740.4,669.8 741.1,669.3 741.8,669.8 742.5,670.3 743.2,671.5 743.9,671.4 744.6,670.5 745.2,670.7 745.9,670.7 746.6,671.1 747.3,670.8 748,671.8 748.7,672.1 749.4,673.3 750,672.2 750.7,672.9 751.4,672.9 752.1,673.5 752.8,673.4 753.5,673.2 754.2,673.3 754.8,673.7 755.5,674.1 756.2,674.1 756.9,674 757.6,673.5 758.3,674.5 759,674.2 759.6,674.4 760.3,673.5 761,672.3 761.7,673 762.4,673.6 763.1,674.8 763.8,673.8 764.4,674 765.1,673.8 765.8,674.3 766.5,673.5 767.2,673.9 767.9,672.1 768.6,672 769.2,671.3 769.9,673.9 770.6,674.4 771.3,674.9 772,673 772.7,673.1 773.4,672.9 774,674.2 774.7,673.9 775.4,675.1 776.1,675.7 776.8,676.1 777.5,674.8 778.2,673.5 778.8,673.3 779.5,674.4 780.2,674.4 780.9,674.5 781.6,674.5 782.3,675.5 783,675.6 783.6,674.5 784.3,674.5 785,674.9 785.7,676.1 786.4,677.1 787.1,676.4 787.8,676.8 788.4,676 789.1,677.2 789.8,677.3 790.5,678.5 791.2,678.1 791.9,676.7 792.6,674.5 793.2,674.1 793.9,674.3 794.6,675.3 795.3,675.9 796,675.9 796.7,675.7 797.4,675.7 798,675.6 798,686.5 797.4,686.7 796.7,688.4 796,687.5 795.3,687.4 794.6,688.1 793.9,687.5 793.2,686.8 792.6,686.9 791.9,688 791.2,688.7 790.5,689 789.8,687.7 789.1,687.7 788.4,686.7 787.8,687.4 787.1,686.9 786.4,687.6 785.7,687.3 785,688 784.3,688 783.6,687.9 783,686.3 782.3,685.9 781.6,685.9 780.9,686 780.2,686.9 779.5,686.9 778.8,687 778.2,686.3 777.5,686 776.8,686.2 776.1,685.6 775.4,685.3 774.7,685 774,685.4 773.4,685.2 772.7,684.8 772,684 771.3,684.2 770.6,684.4 769.9,684.5 769.2,685.2 768.6,685.5 767.9,685.6 767.2,686.1 766.5,686 765.8,686.9 765.1,685.5 764.4,685.6 763.8,684.4 763.1,685.7 762.4,685.2 761.7,685.4 761,684 760.3,683.4 759.6,683.5 759,685 758.3,685.7 757.6,686.5 756.9,685.9 756.2,686.6 755.5,686.3 754.8,686.6 754.2,685.9 753.5,685.5 752.8,684.8 752.1,684.6 751.4,684.2 750.7,683.8 750,684.5 749.4,684 748.7,684.2 748,682.3 747.3,682.6 746.6,682.4 745.9,682.7 745.2,683.2 744.6,682.4 743.9,682 743.2,681.3 742.5,681.6 741.8,682.3 741.1,681.7 740.4,681.4 739.8,681.5 739.1,682.5 738.4,683.1 737.7,683.3 737,682.7 736.3,682.3 735.6,682.8 735,683.1 734.3,682.3 733.6,681.5 732.9,681.6 732.2,683.8 731.5,683.7 730.8,683.8 730.2,683.4 729.5,683.6 728.8,683.9 728.1,683.5 727.4,683.6 726.7,684.1 726,683.9 725.4,684.5 724.7,683.8 724,683.6 723.3,682.6 722.6,682.1 721.9,681.5 721.2,681.4 720.6,681 719.9,680.2 719.2,680.3 718.5,680.5 717.8,680.3 717.1,679 716.4,677.4 715.8,677.2 715.1,677.7 714.4,678.7 713.7,679.3 713,678.8 712.3,678.5 711.6,678.1 711,677.8 710.3,677.4 709.6,677.8 708.9,678.8 708.2,679.9 707.5,680.7 706.8,681 706.2,681.6 705.5,682.5 704.8,684.1 704.1,684.9 703.4,685.6 702.7,685.2 702,686.1 701.4,686.7 700.7,687.8 700,688.1 699.3,687.5 698.6,688.3 697.9,688.4 697.2,689.7 696.6,690.9 695.9,692 695.2,692.9 694.5,692.6 693.8,692.8 693.1,692.4 692.4,692.2 691.8,692.3 691.1,693.1 690.4,693.3 689.7,694.6 689,693.9 688.3,693.8 687.6,693.4 687,694.4 686.3,695 685.6,695.5 684.9,694.9 684.2,694.5 683.5,693.8 682.8,694.7 682.2,694.4 681.5,694.4 680.8,693.3 680.1,693.8 679.4,695.2 678.7,696.5 678,697.2 677.4,697.5 676.7,697.4 676,698.1 675.3,698.6 674.6,698.8 673.9,699.7 673.2,699.8 672.6,700.7 671.9,701.4 671.2,702.3 670.5,703.4 669.8,703.3 669.1,703.3 668.4,703.3 667.8,703.4 667.1,704.3 666.4,704.4 665.7,705.6 665,706.7 664.3,707.8 663.6,708.1 663,707.3 662.3,707 661.6,706 660.9,705 660.2,705.6 659.5,706.5 658.8,707.2 658.2,707.7 657.5,707.3 656.8,707.9 656.1,708.5 655.4,709.2 654.7,709.4 654,709.2 653.4,708.9 652.7,709.3 652,709.2 651.3,709.8 650.6,709.5 649.9,708.9 649.2,708.8 648.6,708.5 647.9,709.4 647.2,709.3 646.5,710.1 645.8,711.1 645.1,713 644.4,712.6 643.8,711.7 643.1,709.9 642.4,711.1 641.7,712 641,712.3 640.3,712.7 639.6,712.5 639,712.9 638.3,713.8 637.6,713.9 636.9,714.3 636.2,714.4 635.5,714.2 634.8,713.8 634.1,712.7 633.5,713.2 632.8,714 632.1,714.8 631.4,714.9 630.7,715.2 630,714.8 629.3,716 628.7,716.1 628,716.9 627.3,716.6 626.6,718.1 625.9,718.8 625.2,719.7 624.5,719.3 623.9,718.7 623.2,720.2 622.5,721 621.8,723.2 621.1,723.5 620.4,724.5 619.7,725.4 619.1,726.1 618.4,726.4 617.7,726 617,726.4 616.3,727.5 615.6,729.1 614.9,728.7 614.3,729.6 613.6,729 612.9,730 612.2,729.6 611.5,731.3 610.8,730.4 610.1,730.5 609.5,728.9 608.8,728.9 608.1,728.3 607.4,728.5 606.7,729 606,729.6 605.3,730.4 604.7,730 604,730.4 603.3,730.6 602.6,730.4 601.9,730.3 601.2,729.3 600.5,729.9 599.9,729.3 599.2,730.6 598.5,730.6 597.8,731 597.1,730.3 596.4,730.6 595.7,731.3 595.1,732.8 594.4,733.3 593.7,731.9 593,731.3 592.3,731 591.6,732.1 590.9,732.1 590.3,732.9 589.6,733.4 588.9,733 588.2,732.9 587.5,731.8 586.8,731.1 586.1,730.5 585.5,731.3 584.8,732.4 584.1,732 583.4,731.2 582.7,729.3 582,728.2 581.3,727.6 580.7,727.6 580,726.9 579.3,724.8 578.6,722.6 577.9,721.3 577.2,720.3 576.5,720.1 575.9,718.2 575.2,715.5 574.5,713.1 573.8,711.6 573.1,709.9 572.4,706.9 571.7,704.4 571.1,702.6 570.4,700.1 569.7,695.5 569,691.1 568.3,684.6 567.6,679.7 566.9,674.9 566.3,667.8 565.6,662 564.9,655.7 564.2,652.8 563.5,651.6 562.8,651.5 562.1,649.8 561.5,648.3 560.8,644.9 560.1,643.4 559.4,642.6 558.7,641.6 558,641.3 557.3,640.1 556.7,640.1 556,638.9 555.3,637.1 554.6,635.4 553.9,633.8 553.2,632.1 552.5,630.9 551.9,628.7 551.2,625.1 550.5,629.1 549.8,638.1 549.1,655.7 548.4,677 547.7,701.2 547.1,711 546.4,715 545.7,716.5 545,716.7 544.3,717.1 543.6,719.6 542.9,720.6 542.3,722.2 541.6,721.3 540.9,721.8 540.2,721.7 539.5,721.4 538.8,721.7 538.1,722.9 537.5,723.8 536.8,724.2 536.1,724.5 535.4,726.9 534.7,727.6 534,728.5 533.3,727.6 532.7,727.3 532,726.7 531.3,726.1 530.6,726.6 529.9,727 529.2,727.6 528.5,728 527.9,728.5 527.2,729.1 526.5,729.1 525.8,728.6 525.1,728.9 524.4,729.5 523.7,728.7 523.1,728.1 522.4,728 521.7,728 521,727.3 520.3,727.3 519.6,727.4 518.9,728.1 518.3,727.6 517.6,727.8 516.9,727.3 516.2,727.2 515.5,726.7 514.8,726.3 514.1,725.2 513.5,725.9 512.8,727.2 512.1,728 511.4,727.6 510.7,727.9 510,728.5 509.3,729.8 508.7,730.6 508,731 507.3,732.7 506.6,732.9 505.9,733.5 505.2,732.5 504.5,732.9 503.9,733.7 503.2,734.8 502.5,735.2 501.8,736.4 501.1,737.2 500.4,737.7 499.7,737.3 499.1,736.6 498.4,737.3 497.7,738.4 497,740.1 496.3,740.5 495.6,741 494.9,740.7 494.3,741.6 493.6,741.9 492.9,742.1 492.2,742.6 491.5,742.6 490.8,744.4 490.1,743.9 489.5,744.9 488.8,744.8 488.1,745.3 487.4,745.6 486.7,746.1 486,748.1 485.3,748.5 484.7,749.4 484,749.9 483.3,751.6 482.6,751.4 481.9,752.4 481.2,753 480.5,753.9 479.9,754.1 479.2,754.4 478.5,754.8 477.8,755.5 477.1,755.8 476.4,755.6 475.7,754.8 475.1,754 474.4,753.2 473.7,753.1 473,753.1 472.3,753.5 471.6,753.4 470.9,752.7 470.3,751.8 469.6,750.6 468.9,750.5 468.2,751.6 467.5,752 466.8,752.3 466.1,751.6 465.5,751.9 464.8,752.6 464.1,752.3 463.4,752.1 462.7,752 462,753.5 461.3,754.7 460.7,755.8 460,756.5 459.3,757.4 458.6,757.1 457.9,757.3 457.2,757.1 456.5,757.7 455.9,756.3 455.2,757.3 454.5,758 453.8,760.9 453.1,760.7 452.4,760 451.7,758.9 451.1,759.5 450.4,761.5 449.7,761.9 449,762.6 448.3,762.8 447.6,765 446.9,766 446.3,767.2 445.6,767.4 444.9,769 444.2,770.1" fill="#f8d3cc" opacity="0.8"/><polyline points="444.2,764.5 444.9,763.6 445.6,762.4 446.3,761.4 446.9,760.5 447.6,760 448.3,758.4 449,756.4 449.7,755.5 450.4,754.5 451.1,754 451.7,753.3 452.4,753 453.1,753 453.8,752.9 454.5,752.7 455.2,751.6 455.9,750.9 456.5,750.6 457.2,751.2 457.9,751.3 458.6,750.9 459.3,750.7 460,749.8 460.7,748.9 461.3,747.6 462,748.1 462.7,747.6 463.4,747.8 464.1,747.5 464.8,747.4 465.5,746.4 466.1,746.7 466.8,747.2 467.5,746.4 468.2,744.7 468.9,744.3 469.6,745.3 470.3,746.3 470.9,747.3 471.6,747.6 472.3,748.6 473,748.7 473.7,749 474.4,748.5 475.1,748.7 475.7,748.6 476.4,749.1 477.1,749.1 477.8,748.8 478.5,748.9 479.2,749 479.9,748.7 480.5,747.9 481.2,747.5 481.9,747.3 482.6,746.3 483.3,745.2 484,743.9 484.7,742.5 485.3,741.6 486,741.2 486.7,741.6 487.4,740.9 488.1,740.5 488.8,739.4 489.5,739 490.1,738.3 490.8,737.5 491.5,736.1 492.2,735.7 492.9,735.5 493.6,735.2 494.3,734.6 494.9,734.3 495.6,734.1 496.3,733.7 497,732.6 497.7,731.8 498.4,731.8 499.1,731.8 499.7,731.9 500.4,731.5 501.1,730.9 501.8,729 502.5,728.1 503.2,728.1 503.9,728 504.5,727.1 505.2,726.1 505.9,725.8 506.6,725.1 507.3,724.6 508,723.8 508.7,723 509.3,722.5 510,722.4 510.7,722.2 511.4,721.4 512.1,720.3 512.8,719 513.5,718.4 514.1,719.4 514.8,719.9 515.5,720.6 516.2,721.1 516.9,722 517.6,722.2 518.3,722.3 518.9,721.6 519.6,721.3 520.3,722.1 521,723.2 521.7,723.8 522.4,723.1 523.1,722.2 523.7,721.9 524.4,722.2 525.1,722.6 525.8,722.5 526.5,722 527.2,722 527.9,722.8 528.5,723.2 529.2,722.4 529.9,721.5 530.6,721.2 531.3,721.3 532,722.1 532.7,722 533.3,721.2 534,720.6 534.7,720.9 535.4,719.8 536.1,718.6 536.8,717.7 537.5,717.2 538.1,716.9 538.8,717.1 539.5,717.3 540.2,717.1 540.9,716.5 541.6,716.1 542.3,715.4 542.9,714.7 543.6,713.7 544.3,712.7 545,711.2 545.7,709.3 546.4,706.8 547.1,702.7 547.7,694.5 548.4,670.6 549.1,648 549.8,630.8 550.5,621.5 551.2,618.4 551.9,621.9 552.5,624.8 553.2,626.9 553.9,627.9 554.6,629.5 555.3,631.1 556,632.5 556.7,633.6 557.3,634.7 558,636.3 558.7,637.5 559.4,639.3 560.1,640.3 560.8,641.2 561.5,640.7 562.1,641 562.8,641.7 563.5,643.5 564.2,644.5 564.9,648.6 565.6,654.7 566.3,662.4 566.9,669.2 567.6,673.8 568.3,678.5 569,683.8 569.7,688.8 570.4,693.2 571.1,697.7 571.7,700.3 572.4,702 573.1,704.4 573.8,706.8 574.5,708.8 575.2,709.4 575.9,710.8 576.5,712.8 577.2,714.4 577.9,715.7 578.6,716.6 579.3,718 580,719.6 580.7,721.2 581.3,722.1 582,722.4 582.7,722.6 583.4,723.7 584.1,725.3 584.8,726.9 585.5,726.5 586.1,726.2 586.8,726.2 587.5,726.4 588.2,726.6 588.9,727.1 589.6,727.6 590.3,727.5 590.9,727 591.6,726 592.3,725.9 593,725.9 593.7,725.8 594.4,725 595.1,725 595.7,725.1 596.4,725.2 597.1,725.2 597.8,724 598.5,722.9 599.2,722.5 599.9,723.9 600.5,724.4 601.2,724.3 601.9,723.6 602.6,723.1 603.3,722.5 604,723.3 604.7,724.6 605.3,725.5 606,725.4 606.7,725.3 607.4,724.8 608.1,724.3 608.8,723.8 609.5,724.1 610.1,723.9 610.8,723.1 611.5,723.3 612.2,723.6 612.9,723.7 613.6,723.1 614.3,723.1 614.9,722.7 615.6,721.5 616.3,720.7 617,720.6 617.7,721.2 618.4,720.6 619.1,720 619.7,719.4 620.4,718.5 621.1,717.2 621.8,716.3 622.5,715.7 623.2,714.4 623.9,713.3 624.5,712.5 625.2,711.8 625.9,711.2 626.6,710.5 627.3,710.4 628,709.8 628.7,709.4 629.3,709.7 630,710.2 630.7,709.6 631.4,708.7 632.1,708.7 632.8,708.5 633.5,708.5 634.1,708.3 634.8,708.1 635.5,707.2 636.2,707.3 636.9,707.8 637.6,707.3 638.3,706.6 639,706.2 639.6,705.5 640.3,704.9 641,705.7 641.7,705.6 642.4,704.4 643.1,703.6 643.8,703.5 644.4,703.4 645.1,703.2 645.8,703.8 646.5,703.8 647.2,704 647.9,703.4 648.6,702.7 649.2,702.3 649.9,702.6 650.6,703.1 651.3,702.7 652,701.9 652.7,701.8 653.4,701.9 654,701.4 654.7,700.9 655.4,701.4 656.1,702.1 656.8,702.2 657.5,701.3 658.2,701.5 658.8,702 659.5,702.3 660.2,701.3 660.9,701.2 661.6,700.3 662.3,700 663,699.5 663.6,699.4 664.3,698.8 665,698.6 665.7,699.1 666.4,699 667.1,699.1 667.8,698.8 668.4,698.3 669.1,697.8 669.8,697 670.5,696.1 671.2,695.8 671.9,695.5 672.6,695 673.2,693.7 673.9,693.4 674.6,692.8 675.3,692.2 676,690.6 676.7,690.3 677.4,690.5 678,690.7 678.7,689.3 679.4,688.7 680.1,688.3 680.8,688.1 681.5,687.6 682.2,687.9 682.8,688.6 683.5,689 684.2,688.7 684.9,688.8 685.6,688.8 686.3,688.5 687,688.2 687.6,688.3 688.3,688.3 689,687.7 689.7,687.8 690.4,688.4 691.1,688 691.8,687 692.4,687 693.1,687.3 693.8,686.3 694.5,685.5 695.2,685.7 695.9,685.9 696.6,684.6 697.2,683.8 697.9,683.2 698.6,682.6 699.3,681.4 700,681.1 700.7,680.6 701.4,680 702,679 702.7,678.3 703.4,677.7 704.1,677.9 704.8,677.4 705.5,676.5 706.2,676.1 706.8,676 707.5,675 708.2,673.8 708.9,674 709.6,674.1 710.3,674.1 711,673.3 711.6,673.7 712.3,673.4 713,672.8 713.7,671.9 714.4,672.2 715.1,672.7 715.8,672.7 716.4,672.7 717.1,673.3 717.8,674.1 718.5,674.3 719.2,674.2 719.9,674.5 720.6,675.4 721.2,676.5 721.9,677 722.6,676.9 723.3,676.8 724,677.8 724.7,678.8 725.4,679.8 726,678.8 726.7,678 727.4,677.5 728.1,677.6 728.8,678 729.5,678 730.2,677.9 730.8,677.6 731.5,677.6 732.2,677.1 732.9,676.4 733.6,676.6 734.3,677.2 735,677.3 735.6,676.4 736.3,676.6 737,677 737.7,677 738.4,675.7 739.1,675.3 739.8,675.6 740.4,676.1 741.1,675.8 741.8,675.6 742.5,675.5 743.2,675.7 743.9,675.9 744.6,676 745.2,676.1 745.9,676.3 746.6,677 747.3,677.5 748,677.7 748.7,677.3 749.4,677.3 750,677.1 750.7,677.8 751.4,678.6 752.1,679.2 752.8,679.4 753.5,679.7 754.2,680 754.8,680.1 755.5,679.4 756.2,679.1 756.9,678.7 757.6,679.5 758.3,679.5 759,680 759.6,679.6 760.3,679 761,677.9 761.7,677.6 762.4,678 763.1,678.7 763.8,678.9 764.4,678.5 765.1,678.9 765.8,679.4 766.5,680 767.2,679.2 767.9,679.3 768.6,678.9 769.2,679.5 769.9,679.7 770.6,679.5 771.3,678.6 772,678.6 772.7,680 773.4,680.8 774,680.3 774.7,679.6 775.4,679.8 776.1,680 776.8,679.4 777.5,679.4 778.2,680 778.8,680.7 779.5,680.1 780.2,679.9 780.9,680 781.6,681.2 782.3,681.3 783,681.1 783.6,680.8 784.3,681.3 785,681.3 785.7,682 786.4,682.7 787.1,682.8 787.8,681.6 788.4,681.2 789.1,681.6 789.8,682.5 790.5,683 791.2,683.2 791.9,683.2 792.6,682.8 793.2,682.4 793.9,681.3 794.6,680.9 795.3,680.6 796,681.1 796.7,680.8 797.4,680.1 798,679.6" fill="none" stroke="#c4161c" stroke-width="1.1" stroke-linejoin="round"/></g><text x="26.6" y="41.7" font-size="39" font-weight="bold" textLength="19.6" lengthAdjust="spacingAndGlyphs" fill="#111">a</text><text x="77.5" y="41.8" font-size="28.6" textLength="222.2" lengthAdjust="spacingAndGlyphs" fill="#111">Primary aptamer</text><text x="373.4" y="39.4" font-size="39" font-weight="bold" fill="#111">b</text><text x="405.6" y="39.4" font-size="28.6" textLength="399.8" lengthAdjust="spacingAndGlyphs" fill="#111">Fluorescent secondary aptamer</text><text x="413.4" y="74.5" font-size="28.6" textLength="377.6" lengthAdjust="spacingAndGlyphs" fill="#111">+ SARS-CoV-2 or patient saliva</text><text x="25.4" y="499.9" font-size="39" font-weight="bold" fill="#111" stroke="#111" stroke-width="0.8">c</text><text x="58.8" y="499.9" font-size="27.8" textLength="289.8" lengthAdjust="spacingAndGlyphs" fill="#111">Raman scattering from</text><text x="129.1" y="533.1" font-size="27.8" textLength="159.7" lengthAdjust="spacingAndGlyphs" fill="#111">metasurface</text><text x="375.5" y="499" font-size="39" font-weight="bold" fill="#111">d</text><text x="407.1" y="496.9" font-size="27.8" textLength="392" lengthAdjust="spacingAndGlyphs" fill="#111">Raman spectral measurements</text><text x="477.2" y="528" font-size="27.8" textLength="221.5" lengthAdjust="spacingAndGlyphs" fill="#111">and classification</text><text x="646.8" y="565.9" font-size="22.2" textLength="89.7" lengthAdjust="spacingAndGlyphs" fill="#111">Machine</text><text x="646.7" y="591" font-size="22.2" textLength="90.4" lengthAdjust="spacingAndGlyphs" fill="#111">Learning</text></svg></body></html>
